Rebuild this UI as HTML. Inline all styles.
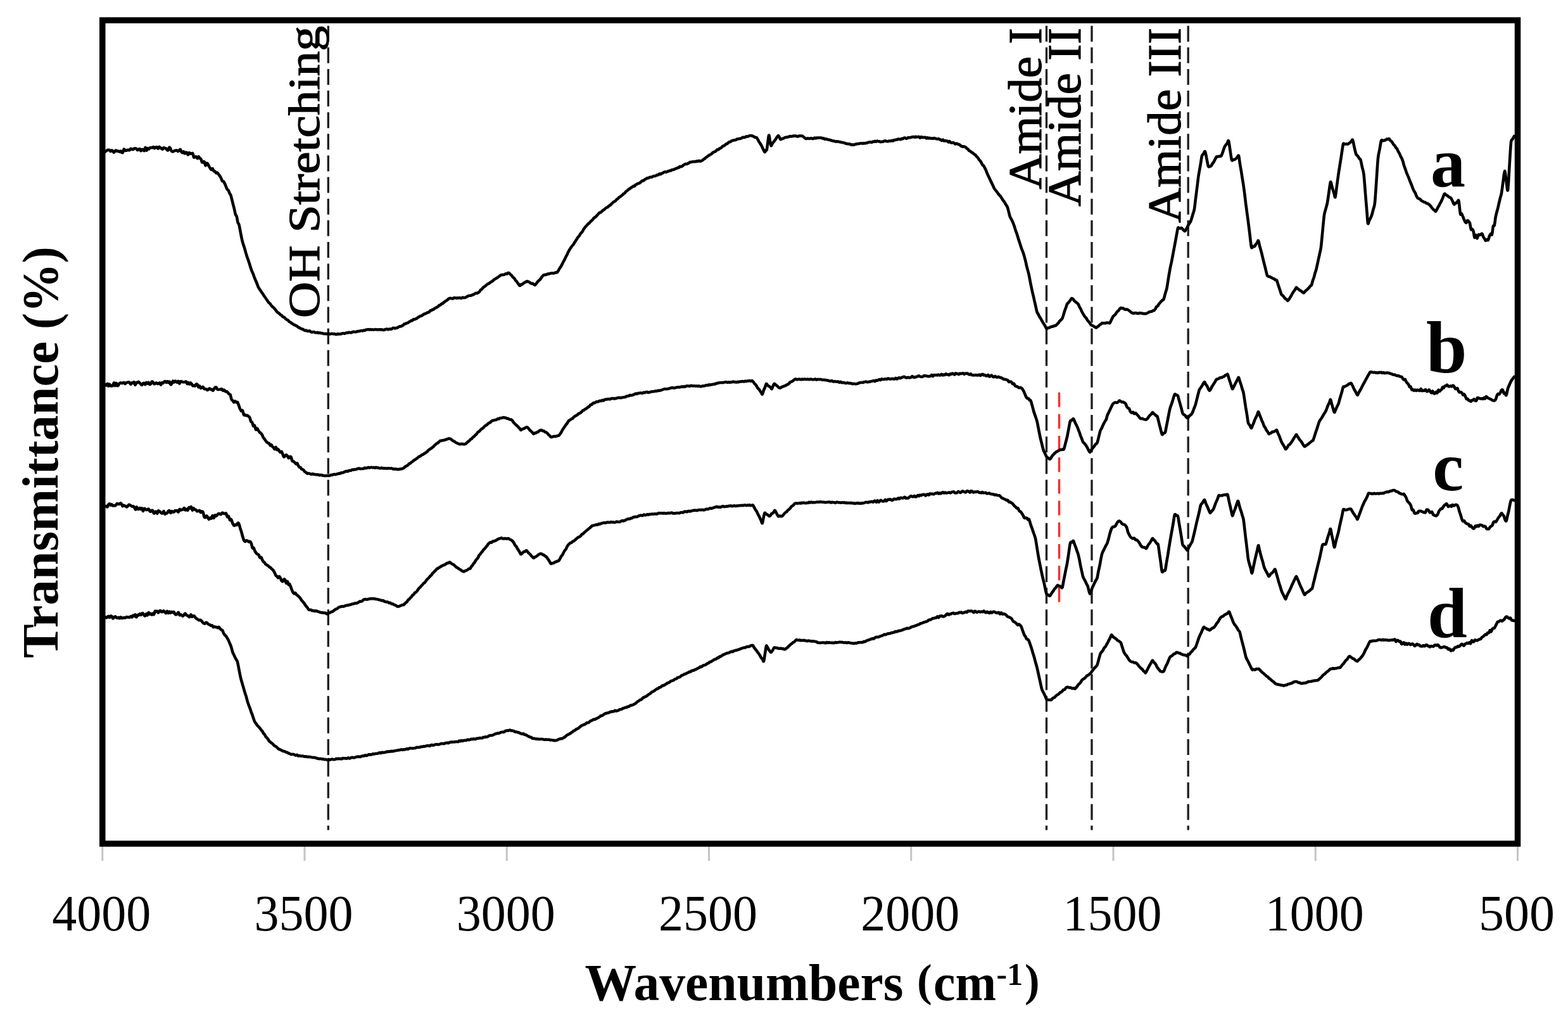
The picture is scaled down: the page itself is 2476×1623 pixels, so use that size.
<!DOCTYPE html>
<html><head><meta charset="utf-8"><title>FTIR spectra</title>
<style>html,body{margin:0;padding:0;background:#fff;}body{width:2476px;height:1623px;overflow:hidden;}svg{display:block;}text{font-family:"Liberation Serif",serif;fill:#000;}</style>
</head><body>
<svg width="2476" height="1623" viewBox="0 0 2476 1623">
<rect width="2476" height="1623" fill="#fff"/>
<g stroke="#c4c4c4" stroke-width="3"><line x1="161.75" y1="1336" x2="161.75" y2="1359"/><line x1="481.00" y1="1336" x2="481.00" y2="1359"/><line x1="800.25" y1="1336" x2="800.25" y2="1359"/><line x1="1119.50" y1="1336" x2="1119.50" y2="1359"/><line x1="1438.75" y1="1336" x2="1438.75" y2="1359"/><line x1="1758.00" y1="1336" x2="1758.00" y2="1359"/><line x1="2077.25" y1="1336" x2="2077.25" y2="1359"/><line x1="2396.50" y1="1336" x2="2396.50" y2="1359"/></g>
<g stroke="#222" stroke-width="3.4" stroke-dasharray="25 9.13" fill="none"><line x1="518.3" y1="40.7" x2="518.3" y2="1310.5"/><line x1="1652.5" y1="40.7" x2="1652.5" y2="1310.5"/><line x1="1724" y1="40.7" x2="1724" y2="1310.5"/><line x1="1876.2" y1="40.7" x2="1876.2" y2="1310.5"/></g>
<line x1="1672.5" y1="619.6" x2="1672.5" y2="952" stroke="#ff2a2a" stroke-width="3.4" stroke-dasharray="23 11.2"/>
<g fill="none" stroke="#000" stroke-width="4.60" stroke-linejoin="round" stroke-linecap="round"><path d="M166.0,239.5C166.3,239.3 167.2,238.7 167.7,238.3C168.3,237.9 168.9,237.3 169.5,237.0C170.0,236.8 170.6,236.9 171.2,236.8C171.8,236.8 172.3,236.5 172.9,236.8C173.5,237.2 174.1,238.8 174.6,238.9C175.2,239.0 175.8,237.4 176.4,237.4C176.9,237.3 177.5,237.9 178.1,238.5C178.7,239.0 179.2,240.7 179.8,240.7C180.4,240.7 181.0,239.0 181.5,238.4C182.1,237.9 182.7,237.4 183.3,237.4C183.8,237.5 184.4,238.6 185.0,238.8C185.6,238.9 186.2,238.3 186.8,238.4C187.4,238.5 188.0,239.5 188.6,239.6C189.2,239.6 189.8,238.3 190.4,238.5C191.0,238.7 191.5,240.3 192.1,240.7C192.7,241.0 193.3,241.5 193.9,240.6C194.5,239.8 195.1,236.1 195.7,235.6C196.3,235.0 196.9,236.9 197.5,237.3C198.1,237.7 198.7,237.8 199.3,237.8C199.9,237.7 200.5,236.9 201.1,236.8C201.7,236.6 202.3,236.9 202.9,236.9C203.5,237.0 204.0,237.4 204.6,237.0C205.2,236.7 205.8,235.0 206.4,234.8C207.0,234.6 207.6,235.4 208.2,235.6C208.8,235.8 209.4,236.2 210.0,236.0C210.6,235.8 211.2,234.9 211.8,234.6C212.4,234.3 213.0,234.2 213.6,234.3C214.2,234.3 214.8,234.3 215.4,234.8C216.0,235.2 216.5,236.8 217.1,237.0C217.7,237.2 218.3,236.3 218.9,236.0C219.5,235.6 220.1,234.7 220.7,235.0C221.3,235.4 221.9,238.0 222.5,238.2C223.1,238.3 223.7,236.4 224.3,236.0C224.9,235.7 225.5,235.9 226.1,236.2C226.7,236.5 227.3,238.5 227.9,237.9C228.5,237.3 229.0,232.9 229.6,232.8C230.2,232.8 230.8,237.4 231.4,237.6C232.0,237.8 232.6,234.4 233.2,234.0C233.8,233.7 234.4,235.6 235.0,235.5C235.6,235.4 236.2,233.8 236.8,233.4C237.4,232.9 238.0,233.1 238.6,233.0C239.2,233.0 239.8,233.4 240.5,233.2C241.1,233.0 241.7,231.8 242.3,232.0C242.9,232.2 243.5,234.2 244.1,234.3C244.7,234.3 245.3,232.9 245.9,232.6C246.5,232.2 247.1,231.9 247.7,232.2C248.3,232.5 248.9,234.7 249.5,234.6C250.2,234.5 250.8,231.9 251.4,231.8C252.0,231.6 252.6,233.4 253.2,233.8C253.8,234.1 254.4,233.7 255.0,234.0C255.6,234.3 256.2,235.7 256.7,235.6C257.3,235.5 257.9,233.5 258.5,233.2C259.0,232.9 259.6,233.7 260.2,233.9C260.8,234.1 261.3,233.8 261.9,234.2C262.5,234.6 263.1,235.9 263.7,236.4C264.2,236.9 264.8,237.8 265.4,237.3C266.0,236.7 266.5,233.5 267.1,232.9C267.7,232.3 268.3,232.9 268.8,233.7C269.4,234.6 270.0,237.0 270.6,238.0C271.2,238.9 271.7,239.2 272.3,239.4C272.9,239.6 273.5,239.2 274.0,238.9C274.6,238.7 275.2,238.3 275.8,238.0C276.3,237.8 276.9,237.6 277.5,237.5C278.1,237.4 278.7,237.1 279.2,237.4C279.8,237.6 280.4,238.9 281.0,239.0C281.6,239.0 282.2,238.2 282.8,237.7C283.3,237.2 283.9,235.7 284.5,235.9C285.1,236.2 285.7,238.3 286.2,239.2C286.8,240.1 287.4,241.3 288.0,241.3C288.6,241.3 289.2,239.1 289.8,239.3C290.3,239.4 290.9,242.1 291.5,242.3C292.1,242.5 292.7,240.8 293.2,240.6C293.8,240.4 294.4,240.4 295.0,241.0C295.6,241.6 296.2,244.4 296.9,244.4C297.5,244.4 298.1,241.4 298.8,241.0C299.4,240.7 300.0,242.3 300.6,242.5C301.2,242.8 301.9,242.4 302.5,242.4C303.1,242.4 303.8,241.4 304.4,242.4C305.0,243.4 305.6,247.7 306.2,248.5C306.9,249.3 307.5,247.5 308.1,247.4C308.8,247.2 309.4,247.0 310.0,247.5C310.6,248.0 311.2,250.2 311.8,250.2C312.4,250.2 313.0,247.4 313.6,247.3C314.2,247.3 314.8,249.3 315.5,249.9C316.1,250.5 316.7,250.0 317.3,251.0C317.9,252.1 318.5,255.4 319.1,256.2C319.7,256.9 320.3,255.7 320.9,255.6C321.5,255.4 322.1,254.5 322.7,255.5C323.3,256.5 323.9,261.0 324.5,261.4C325.2,261.7 325.8,258.0 326.4,257.6C327.0,257.2 327.6,258.1 328.2,258.9C328.8,259.7 329.4,261.4 330.0,262.5C330.6,263.6 331.2,264.7 331.9,265.6C332.5,266.5 333.1,267.9 333.8,268.0C334.4,268.1 335.0,265.8 335.6,266.1C336.2,266.5 336.9,269.4 337.5,270.1C338.1,270.9 338.8,269.9 339.4,270.5C340.0,271.0 340.6,272.9 341.2,273.2C341.9,273.6 342.5,272.3 343.1,272.5C343.8,272.8 344.4,274.1 345.0,275.0C345.6,275.9 346.3,276.8 347.0,277.8C347.7,278.8 348.3,279.6 349.0,281.0C349.7,282.3 350.3,285.0 351.0,285.9C351.7,286.8 352.3,285.8 353.0,286.5C353.7,287.2 354.4,288.7 355.0,290.0C355.6,291.3 356.2,293.0 356.9,294.5C357.5,296.0 358.1,298.0 358.8,299.0C359.4,299.9 360.0,299.4 360.6,300.4C361.2,301.4 361.9,303.7 362.5,305.0C363.1,306.3 363.8,306.6 364.4,308.3C365.0,310.0 365.6,312.8 366.2,315.2C366.9,317.7 367.5,320.4 368.1,322.9C368.8,325.3 369.4,327.4 370.0,330.0C370.6,332.6 371.2,336.6 371.9,338.6C372.5,340.6 373.1,339.8 373.8,341.9C374.4,344.1 375.0,349.3 375.6,351.4C376.2,353.6 376.8,352.2 377.5,355.0C378.2,357.8 379.2,363.8 380.0,368.0C380.8,372.1 381.8,376.9 382.5,380.0C383.2,383.1 383.8,384.5 384.4,386.5C385.0,388.5 385.6,389.9 386.2,392.0C386.9,394.1 387.5,396.8 388.1,398.9C388.8,401.1 389.4,403.1 390.0,405.0C390.6,406.9 391.2,408.4 391.9,410.3C392.5,412.1 393.1,414.1 393.8,416.0C394.4,418.0 395.0,420.1 395.6,422.0C396.2,423.9 396.9,425.8 397.5,427.5C398.1,429.2 398.8,430.3 399.5,431.9C400.2,433.6 400.8,435.7 401.5,437.5C402.2,439.2 402.8,440.8 403.5,442.4C404.2,444.0 404.8,445.3 405.5,447.0C406.2,448.7 406.9,451.0 407.5,452.5C408.1,454.0 408.8,454.8 409.4,455.7C410.0,456.7 410.6,457.4 411.2,458.4C411.9,459.3 412.5,460.5 413.1,461.4C413.8,462.3 414.4,462.9 415.0,463.9C415.6,464.8 416.2,466.1 416.9,467.1C417.5,468.0 418.1,468.7 418.8,469.6C419.4,470.4 420.0,471.4 420.6,472.3C421.2,473.2 421.9,474.1 422.5,475.0C423.1,475.9 423.8,477.0 424.4,477.7C425.0,478.4 425.6,478.4 426.2,479.2C426.9,479.9 427.5,481.2 428.1,482.0C428.8,482.8 429.4,483.5 430.0,484.1C430.6,484.7 431.2,485.0 431.9,485.6C432.5,486.2 433.1,487.0 433.8,487.7C434.4,488.4 435.0,489.0 435.6,489.8C436.2,490.6 436.9,491.8 437.5,492.5C438.1,493.2 438.7,493.3 439.2,493.7C439.8,494.1 440.4,494.4 441.0,495.0C441.5,495.5 442.1,496.4 442.7,496.9C443.3,497.3 443.8,497.2 444.4,497.7C445.0,498.1 445.6,499.2 446.2,499.7C446.7,500.2 447.3,500.3 447.9,500.6C448.5,500.9 449.0,501.0 449.6,501.5C450.2,502.0 450.8,503.1 451.3,503.6C451.9,504.2 452.5,504.4 453.1,504.7C453.7,505.1 454.2,505.1 454.8,505.6C455.4,506.1 456.0,507.2 456.5,507.7C457.1,508.2 457.7,508.1 458.3,508.5C458.8,508.8 459.4,509.6 460.0,510.0C460.6,510.4 461.2,510.7 461.8,511.1C462.4,511.5 463.0,512.0 463.6,512.4C464.2,512.7 464.8,512.8 465.5,513.1C466.1,513.4 466.7,513.6 467.3,514.0C467.9,514.3 468.5,514.5 469.1,514.9C469.7,515.4 470.3,516.1 470.9,516.5C471.5,516.9 472.1,517.1 472.7,517.4C473.3,517.7 473.9,518.2 474.5,518.5C475.2,518.8 475.8,519.0 476.4,519.3C477.0,519.5 477.6,519.6 478.2,519.9C478.8,520.2 479.4,520.7 480.0,521.0C480.6,521.3 481.2,521.9 481.8,522.0C482.3,522.1 482.9,521.5 483.5,521.6C484.1,521.8 484.7,522.4 485.2,522.6C485.8,522.8 486.4,522.8 487.0,522.7C487.6,522.7 488.2,522.3 488.8,522.4C489.3,522.6 489.9,523.3 490.5,523.6C491.1,523.9 491.7,524.3 492.2,524.4C492.8,524.5 493.4,524.3 494.0,524.3C494.6,524.2 495.2,523.9 495.8,524.0C496.3,524.1 496.9,524.8 497.5,525.0C498.1,525.2 498.7,525.4 499.3,525.3C499.9,525.3 500.5,524.8 501.1,524.8C501.7,524.9 502.3,525.5 503.0,525.6C503.6,525.7 504.2,525.3 504.8,525.4C505.4,525.4 506.0,525.9 506.6,526.0C507.2,526.1 507.8,525.9 508.4,526.0C509.0,526.1 509.6,526.4 510.2,526.6C510.8,526.7 511.4,527.0 512.0,527.0C512.7,527.1 513.3,526.9 513.9,526.9C514.5,526.9 515.1,527.1 515.7,527.1C516.3,527.1 516.9,527.1 517.5,527.0C518.1,526.9 518.7,526.7 519.2,526.7C519.8,526.8 520.4,527.5 521.0,527.5C521.6,527.5 522.2,527.0 522.8,526.9C523.3,526.8 523.9,526.6 524.5,526.7C525.1,526.7 525.7,527.2 526.2,527.3C526.8,527.3 527.4,527.0 528.0,527.1C528.6,527.2 529.2,527.6 529.8,527.8C530.3,527.9 530.9,527.9 531.5,527.8C532.1,527.7 532.7,527.2 533.2,527.1C533.8,527.1 534.4,527.5 535.0,527.5C535.6,527.5 536.2,527.4 536.8,527.3C537.4,527.3 538.0,527.4 538.6,527.3C539.2,527.1 539.8,526.6 540.4,526.4C541.0,526.2 541.5,526.2 542.1,526.2C542.7,526.2 543.3,526.7 543.9,526.6C544.5,526.6 545.1,526.1 545.7,525.9C546.3,525.7 546.9,525.2 547.5,525.2C548.1,525.1 548.7,525.7 549.3,525.6C549.9,525.5 550.5,524.8 551.1,524.7C551.7,524.7 552.3,525.0 552.9,525.1C553.5,525.1 554.0,525.3 554.6,525.1C555.2,525.0 555.8,524.5 556.4,524.3C557.0,524.0 557.6,523.9 558.2,523.8C558.8,523.8 559.4,524.0 560.0,524.0C560.6,524.0 561.2,524.1 561.8,524.0C562.4,523.9 563.0,523.7 563.6,523.5C564.2,523.4 564.8,523.1 565.4,523.0C566.0,522.9 566.5,523.1 567.1,523.0C567.7,522.9 568.3,522.6 568.9,522.4C569.5,522.2 570.1,522.0 570.7,522.0C571.3,522.0 571.9,522.5 572.5,522.4C573.1,522.4 573.7,521.6 574.3,521.5C574.9,521.4 575.5,521.8 576.1,521.7C576.7,521.5 577.3,520.8 577.9,520.6C578.5,520.3 579.0,520.5 579.6,520.4C580.2,520.3 580.8,520.1 581.4,520.1C582.0,520.1 582.6,520.4 583.2,520.4C583.8,520.4 584.4,520.0 585.0,520.0C585.6,520.0 586.2,520.4 586.7,520.5C587.3,520.5 587.9,520.3 588.5,520.3C589.0,520.3 589.6,520.5 590.2,520.5C590.8,520.5 591.3,520.3 591.9,520.3C592.5,520.2 593.1,520.0 593.7,520.1C594.2,520.1 594.8,520.4 595.4,520.5C596.0,520.6 596.5,520.5 597.1,520.5C597.7,520.4 598.3,520.3 598.8,520.3C599.4,520.3 600.0,520.4 600.6,520.4C601.2,520.4 601.7,520.3 602.3,520.3C602.9,520.4 603.5,520.6 604.0,520.7C604.6,520.8 605.2,521.0 605.8,520.9C606.3,520.9 606.9,520.7 607.5,520.5C608.1,520.3 608.7,519.8 609.3,519.7C609.9,519.5 610.5,519.5 611.1,519.6C611.7,519.7 612.3,520.2 613.0,520.2C613.6,520.1 614.2,519.6 614.8,519.5C615.4,519.5 616.0,519.6 616.6,519.6C617.2,519.6 617.8,519.7 618.4,519.4C619.0,519.1 619.6,518.3 620.2,518.0C620.8,517.8 621.4,517.7 622.0,517.8C622.7,517.8 623.3,518.4 623.9,518.4C624.5,518.4 625.1,517.9 625.7,517.7C626.3,517.6 626.9,517.7 627.5,517.5C628.1,517.3 628.7,516.7 629.3,516.4C629.9,516.0 630.5,515.6 631.1,515.4C631.7,515.2 632.3,515.5 633.0,515.3C633.6,515.2 634.2,514.7 634.8,514.4C635.4,514.1 636.0,514.0 636.6,513.5C637.2,513.0 637.8,511.9 638.4,511.5C639.0,511.2 639.6,511.4 640.2,511.2C640.8,510.9 641.4,510.4 642.0,510.2C642.7,509.9 643.3,510.1 643.9,509.8C644.5,509.5 645.1,508.6 645.7,508.3C646.3,507.9 646.9,507.9 647.5,507.5C648.1,507.1 648.7,506.3 649.3,506.1C649.9,505.9 650.5,506.4 651.1,506.1C651.7,505.8 652.3,504.6 652.9,504.2C653.5,503.9 654.0,504.3 654.6,504.2C655.2,504.0 655.8,503.7 656.4,503.5C657.0,503.2 657.6,503.1 658.2,502.7C658.8,502.3 659.4,501.5 660.0,501.1C660.6,500.7 661.2,500.5 661.8,500.1C662.4,499.8 663.0,499.3 663.6,499.1C664.2,498.8 664.8,499.0 665.4,498.8C666.0,498.5 666.5,498.0 667.1,497.6C667.7,497.2 668.3,496.7 668.9,496.3C669.5,496.0 670.1,495.7 670.7,495.5C671.3,495.3 671.9,495.3 672.5,495.0C673.1,494.7 673.7,494.1 674.2,493.8C674.8,493.5 675.4,493.5 676.0,493.3C676.6,493.1 677.2,492.9 677.8,492.5C678.3,492.0 678.9,490.8 679.5,490.4C680.1,490.0 680.7,490.3 681.2,490.0C681.8,489.8 682.4,489.1 683.0,488.8C683.6,488.5 684.2,488.7 684.8,488.3C685.3,488.0 685.9,487.1 686.5,486.8C687.1,486.4 687.7,486.4 688.2,486.1C688.8,485.8 689.4,485.4 690.0,485.0C690.6,484.6 691.2,484.4 691.8,483.9C692.4,483.4 693.0,482.4 693.6,482.0C694.2,481.6 694.8,482.0 695.5,481.6C696.1,481.2 696.7,480.0 697.3,479.6C697.9,479.2 698.5,479.6 699.1,479.2C699.7,478.8 700.3,477.8 700.9,477.3C701.5,476.8 702.1,476.4 702.7,476.0C703.3,475.6 703.9,475.1 704.5,474.8C705.2,474.4 705.8,474.1 706.4,473.7C707.0,473.2 707.6,472.4 708.2,472.0C708.8,471.5 709.4,471.2 710.0,471.0C710.6,470.8 711.2,470.9 711.7,470.9C712.3,471.0 712.9,471.2 713.5,471.3C714.0,471.3 714.6,471.6 715.2,471.4C715.8,471.2 716.3,470.3 716.9,470.1C717.5,469.9 718.1,470.1 718.7,470.2C719.2,470.3 719.8,470.7 720.4,470.7C721.0,470.8 721.5,470.4 722.1,470.3C722.7,470.3 723.3,470.6 723.8,470.5C724.4,470.4 725.0,469.9 725.6,470.0C726.2,470.0 726.7,470.7 727.3,470.8C727.9,470.8 728.5,470.7 729.0,470.5C729.6,470.3 730.2,469.7 730.8,469.6C731.3,469.5 731.9,469.9 732.5,470.0C733.1,470.1 733.7,470.1 734.2,469.9C734.8,469.8 735.4,469.6 736.0,469.3C736.5,469.0 737.1,468.4 737.7,468.1C738.3,467.7 738.8,467.4 739.4,467.2C740.0,466.9 740.6,466.7 741.2,466.7C741.7,466.6 742.3,466.9 742.9,466.8C743.5,466.7 744.0,466.3 744.6,466.1C745.2,465.9 745.8,465.7 746.3,465.5C746.9,465.3 747.5,465.2 748.1,464.9C748.7,464.6 749.2,464.0 749.8,463.7C750.4,463.3 751.0,462.9 751.5,462.7C752.1,462.6 752.7,463.1 753.3,463.0C753.8,462.8 754.4,462.4 755.0,462.0C755.6,461.6 756.3,461.3 757.0,460.6C757.7,459.9 758.3,458.4 759.0,457.7C759.7,457.1 760.3,457.2 761.0,456.5C761.7,455.9 762.3,454.5 763.0,453.8C763.7,453.2 764.4,452.9 765.0,452.5C765.6,452.1 766.2,451.8 766.8,451.3C767.4,450.8 768.0,450.1 768.6,449.6C769.2,449.1 769.8,448.6 770.4,448.3C771.0,448.0 771.5,448.0 772.1,447.6C772.7,447.3 773.3,446.6 773.9,446.2C774.5,445.7 775.1,445.3 775.7,444.9C776.3,444.6 776.9,444.5 777.5,444.0C778.1,443.5 778.7,442.7 779.3,442.2C779.9,441.7 780.5,441.2 781.1,440.9C781.7,440.5 782.3,440.3 782.9,439.9C783.5,439.6 784.0,439.2 784.6,438.8C785.2,438.5 785.8,438.1 786.4,437.7C787.0,437.2 787.6,436.8 788.2,436.3C788.8,435.9 789.4,435.4 790.0,435.0C790.6,434.6 791.1,434.2 791.7,434.1C792.3,433.9 792.9,433.9 793.4,433.9C794.0,433.8 794.6,433.9 795.2,433.8C795.7,433.7 796.3,433.6 796.9,433.3C797.4,433.1 798.0,432.3 798.6,432.1C799.2,432.0 799.7,432.7 800.3,432.5C800.9,432.3 801.5,431.3 802.0,431.0C802.6,430.8 803.2,430.7 803.8,431.0C804.3,431.3 804.9,432.3 805.5,432.8C806.1,433.3 806.7,433.6 807.2,434.2C807.8,434.8 808.4,435.8 809.0,436.4C809.6,437.1 810.2,437.7 810.8,438.3C811.3,438.9 811.9,439.3 812.5,440.0C813.1,440.7 813.6,442.0 814.2,442.8C814.8,443.5 815.3,443.9 815.9,444.6C816.5,445.3 817.0,446.2 817.6,447.0C818.2,447.7 818.7,448.6 819.3,449.3C819.9,449.9 820.4,451.0 821.0,451.0C821.6,451.0 822.3,449.6 822.9,449.2C823.6,448.9 824.2,449.3 824.8,448.9C825.5,448.6 826.1,447.4 826.8,446.9C827.4,446.5 828.0,446.3 828.7,446.0C829.3,445.7 829.9,445.2 830.6,444.9C831.2,444.5 831.9,444.0 832.5,444.0C833.1,444.0 833.7,444.6 834.3,444.8C834.9,445.0 835.5,445.1 836.1,445.5C836.7,445.8 837.3,446.6 837.9,447.0C838.5,447.4 839.0,447.5 839.6,447.7C840.2,447.8 840.8,447.5 841.4,447.7C842.0,448.0 842.6,448.6 843.2,449.0C843.8,449.4 844.4,450.2 845.0,450.0C845.6,449.8 846.2,448.7 846.8,447.9C847.4,447.1 848.0,446.0 848.6,445.3C849.2,444.5 849.8,444.1 850.4,443.5C851.0,443.0 851.5,442.6 852.1,441.9C852.7,441.3 853.3,440.6 853.9,439.8C854.5,439.0 855.1,437.9 855.7,437.1C856.3,436.3 856.9,435.5 857.5,435.0C858.1,434.5 858.8,434.2 859.4,434.0C860.0,433.8 860.6,434.0 861.2,433.9C861.9,433.8 862.5,433.5 863.1,433.3C863.8,433.1 864.4,432.7 865.0,432.5C865.6,432.3 866.2,432.5 866.9,432.4C867.5,432.2 868.1,432.0 868.8,431.8C869.4,431.6 870.0,431.3 870.6,431.2C871.2,431.2 871.9,431.2 872.5,431.2C873.1,431.3 873.8,431.5 874.4,431.4C875.0,431.4 875.6,430.9 876.2,430.7C876.9,430.4 877.5,430.1 878.1,430.0C878.8,429.9 879.4,430.5 880.0,430.0C880.6,429.5 881.2,428.1 881.9,427.0C882.5,426.0 883.1,424.5 883.8,423.5C884.4,422.5 885.0,422.0 885.6,421.0C886.2,420.0 886.9,418.8 887.5,417.5C888.1,416.2 888.8,414.8 889.5,413.5C890.2,412.2 890.8,411.1 891.5,409.8C892.2,408.5 892.8,407.0 893.5,405.7C894.2,404.4 894.8,403.2 895.5,401.9C896.2,400.5 896.8,398.8 897.5,397.5C898.2,396.2 898.8,395.1 899.5,394.0C900.2,392.9 900.8,391.9 901.5,390.9C902.2,389.9 902.8,389.0 903.5,388.1C904.2,387.3 904.8,386.8 905.5,385.9C906.2,384.9 906.9,383.5 907.5,382.5C908.1,381.5 908.7,380.8 909.2,379.9C909.8,379.1 910.4,378.2 911.0,377.3C911.6,376.4 912.2,375.2 912.8,374.4C913.3,373.7 913.9,373.7 914.5,372.8C915.1,372.0 915.7,370.5 916.2,369.6C916.8,368.7 917.4,368.1 918.0,367.4C918.6,366.7 919.2,366.4 919.8,365.5C920.3,364.6 920.9,363.0 921.5,362.1C922.1,361.2 922.7,360.6 923.2,359.8C923.8,359.1 924.4,358.2 925.0,357.5C925.6,356.8 926.2,356.5 926.8,355.8C927.4,355.1 928.0,354.1 928.6,353.6C929.2,353.0 929.8,352.9 930.5,352.4C931.1,351.8 931.7,350.7 932.3,350.1C932.9,349.4 933.5,349.1 934.1,348.5C934.7,348.0 935.3,347.5 935.9,346.8C936.5,346.1 937.1,345.0 937.7,344.3C938.3,343.7 938.9,343.6 939.5,343.1C940.2,342.7 940.8,342.3 941.4,341.7C942.0,341.1 942.6,340.3 943.2,339.6C943.8,338.9 944.4,338.1 945.0,337.5C945.6,336.9 946.2,336.1 946.8,335.8C947.4,335.4 948.0,335.7 948.6,335.4C949.2,335.0 949.8,334.1 950.5,333.6C951.1,333.0 951.7,332.5 952.3,332.0C952.9,331.6 953.5,331.3 954.1,330.8C954.7,330.3 955.3,329.7 955.9,329.1C956.5,328.6 957.1,328.0 957.7,327.7C958.3,327.3 958.9,327.5 959.5,327.1C960.2,326.6 960.8,325.5 961.4,325.1C962.0,324.6 962.6,324.8 963.2,324.3C963.8,323.9 964.4,323.1 965.0,322.5C965.6,321.9 966.2,321.4 966.8,320.8C967.4,320.3 967.9,319.6 968.5,319.1C969.1,318.7 969.7,318.6 970.3,318.2C970.9,317.9 971.5,317.4 972.1,316.9C972.6,316.4 973.2,315.6 973.8,315.1C974.4,314.5 975.0,314.2 975.6,313.6C976.2,313.1 976.8,312.2 977.4,311.7C977.9,311.3 978.5,311.1 979.1,310.7C979.7,310.3 980.3,309.8 980.9,309.4C981.5,309.0 982.1,308.7 982.6,308.1C983.2,307.6 983.8,306.5 984.4,306.0C985.0,305.5 985.6,305.8 986.2,305.3C986.8,304.8 987.4,303.5 987.9,302.9C988.5,302.3 989.1,302.0 989.7,301.5C990.3,301.0 990.9,300.5 991.5,300.0C992.1,299.6 992.6,299.2 993.2,298.8C993.8,298.4 994.4,297.9 995.0,297.5C995.6,297.1 996.2,296.5 996.8,296.1C997.4,295.7 998.0,295.5 998.6,295.1C999.2,294.7 999.8,294.0 1000.4,293.8C1001.0,293.6 1001.5,294.2 1002.1,293.8C1002.7,293.4 1003.3,292.1 1003.9,291.6C1004.5,291.1 1005.1,291.2 1005.7,290.8C1006.3,290.5 1006.9,289.9 1007.5,289.6C1008.1,289.4 1008.7,289.6 1009.3,289.4C1009.9,289.1 1010.5,288.5 1011.1,288.1C1011.7,287.6 1012.3,286.9 1012.9,286.4C1013.5,285.9 1014.0,285.4 1014.6,285.2C1015.2,285.0 1015.8,285.4 1016.4,285.1C1017.0,284.8 1017.6,283.7 1018.2,283.3C1018.8,282.8 1019.4,282.8 1020.0,282.5C1020.6,282.2 1021.2,281.6 1021.8,281.3C1022.4,281.1 1023.0,281.2 1023.6,281.0C1024.2,280.9 1024.8,280.5 1025.4,280.3C1026.0,280.0 1026.5,279.5 1027.1,279.5C1027.7,279.4 1028.3,279.9 1028.9,279.8C1029.5,279.7 1030.1,279.1 1030.7,278.8C1031.3,278.5 1031.9,278.1 1032.5,278.0C1033.1,277.9 1033.7,278.2 1034.3,278.0C1034.9,277.9 1035.5,277.6 1036.1,277.2C1036.7,276.9 1037.3,276.4 1037.9,276.2C1038.5,276.0 1039.0,276.5 1039.6,276.2C1040.2,275.9 1040.8,274.6 1041.4,274.4C1042.0,274.2 1042.6,275.1 1043.2,275.0C1043.8,274.8 1044.4,274.1 1045.0,273.8C1045.6,273.4 1046.2,273.3 1046.8,273.0C1047.4,272.7 1048.0,272.2 1048.6,271.9C1049.2,271.6 1049.8,271.3 1050.4,271.3C1051.0,271.3 1051.5,271.8 1052.1,271.7C1052.7,271.6 1053.3,271.1 1053.9,270.8C1054.5,270.6 1055.1,270.4 1055.7,270.2C1056.3,269.9 1056.9,269.5 1057.5,269.4C1058.1,269.2 1058.7,269.5 1059.3,269.3C1059.9,269.1 1060.5,268.4 1061.1,268.1C1061.7,267.9 1062.3,268.1 1062.9,268.0C1063.5,267.8 1064.0,267.7 1064.6,267.4C1065.2,267.2 1065.8,266.7 1066.4,266.4C1067.0,266.2 1067.6,266.2 1068.2,265.9C1068.8,265.7 1069.4,265.2 1070.0,265.0C1070.6,264.8 1071.2,264.9 1071.8,264.6C1072.4,264.2 1073.0,263.2 1073.6,262.9C1074.2,262.7 1074.8,263.2 1075.5,263.1C1076.1,263.0 1076.7,262.7 1077.3,262.3C1077.9,261.9 1078.5,261.3 1079.1,260.8C1079.7,260.4 1080.3,260.0 1080.9,259.7C1081.5,259.3 1082.1,258.9 1082.7,258.8C1083.3,258.6 1083.9,259.1 1084.5,259.0C1085.2,258.9 1085.8,258.4 1086.4,258.1C1087.0,257.8 1087.6,257.4 1088.2,257.0C1088.8,256.7 1089.4,256.2 1090.0,256.0C1090.6,255.8 1091.2,255.9 1091.8,255.8C1092.3,255.7 1092.9,255.5 1093.5,255.4C1094.1,255.3 1094.7,255.3 1095.2,255.2C1095.8,255.1 1096.4,255.1 1097.0,255.1C1097.6,255.1 1098.2,255.2 1098.8,255.1C1099.3,255.0 1099.9,254.4 1100.5,254.3C1101.1,254.2 1101.7,254.7 1102.2,254.7C1102.8,254.6 1103.4,253.9 1104.0,253.9C1104.6,253.9 1105.2,254.6 1105.8,254.6C1106.3,254.6 1106.9,254.3 1107.5,254.0C1108.1,253.7 1108.7,253.5 1109.3,253.1C1109.9,252.6 1110.5,251.8 1111.1,251.4C1111.7,251.0 1112.3,251.0 1113.0,250.5C1113.6,250.0 1114.2,249.1 1114.8,248.6C1115.4,248.1 1116.0,247.9 1116.6,247.5C1117.2,247.1 1117.8,246.5 1118.4,246.1C1119.0,245.6 1119.6,245.3 1120.2,244.9C1120.8,244.6 1121.4,244.3 1122.0,243.9C1122.7,243.6 1123.3,243.3 1123.9,242.8C1124.5,242.3 1125.1,241.2 1125.7,240.7C1126.3,240.3 1126.9,240.2 1127.5,240.0C1128.1,239.8 1128.6,239.8 1129.2,239.4C1129.8,239.1 1130.4,238.4 1130.9,237.9C1131.5,237.4 1132.1,236.5 1132.7,236.3C1133.2,236.0 1133.8,236.5 1134.4,236.2C1134.9,235.9 1135.5,234.8 1136.1,234.5C1136.7,234.1 1137.2,234.2 1137.8,233.9C1138.4,233.6 1139.0,233.1 1139.5,232.6C1140.1,232.1 1140.7,231.3 1141.2,230.9C1141.8,230.5 1142.4,230.6 1143.0,230.3C1143.5,230.0 1144.1,229.5 1144.7,229.1C1145.3,228.6 1145.8,228.0 1146.4,227.6C1147.0,227.3 1147.6,227.4 1148.1,227.0C1148.7,226.7 1149.3,225.9 1149.8,225.4C1150.4,225.0 1151.0,224.3 1151.6,224.1C1152.1,223.9 1152.7,224.3 1153.3,224.0C1153.9,223.7 1154.4,222.8 1155.0,222.5C1155.6,222.2 1156.2,222.1 1156.8,221.9C1157.4,221.8 1157.9,221.6 1158.5,221.4C1159.1,221.3 1159.7,221.3 1160.3,221.2C1160.9,221.0 1161.5,221.0 1162.1,220.8C1162.6,220.5 1163.2,219.8 1163.8,219.5C1164.4,219.3 1165.0,219.6 1165.6,219.5C1166.2,219.4 1166.8,219.0 1167.4,218.9C1167.9,218.7 1168.5,218.9 1169.1,218.8C1169.7,218.7 1170.3,218.6 1170.9,218.2C1171.5,217.9 1172.1,217.1 1172.6,216.9C1173.2,216.7 1173.8,216.9 1174.4,216.9C1175.0,216.9 1175.6,217.0 1176.2,216.9C1176.8,216.7 1177.4,215.9 1177.9,215.7C1178.5,215.5 1179.1,215.4 1179.7,215.4C1180.3,215.4 1180.9,215.6 1181.5,215.4C1182.1,215.3 1182.6,214.7 1183.2,214.5C1183.8,214.2 1184.4,214.0 1185.0,214.0C1185.6,214.0 1186.3,214.2 1187.0,214.4C1187.7,214.5 1188.3,214.7 1189.0,215.0C1189.7,215.3 1190.3,215.8 1191.0,216.1C1191.7,216.4 1192.3,216.7 1193.0,216.9C1193.7,217.2 1194.4,216.9 1195.0,217.5C1195.6,218.1 1196.2,219.6 1196.9,220.7C1197.5,221.8 1198.1,223.2 1198.8,224.2C1199.4,225.3 1200.0,225.9 1200.6,226.9C1201.2,227.8 1201.8,228.6 1202.5,230.0C1203.2,231.4 1204.2,233.6 1205.0,235.2C1205.8,236.9 1206.8,239.6 1207.5,240.0C1208.2,240.4 1208.7,238.4 1209.2,237.6C1209.8,236.8 1210.2,238.9 1211.0,235.0C1211.8,231.1 1213.2,216.2 1214.0,214.0C1214.8,211.8 1215.2,219.3 1215.8,222.0C1216.3,224.6 1216.9,229.1 1217.5,230.0C1218.1,230.9 1218.8,228.1 1219.4,227.1C1220.1,226.2 1220.7,225.2 1221.3,224.4C1222.0,223.6 1222.6,223.1 1223.2,222.2C1223.9,221.4 1224.5,220.3 1225.2,219.2C1225.8,218.2 1226.4,217.0 1227.1,216.1C1227.7,215.2 1228.4,213.9 1229.0,214.0C1229.6,214.1 1230.2,215.9 1230.8,216.9C1231.3,217.9 1231.9,219.6 1232.5,220.0C1233.1,220.4 1233.8,219.4 1234.4,219.2C1235.0,219.0 1235.6,219.0 1236.2,218.8C1236.9,218.6 1237.5,218.2 1238.1,217.9C1238.8,217.6 1239.4,217.1 1240.0,216.9C1240.6,216.7 1241.2,216.8 1241.9,216.7C1242.5,216.6 1243.1,216.5 1243.8,216.4C1244.4,216.3 1245.0,216.3 1245.6,216.0C1246.2,215.8 1246.9,215.1 1247.5,215.0C1248.1,214.9 1248.7,215.5 1249.3,215.5C1249.9,215.5 1250.5,215.2 1251.1,215.1C1251.7,214.9 1252.3,214.7 1253.0,214.6C1253.6,214.6 1254.2,214.7 1254.8,214.7C1255.4,214.7 1256.0,214.4 1256.6,214.5C1257.2,214.6 1257.8,215.3 1258.4,215.4C1259.0,215.5 1259.6,215.5 1260.2,215.3C1260.8,215.2 1261.4,214.6 1262.0,214.5C1262.7,214.4 1263.3,214.5 1263.9,214.5C1264.5,214.5 1265.1,214.4 1265.7,214.5C1266.3,214.6 1266.8,214.5 1267.5,215.0C1268.2,215.5 1269.2,216.6 1270.0,217.2C1270.8,217.9 1271.8,218.8 1272.5,219.0C1273.2,219.2 1273.7,218.8 1274.2,218.7C1274.8,218.6 1275.4,218.2 1276.0,218.3C1276.5,218.3 1277.1,218.9 1277.7,218.9C1278.3,219.0 1278.8,218.5 1279.4,218.4C1280.0,218.3 1280.6,218.2 1281.2,218.3C1281.7,218.4 1282.3,218.8 1282.9,218.9C1283.5,218.9 1284.0,219.0 1284.6,218.8C1285.2,218.6 1285.8,217.6 1286.3,217.6C1286.9,217.5 1287.5,218.5 1288.1,218.5C1288.7,218.5 1289.2,217.6 1289.8,217.5C1290.4,217.3 1291.0,217.7 1291.5,217.7C1292.1,217.8 1292.7,217.5 1293.3,217.5C1293.8,217.5 1294.4,217.5 1295.0,217.5C1295.6,217.5 1296.2,217.4 1296.8,217.6C1297.4,217.7 1298.0,218.3 1298.6,218.4C1299.2,218.5 1299.8,218.1 1300.5,218.3C1301.1,218.6 1301.7,219.7 1302.3,219.8C1302.9,220.0 1303.5,219.2 1304.1,219.2C1304.7,219.2 1305.3,219.7 1305.9,219.9C1306.5,220.1 1307.1,220.3 1307.7,220.4C1308.3,220.6 1308.9,220.5 1309.5,220.7C1310.2,220.8 1310.8,221.0 1311.4,221.2C1312.0,221.4 1312.6,221.5 1313.2,221.7C1313.8,222.0 1314.4,222.4 1315.0,222.5C1315.6,222.6 1316.2,222.3 1316.9,222.5C1317.5,222.6 1318.1,223.3 1318.8,223.4C1319.4,223.6 1320.0,223.4 1320.6,223.4C1321.2,223.4 1321.9,223.3 1322.5,223.4C1323.1,223.4 1323.8,223.6 1324.4,223.7C1325.0,223.8 1325.6,224.0 1326.2,224.1C1326.9,224.2 1327.5,224.3 1328.1,224.4C1328.8,224.6 1329.4,224.9 1330.0,225.0C1330.6,225.1 1331.2,225.1 1331.9,225.3C1332.5,225.4 1333.1,225.5 1333.8,225.7C1334.4,226.0 1335.0,226.3 1335.6,226.5C1336.2,226.7 1336.9,226.8 1337.5,227.0C1338.1,227.1 1338.8,227.1 1339.4,227.2C1340.0,227.3 1340.6,227.3 1341.2,227.4C1341.9,227.5 1342.5,227.7 1343.1,228.0C1343.8,228.2 1344.4,228.7 1345.0,228.8C1345.6,228.8 1346.2,228.3 1346.8,228.3C1347.3,228.3 1347.9,228.9 1348.5,228.8C1349.1,228.8 1349.7,228.0 1350.2,227.8C1350.8,227.6 1351.4,227.6 1352.0,227.5C1352.6,227.4 1353.2,227.1 1353.8,227.0C1354.3,226.9 1354.9,227.1 1355.5,227.0C1356.1,227.0 1356.7,226.8 1357.2,226.7C1357.8,226.6 1358.4,226.2 1359.0,226.2C1359.6,226.1 1360.2,226.3 1360.8,226.4C1361.3,226.4 1361.9,226.6 1362.5,226.5C1363.1,226.4 1363.7,226.0 1364.2,226.0C1364.8,225.9 1365.4,226.4 1366.0,226.3C1366.6,226.3 1367.2,225.8 1367.8,225.7C1368.3,225.5 1368.9,225.8 1369.5,225.6C1370.1,225.4 1370.7,224.9 1371.2,224.7C1371.8,224.5 1372.4,224.6 1373.0,224.5C1373.6,224.4 1374.2,224.1 1374.8,224.2C1375.3,224.2 1375.9,224.9 1376.5,224.8C1377.1,224.7 1377.7,223.9 1378.2,223.7C1378.8,223.5 1379.4,223.9 1380.0,223.8C1380.6,223.6 1381.2,222.9 1381.8,222.9C1382.4,222.9 1383.0,223.7 1383.6,223.6C1384.2,223.6 1384.8,222.6 1385.4,222.6C1386.0,222.5 1386.5,223.1 1387.1,223.2C1387.7,223.3 1388.3,223.2 1388.9,223.3C1389.5,223.5 1390.1,224.1 1390.7,224.1C1391.3,224.2 1391.9,223.8 1392.5,223.7C1393.1,223.7 1393.7,223.8 1394.3,223.6C1394.9,223.5 1395.5,223.0 1396.1,222.8C1396.7,222.6 1397.3,222.3 1397.9,222.3C1398.5,222.4 1399.0,222.9 1399.6,223.1C1400.2,223.2 1400.8,223.3 1401.4,223.2C1402.0,223.1 1402.6,222.8 1403.2,222.7C1403.8,222.5 1404.4,222.5 1405.0,222.5C1405.6,222.5 1406.1,222.7 1406.7,222.6C1407.3,222.5 1407.8,221.7 1408.4,221.7C1409.0,221.7 1409.5,222.6 1410.1,222.5C1410.7,222.4 1411.2,221.4 1411.8,221.1C1412.4,220.9 1413.0,221.2 1413.5,221.1C1414.1,220.9 1414.7,220.5 1415.2,220.4C1415.8,220.3 1416.4,220.5 1416.9,220.4C1417.5,220.2 1418.1,219.7 1418.6,219.6C1419.2,219.5 1419.8,219.6 1420.3,219.7C1420.9,219.8 1421.5,220.4 1422.0,220.2C1422.6,220.0 1423.2,219.0 1423.8,218.8C1424.3,218.6 1424.9,219.4 1425.5,219.2C1426.0,219.1 1426.6,218.2 1427.2,217.9C1427.7,217.6 1428.3,217.3 1428.9,217.5C1429.4,217.6 1430.0,218.4 1430.6,218.6C1431.1,218.8 1431.7,218.8 1432.3,218.5C1432.8,218.3 1433.4,217.3 1434.0,217.1C1434.5,216.9 1435.1,217.3 1435.7,217.3C1436.2,217.3 1436.8,217.4 1437.4,217.2C1438.0,217.1 1438.5,216.8 1439.1,216.6C1439.7,216.5 1440.2,216.4 1440.8,216.3C1441.4,216.2 1441.9,215.9 1442.5,216.0C1443.1,216.1 1443.6,216.8 1444.2,216.8C1444.8,216.7 1445.3,215.9 1445.9,215.9C1446.5,215.8 1447.0,216.5 1447.6,216.5C1448.2,216.5 1448.8,216.0 1449.3,216.0C1449.9,215.9 1450.5,215.8 1451.0,216.1C1451.6,216.4 1452.2,217.8 1452.7,217.8C1453.3,217.8 1453.9,216.3 1454.4,216.2C1455.0,216.0 1455.6,216.9 1456.1,217.0C1456.7,217.1 1457.3,216.7 1457.8,216.7C1458.4,216.7 1459.0,216.9 1459.5,217.0C1460.1,217.0 1460.7,216.6 1461.2,216.8C1461.8,217.1 1462.4,218.4 1463.0,218.5C1463.5,218.6 1464.1,217.3 1464.7,217.3C1465.2,217.3 1465.8,218.3 1466.4,218.4C1466.9,218.5 1467.5,217.9 1468.1,217.9C1468.6,217.9 1469.2,218.5 1469.8,218.5C1470.3,218.6 1470.9,218.4 1471.5,218.4C1472.0,218.5 1472.6,218.8 1473.2,218.7C1473.8,218.7 1474.3,218.2 1474.9,218.1C1475.5,218.1 1476.0,218.3 1476.6,218.5C1477.2,218.6 1477.7,218.9 1478.3,219.1C1478.9,219.3 1479.4,219.5 1480.0,219.5C1480.6,219.5 1481.2,219.0 1481.8,219.0C1482.4,219.1 1483.0,219.7 1483.6,220.0C1484.2,220.2 1484.8,220.3 1485.4,220.6C1486.0,220.9 1486.5,222.0 1487.1,222.0C1487.7,222.0 1488.3,220.4 1488.9,220.5C1489.5,220.6 1490.1,222.2 1490.7,222.5C1491.3,222.8 1491.9,222.1 1492.5,222.1C1493.1,222.1 1493.7,222.4 1494.3,222.5C1494.9,222.6 1495.5,222.6 1496.1,222.9C1496.7,223.2 1497.3,224.3 1497.9,224.4C1498.5,224.4 1499.0,223.0 1499.6,223.1C1500.2,223.3 1500.8,224.8 1501.4,225.2C1502.0,225.6 1502.6,225.5 1503.2,225.5C1503.8,225.5 1504.4,224.9 1505.0,225.0C1505.6,225.1 1506.2,225.5 1506.8,225.9C1507.4,226.3 1508.0,227.3 1508.6,227.4C1509.2,227.5 1509.8,226.4 1510.5,226.5C1511.1,226.5 1511.7,227.3 1512.3,227.5C1512.9,227.7 1513.5,227.7 1514.1,227.9C1514.7,228.2 1515.3,228.7 1515.9,229.2C1516.5,229.6 1517.1,230.1 1517.7,230.5C1518.3,230.9 1518.9,231.2 1519.5,231.4C1520.2,231.5 1520.8,231.3 1521.4,231.3C1522.0,231.4 1522.6,231.4 1523.2,231.6C1523.8,231.8 1524.4,232.0 1525.0,232.5C1525.6,233.0 1526.2,234.0 1526.8,234.5C1527.3,235.0 1527.9,234.8 1528.5,235.4C1529.1,235.9 1529.7,237.4 1530.2,237.9C1530.8,238.4 1531.4,238.2 1532.0,238.6C1532.6,239.0 1533.2,239.7 1533.8,240.1C1534.3,240.5 1534.9,240.8 1535.5,241.2C1536.1,241.6 1536.7,241.9 1537.2,242.4C1537.8,242.9 1538.4,243.6 1539.0,244.1C1539.6,244.5 1540.2,244.5 1540.8,245.1C1541.3,245.7 1541.9,246.8 1542.5,247.5C1543.1,248.2 1543.7,248.3 1544.3,249.1C1544.9,249.9 1545.5,251.4 1546.1,252.2C1546.7,253.1 1547.3,253.3 1547.9,254.0C1548.5,254.8 1549.0,255.7 1549.6,256.8C1550.2,257.8 1550.8,259.5 1551.4,260.4C1552.0,261.2 1552.6,261.0 1553.2,261.8C1553.8,262.5 1554.4,263.8 1555.0,265.0C1555.6,266.2 1556.2,267.2 1556.9,268.7C1557.5,270.1 1558.1,272.3 1558.8,273.7C1559.4,275.2 1560.0,276.4 1560.6,277.6C1561.2,278.9 1561.9,280.1 1562.5,281.5C1563.1,282.8 1563.8,284.4 1564.4,285.7C1565.0,287.0 1565.6,288.2 1566.2,289.4C1566.9,290.7 1567.5,291.9 1568.1,293.3C1568.8,294.6 1569.4,296.4 1570.0,297.5C1570.6,298.6 1571.3,299.3 1572.0,300.1C1572.7,301.0 1573.3,301.8 1574.0,302.7C1574.7,303.6 1575.3,304.7 1576.0,305.5C1576.7,306.4 1577.3,307.1 1578.0,307.9C1578.7,308.6 1579.4,309.2 1580.0,310.0C1580.6,310.8 1581.2,311.9 1581.8,312.9C1582.4,313.9 1583.1,315.1 1583.7,316.0C1584.3,316.9 1584.9,317.3 1585.5,318.2C1586.1,319.0 1586.7,320.2 1587.3,321.2C1587.9,322.2 1588.6,323.2 1589.2,324.2C1589.8,325.3 1590.4,325.7 1591.0,327.5C1591.6,329.3 1592.3,332.5 1593.0,335.0C1593.7,337.5 1594.2,340.5 1595.0,342.5C1595.8,344.5 1596.7,345.3 1597.5,347.0C1598.3,348.6 1599.3,350.7 1600.0,352.5C1600.7,354.3 1601.2,355.8 1601.9,357.8C1602.5,359.7 1603.1,362.2 1603.8,364.0C1604.4,365.9 1605.0,367.0 1605.6,368.8C1606.2,370.7 1606.9,372.9 1607.5,375.0C1608.1,377.1 1608.8,379.2 1609.5,381.3C1610.2,383.4 1610.8,385.4 1611.5,387.5C1612.2,389.5 1612.8,391.7 1613.5,393.5C1614.2,395.4 1614.8,396.5 1615.5,398.4C1616.2,400.4 1616.9,402.7 1617.5,405.0C1618.1,407.3 1618.8,409.5 1619.4,412.1C1620.0,414.7 1620.6,417.8 1621.2,420.4C1621.9,422.9 1622.5,425.0 1623.1,427.4C1623.8,429.8 1624.3,431.6 1625.0,435.0C1625.7,438.4 1626.7,443.9 1627.5,448.1C1628.3,452.2 1629.3,456.7 1630.0,460.0C1630.7,463.3 1631.2,465.1 1631.9,467.8C1632.5,470.5 1633.1,473.7 1633.8,476.5C1634.4,479.2 1635.0,481.5 1635.6,484.2C1636.2,486.9 1636.9,490.6 1637.5,492.5C1638.1,494.4 1638.8,494.6 1639.4,495.8C1640.0,497.0 1640.6,498.5 1641.2,499.6C1641.9,500.7 1642.5,501.6 1643.1,502.6C1643.8,503.7 1644.4,504.8 1645.0,505.9C1645.6,507.0 1646.2,508.2 1646.9,509.2C1647.5,510.3 1648.1,511.2 1648.8,512.2C1649.4,513.2 1650.0,514.0 1650.6,515.1C1651.2,516.2 1651.9,518.3 1652.5,518.8C1653.1,519.2 1653.8,517.9 1654.4,517.7C1655.0,517.5 1655.6,517.7 1656.2,517.5C1656.9,517.4 1657.5,517.0 1658.1,516.7C1658.8,516.4 1659.4,515.8 1660.0,515.7C1660.6,515.5 1661.2,515.8 1661.9,515.7C1662.5,515.5 1663.1,514.9 1663.8,514.7C1664.4,514.5 1665.0,514.4 1665.6,514.2C1666.2,514.1 1666.9,514.2 1667.5,513.8C1668.1,513.3 1668.8,512.3 1669.5,511.6C1670.2,510.9 1670.8,510.5 1671.5,509.7C1672.2,508.9 1672.8,507.3 1673.5,506.6C1674.2,505.8 1674.8,505.7 1675.5,505.0C1676.2,504.4 1676.9,503.8 1677.5,502.5C1678.1,501.2 1678.8,498.9 1679.4,497.0C1680.0,495.0 1680.6,492.6 1681.2,490.8C1681.9,488.9 1682.5,487.6 1683.1,485.8C1683.8,484.0 1684.4,481.3 1685.0,480.0C1685.6,478.7 1686.2,478.7 1686.9,478.0C1687.5,477.3 1688.1,476.6 1688.8,475.8C1689.4,475.1 1690.0,474.2 1690.6,473.4C1691.2,472.6 1691.9,471.2 1692.5,471.0C1693.1,470.8 1693.8,471.5 1694.5,472.2C1695.2,472.9 1695.8,474.4 1696.5,475.1C1697.2,475.9 1697.8,476.1 1698.5,476.6C1699.2,477.1 1699.8,477.7 1700.5,478.3C1701.2,478.8 1701.9,479.0 1702.5,480.0C1703.1,481.0 1703.8,483.0 1704.4,484.2C1705.0,485.4 1705.6,486.0 1706.2,487.2C1706.9,488.4 1707.5,490.2 1708.1,491.5C1708.8,492.8 1709.4,493.9 1710.0,495.0C1710.6,496.1 1711.2,497.1 1711.8,498.0C1712.4,498.9 1713.0,499.8 1713.6,500.6C1714.2,501.3 1714.8,501.6 1715.4,502.5C1716.0,503.3 1716.5,504.7 1717.1,505.5C1717.7,506.4 1718.3,506.7 1718.9,507.4C1719.5,508.1 1720.1,508.8 1720.7,509.7C1721.3,510.5 1721.9,511.8 1722.5,512.5C1723.1,513.2 1723.6,513.4 1724.2,513.8C1724.8,514.1 1725.3,514.1 1725.9,514.4C1726.5,514.7 1727.0,515.1 1727.6,515.5C1728.2,515.8 1728.7,516.1 1729.3,516.5C1729.9,516.8 1730.4,517.6 1731.0,517.5C1731.6,517.4 1732.2,516.3 1732.8,515.8C1733.4,515.4 1734.0,515.5 1734.6,515.0C1735.2,514.4 1735.8,513.2 1736.4,512.8C1737.0,512.3 1737.6,512.5 1738.2,512.0C1738.8,511.6 1739.4,510.3 1740.0,510.0C1740.6,509.7 1741.2,510.3 1741.8,510.3C1742.4,510.3 1743.0,510.1 1743.6,510.1C1744.2,510.1 1744.8,510.4 1745.4,510.3C1746.0,510.2 1746.5,509.7 1747.1,509.6C1747.7,509.4 1748.3,509.5 1748.9,509.5C1749.5,509.6 1750.1,509.6 1750.7,509.7C1751.3,509.7 1751.8,510.8 1752.5,510.0C1753.2,509.2 1754.2,506.6 1755.0,505.0C1755.8,503.3 1756.8,501.2 1757.5,500.0C1758.2,498.8 1758.7,498.7 1759.3,498.1C1759.9,497.5 1760.5,497.1 1761.1,496.4C1761.7,495.7 1762.3,494.7 1762.9,493.9C1763.5,493.1 1764.0,492.2 1764.6,491.6C1765.2,491.0 1765.8,491.0 1766.4,490.3C1767.0,489.6 1767.6,488.1 1768.2,487.4C1768.8,486.7 1769.4,486.1 1770.0,486.0C1770.6,485.9 1771.2,486.7 1771.8,486.8C1772.4,486.9 1773.0,486.4 1773.6,486.6C1774.2,486.9 1774.8,487.9 1775.4,488.3C1776.0,488.6 1776.5,488.6 1777.1,488.7C1777.7,488.7 1778.3,488.4 1778.9,488.4C1779.5,488.4 1780.1,488.6 1780.7,488.9C1781.3,489.1 1781.8,489.5 1782.5,490.0C1783.2,490.5 1784.2,491.5 1785.0,492.2C1785.8,492.8 1786.8,493.6 1787.5,494.0C1788.2,494.4 1788.7,494.5 1789.2,494.6C1789.8,494.7 1790.4,494.5 1791.0,494.4C1791.5,494.3 1792.1,494.1 1792.7,494.1C1793.3,494.1 1793.8,494.2 1794.4,494.3C1795.0,494.4 1795.6,494.6 1796.2,494.7C1796.7,494.8 1797.3,495.0 1797.9,494.8C1798.5,494.7 1799.0,494.0 1799.6,494.0C1800.2,493.9 1800.8,494.4 1801.3,494.5C1801.9,494.6 1802.5,494.5 1803.1,494.6C1803.7,494.7 1804.2,495.0 1804.8,495.1C1805.4,495.2 1806.0,495.1 1806.5,495.2C1807.1,495.2 1807.7,495.3 1808.3,495.3C1808.8,495.2 1809.4,495.2 1810.0,495.0C1810.6,494.8 1811.2,494.5 1811.8,494.2C1812.4,493.9 1813.0,493.6 1813.6,493.3C1814.2,493.0 1814.8,492.5 1815.4,492.3C1816.0,492.1 1816.5,492.1 1817.1,492.0C1817.7,491.9 1818.3,491.9 1818.9,491.6C1819.5,491.3 1820.1,490.6 1820.7,490.4C1821.3,490.1 1821.9,490.4 1822.5,490.0C1823.1,489.6 1823.8,488.6 1824.4,487.7C1825.0,486.7 1825.6,485.2 1826.2,484.4C1826.9,483.7 1827.5,483.8 1828.1,483.1C1828.8,482.3 1829.4,480.9 1830.0,480.0C1830.6,479.1 1831.2,478.5 1831.9,477.8C1832.5,477.1 1833.1,476.4 1833.8,475.7C1834.4,475.1 1835.0,474.3 1835.6,473.8C1836.2,473.3 1836.8,474.2 1837.5,472.5C1838.2,470.8 1839.2,466.4 1840.0,463.5C1840.8,460.6 1841.7,459.0 1842.5,455.0C1843.3,451.0 1844.2,444.5 1845.0,439.5C1845.8,434.5 1846.7,429.4 1847.5,425.0C1848.3,420.6 1849.2,417.2 1850.0,413.1C1850.8,408.9 1851.8,403.9 1852.5,400.0C1853.2,396.1 1853.8,393.2 1854.4,389.9C1855.0,386.6 1855.6,383.7 1856.2,380.3C1856.9,376.9 1857.5,373.0 1858.1,369.7C1858.8,366.3 1859.4,361.6 1860.0,360.0C1860.6,358.4 1861.3,360.3 1862.0,360.4C1862.7,360.4 1863.3,360.4 1864.0,360.4C1864.7,360.3 1865.2,359.6 1866.0,360.0C1866.8,360.4 1867.7,362.0 1868.5,362.9C1869.3,363.7 1870.3,365.1 1871.0,365.0C1871.7,364.9 1872.2,363.4 1872.8,362.4C1873.4,361.4 1874.0,360.2 1874.6,359.1C1875.2,358.0 1875.8,356.7 1876.4,355.6C1877.0,354.5 1877.6,353.5 1878.2,352.5C1878.8,351.6 1879.4,351.5 1880.0,350.0C1880.6,348.5 1881.3,345.9 1882.0,343.7C1882.7,341.5 1883.3,339.3 1884.0,337.0C1884.7,334.7 1885.3,334.1 1886.0,330.0C1886.7,325.9 1887.4,317.8 1888.2,312.1C1888.9,306.3 1889.6,301.2 1890.3,295.6C1891.1,289.9 1891.8,282.6 1892.5,278.0C1893.2,273.4 1893.7,271.2 1894.3,267.7C1894.9,264.1 1895.6,260.3 1896.2,256.6C1896.8,253.0 1897.3,248.3 1898.0,246.0C1898.7,243.7 1899.7,243.7 1900.5,242.6C1901.3,241.5 1902.2,238.1 1903.0,239.5C1903.8,240.9 1904.7,246.9 1905.5,250.8C1906.3,254.6 1907.2,260.5 1908.0,262.5C1908.8,264.5 1909.5,262.7 1910.2,262.7C1911.0,262.6 1911.8,262.8 1912.5,262.0C1913.2,261.2 1914.0,259.3 1914.8,258.1C1915.5,257.0 1916.3,256.2 1917.0,255.0C1917.7,253.8 1918.3,252.3 1919.0,251.0C1919.7,249.8 1920.4,248.1 1921.0,247.5C1921.6,246.9 1922.2,247.6 1922.9,247.5C1923.5,247.4 1924.1,247.0 1924.8,246.8C1925.4,246.7 1926.0,246.8 1926.6,246.6C1927.2,246.5 1927.8,247.1 1928.5,246.0C1929.2,244.9 1930.2,242.1 1931.0,239.8C1931.8,237.6 1932.7,234.3 1933.5,232.5C1934.3,230.7 1934.9,229.9 1935.7,228.8C1936.4,227.8 1937.1,227.4 1937.8,226.3C1938.6,225.2 1939.2,220.7 1940.0,222.5C1940.8,224.3 1941.7,232.3 1942.5,237.3C1943.3,242.3 1944.2,250.0 1945.0,252.5C1945.8,255.0 1946.3,252.1 1947.0,252.1C1947.7,252.0 1948.3,252.2 1949.0,252.1C1949.7,251.9 1950.2,251.6 1951.0,251.0C1951.8,250.4 1952.7,249.5 1953.5,248.7C1954.3,247.8 1955.3,244.4 1956.0,246.0C1956.7,247.6 1957.2,254.2 1957.9,258.1C1958.5,261.9 1959.1,265.4 1959.8,269.1C1960.4,272.9 1961.0,276.8 1961.6,280.7C1962.2,284.6 1962.9,288.2 1963.5,292.5C1964.1,296.8 1964.8,301.6 1965.4,306.4C1966.0,311.3 1966.6,316.7 1967.2,321.6C1967.9,326.5 1968.5,331.3 1969.1,336.0C1969.8,340.7 1970.3,344.4 1971.0,350.0C1971.7,355.6 1972.7,363.0 1973.5,369.7C1974.3,376.3 1975.2,386.8 1976.0,390.0C1976.8,393.2 1977.7,389.1 1978.5,388.9C1979.3,388.8 1980.2,389.5 1981.0,389.0C1981.8,388.5 1982.3,386.7 1983.0,385.8C1983.7,384.9 1984.3,384.5 1985.0,383.6C1985.7,382.6 1986.3,379.2 1987.0,380.0C1987.7,380.8 1988.4,386.0 1989.2,388.7C1989.9,391.4 1990.6,393.5 1991.3,396.2C1992.1,398.9 1992.8,402.2 1993.5,405.0C1994.2,407.8 1994.8,410.4 1995.4,412.9C1996.0,415.4 1996.6,417.4 1997.2,419.9C1997.9,422.3 1998.5,425.1 1999.1,427.6C1999.8,430.1 2000.4,433.5 2001.0,435.0C2001.6,436.5 2002.2,436.2 2002.9,436.5C2003.5,436.8 2004.1,436.5 2004.8,436.7C2005.4,436.9 2006.0,437.3 2006.6,437.7C2007.2,438.0 2007.9,438.4 2008.5,438.8C2009.1,439.1 2009.8,439.5 2010.4,439.8C2011.0,440.0 2011.6,439.9 2012.2,440.3C2012.9,440.7 2013.5,441.8 2014.1,442.1C2014.8,442.5 2015.4,441.5 2016.0,442.5C2016.6,443.5 2017.2,446.2 2017.9,448.1C2018.5,450.0 2019.1,452.0 2019.8,453.9C2020.4,455.8 2021.0,457.5 2021.6,459.3C2022.2,461.2 2022.9,463.8 2023.5,465.0C2024.1,466.2 2024.8,465.8 2025.5,466.5C2026.2,467.1 2026.8,467.9 2027.5,468.8C2028.2,469.7 2028.8,470.9 2029.5,471.6C2030.2,472.2 2030.8,472.1 2031.5,472.7C2032.2,473.3 2032.8,475.0 2033.5,475.0C2034.2,475.0 2034.8,473.5 2035.4,472.5C2036.1,471.6 2036.7,470.3 2037.4,469.3C2038.0,468.3 2038.6,467.4 2039.3,466.3C2039.9,465.2 2040.6,463.8 2041.2,462.7C2041.9,461.6 2042.5,460.7 2043.1,459.8C2043.8,458.9 2044.4,458.1 2045.1,457.1C2045.7,456.1 2046.4,454.0 2047.0,453.8C2047.6,453.5 2048.3,455.1 2048.9,455.6C2049.6,456.2 2050.2,456.3 2050.8,456.8C2051.5,457.3 2052.1,458.2 2052.8,458.6C2053.4,459.1 2054.0,458.9 2054.7,459.4C2055.3,459.8 2055.9,460.7 2056.6,461.2C2057.2,461.8 2057.9,462.6 2058.5,462.5C2059.1,462.4 2059.7,461.4 2060.3,460.7C2060.9,460.1 2061.5,459.2 2062.1,458.7C2062.7,458.1 2063.3,457.9 2063.9,457.4C2064.5,456.9 2065.0,456.1 2065.6,455.5C2066.2,454.9 2066.8,454.6 2067.4,453.9C2068.0,453.2 2068.6,451.9 2069.2,451.3C2069.8,450.6 2070.4,451.3 2071.0,450.0C2071.6,448.7 2072.2,445.2 2072.9,443.2C2073.5,441.2 2074.1,439.9 2074.8,437.9C2075.4,435.9 2076.0,433.4 2076.6,431.2C2077.2,429.1 2077.9,427.4 2078.5,425.0C2079.1,422.6 2079.8,419.4 2080.4,416.6C2081.0,413.8 2081.6,410.9 2082.2,408.0C2082.9,405.1 2083.5,402.2 2084.1,399.2C2084.8,396.2 2085.3,395.8 2086.0,390.0C2086.7,384.2 2087.7,373.0 2088.5,364.6C2089.3,356.3 2090.2,345.8 2091.0,340.0C2091.8,334.2 2092.7,333.0 2093.5,329.7C2094.3,326.3 2095.2,324.4 2096.0,320.0C2096.8,315.6 2097.7,308.7 2098.5,303.3C2099.3,297.8 2100.3,289.2 2101.0,287.5C2101.7,285.8 2102.2,290.9 2102.9,292.9C2103.5,294.9 2104.1,297.5 2104.8,299.6C2105.4,301.6 2106.0,303.4 2106.6,305.3C2107.2,307.2 2107.8,313.0 2108.5,311.0C2109.2,309.0 2110.2,299.3 2111.0,293.3C2111.8,287.3 2112.8,280.0 2113.5,275.0C2114.2,270.0 2114.8,266.9 2115.4,263.0C2116.0,259.1 2116.6,255.6 2117.2,251.6C2117.9,247.6 2118.5,243.1 2119.1,239.1C2119.8,235.1 2120.4,229.5 2121.0,227.5C2121.6,225.5 2122.2,227.4 2122.9,227.4C2123.5,227.4 2124.1,227.5 2124.8,227.5C2125.4,227.5 2126.0,227.2 2126.6,227.2C2127.2,227.2 2127.9,227.7 2128.5,227.5C2129.1,227.3 2129.8,226.5 2130.4,226.1C2131.0,225.6 2131.6,225.3 2132.2,224.8C2132.9,224.3 2133.5,223.5 2134.1,222.9C2134.8,222.2 2135.3,219.5 2136.0,221.0C2136.7,222.5 2137.7,228.5 2138.5,232.1C2139.3,235.7 2140.3,240.3 2141.0,242.5C2141.7,244.7 2142.2,244.4 2142.9,245.2C2143.5,246.0 2144.1,246.6 2144.8,247.4C2145.4,248.3 2146.0,249.6 2146.6,250.5C2147.2,251.3 2147.8,250.2 2148.5,252.5C2149.2,254.8 2150.2,260.2 2151.0,264.0C2151.8,267.7 2152.7,268.2 2153.5,275.0C2154.3,281.8 2155.2,294.7 2156.0,304.7C2156.8,314.7 2157.8,327.0 2158.5,335.0C2159.2,343.0 2159.4,350.2 2160.0,352.5C2160.6,354.8 2161.3,350.0 2162.0,348.7C2162.7,347.4 2163.3,346.1 2164.0,344.6C2164.7,343.2 2165.2,342.3 2166.0,340.0C2166.8,337.7 2167.7,333.9 2168.5,330.6C2169.3,327.3 2170.2,327.5 2171.0,320.0C2171.8,312.5 2172.7,297.2 2173.5,285.5C2174.3,273.8 2175.2,258.2 2176.0,250.0C2176.8,241.8 2177.7,240.7 2178.5,236.1C2179.3,231.6 2180.3,224.9 2181.0,222.5C2181.7,220.1 2182.2,221.7 2182.8,221.6C2183.4,221.5 2184.0,222.1 2184.6,222.1C2185.2,222.1 2185.8,221.6 2186.4,221.4C2187.0,221.3 2187.5,221.4 2188.1,221.0C2188.7,220.7 2189.3,219.7 2189.9,219.5C2190.5,219.3 2191.1,219.8 2191.7,219.7C2192.3,219.6 2192.9,218.7 2193.5,219.0C2194.1,219.3 2194.7,221.0 2195.3,221.7C2195.9,222.4 2196.5,222.4 2197.1,223.1C2197.7,223.7 2198.3,224.6 2198.9,225.4C2199.5,226.3 2200.0,227.5 2200.6,228.3C2201.2,229.0 2201.8,229.2 2202.4,230.0C2203.0,230.8 2203.6,232.2 2204.2,233.1C2204.8,233.9 2205.4,234.0 2206.0,235.0C2206.6,236.0 2207.2,237.8 2207.9,239.0C2208.5,240.2 2209.1,240.9 2209.8,242.2C2210.4,243.4 2211.0,245.2 2211.6,246.5C2212.2,247.9 2212.9,248.6 2213.5,250.0C2214.1,251.4 2214.8,253.2 2215.4,255.2C2216.0,257.1 2216.6,259.8 2217.2,261.7C2217.9,263.7 2218.5,265.1 2219.1,266.9C2219.8,268.7 2220.4,270.8 2221.0,272.5C2221.6,274.2 2222.3,275.5 2223.0,277.1C2223.7,278.6 2224.3,280.2 2225.0,282.0C2225.7,283.7 2226.3,285.7 2227.0,287.4C2227.7,289.0 2228.3,290.3 2229.0,292.0C2229.7,293.7 2230.4,295.9 2231.0,297.5C2231.6,299.1 2232.2,300.5 2232.9,301.6C2233.5,302.8 2234.1,303.2 2234.8,304.5C2235.4,305.8 2236.0,307.9 2236.6,309.3C2237.2,310.6 2237.9,311.8 2238.5,312.5C2239.1,313.2 2239.8,313.2 2240.5,313.5C2241.2,313.9 2241.8,314.1 2242.5,314.6C2243.2,315.2 2243.8,316.2 2244.5,316.8C2245.2,317.3 2245.8,317.5 2246.5,317.9C2247.2,318.2 2247.9,318.7 2248.5,319.0C2249.1,319.3 2249.8,319.1 2250.4,319.4C2251.0,319.7 2251.6,320.5 2252.2,320.8C2252.9,321.2 2253.5,321.0 2254.1,321.2C2254.8,321.5 2255.4,322.1 2256.0,322.5C2256.6,322.9 2257.2,323.3 2257.8,323.9C2258.4,324.5 2259.1,325.4 2259.7,326.2C2260.3,327.0 2260.9,328.0 2261.5,328.7C2262.1,329.5 2262.7,330.1 2263.3,330.7C2263.9,331.2 2264.6,331.4 2265.2,331.9C2265.8,332.5 2266.4,334.1 2267.0,334.0C2267.6,333.9 2268.2,332.3 2268.8,331.2C2269.4,330.1 2270.0,328.4 2270.6,327.3C2271.2,326.2 2271.8,325.5 2272.4,324.4C2273.0,323.3 2273.6,322.0 2274.2,320.8C2274.8,319.7 2275.3,319.0 2276.0,317.5C2276.7,316.0 2277.7,313.7 2278.5,311.8C2279.3,309.9 2280.2,306.7 2281.0,306.0C2281.8,305.3 2282.3,307.1 2283.0,307.6C2283.7,308.0 2284.3,308.1 2285.0,308.6C2285.7,309.0 2286.3,309.8 2287.0,310.3C2287.7,310.8 2288.3,311.1 2289.0,311.5C2289.7,311.9 2290.2,311.6 2291.0,312.5C2291.8,313.4 2292.7,315.5 2293.5,317.2C2294.3,318.8 2295.3,321.9 2296.0,322.5C2296.7,323.1 2297.2,321.1 2297.9,320.8C2298.5,320.4 2299.1,321.0 2299.8,320.6C2300.4,320.1 2301.0,318.6 2301.6,318.1C2302.2,317.6 2302.8,314.3 2303.5,317.5C2304.2,320.7 2305.3,334.2 2306.0,337.5C2306.7,340.8 2307.2,336.7 2307.9,337.3C2308.5,338.0 2309.1,339.9 2309.8,341.4C2310.4,342.8 2311.0,344.6 2311.6,346.0C2312.2,347.5 2312.9,349.1 2313.5,350.0C2314.1,350.9 2314.8,352.0 2315.4,351.7C2316.0,351.4 2316.6,348.6 2317.2,348.2C2317.9,347.9 2318.5,348.8 2319.1,349.5C2319.8,350.2 2320.4,350.4 2321.0,352.5C2321.6,354.6 2322.2,360.5 2322.9,362.1C2323.5,363.6 2324.1,361.3 2324.8,361.8C2325.4,362.3 2326.0,362.9 2326.6,365.1C2327.2,367.4 2327.9,374.0 2328.5,375.0C2329.1,376.0 2329.8,370.8 2330.5,371.1C2331.2,371.3 2331.8,376.6 2332.5,376.5C2333.2,376.5 2333.8,371.6 2334.5,370.7C2335.2,369.8 2335.8,371.1 2336.5,371.0C2337.2,370.9 2337.9,370.3 2338.5,370.0C2339.1,369.7 2339.8,368.5 2340.4,369.1C2341.0,369.7 2341.6,372.5 2342.2,373.8C2342.9,375.0 2343.5,375.7 2344.1,376.7C2344.8,377.7 2345.4,379.8 2346.0,380.0C2346.6,380.2 2347.3,378.3 2348.0,378.2C2348.7,378.0 2349.3,379.9 2350.0,378.9C2350.7,378.0 2351.3,374.1 2352.0,372.5C2352.7,370.9 2353.3,369.6 2354.0,369.2C2354.7,368.8 2355.4,372.0 2356.0,370.0C2356.6,368.0 2357.2,359.6 2357.9,357.2C2358.5,354.8 2359.1,357.9 2359.8,355.5C2360.4,353.2 2361.0,346.6 2361.6,343.2C2362.2,339.8 2362.9,337.5 2363.5,335.0C2364.1,332.5 2364.8,330.5 2365.4,328.0C2366.0,325.5 2366.6,322.8 2367.2,320.1C2367.9,317.4 2368.5,314.5 2369.1,312.0C2369.8,309.4 2370.3,309.2 2371.0,305.0C2371.7,300.8 2372.7,292.8 2373.5,286.9C2374.3,281.1 2375.2,270.3 2376.0,270.0C2376.8,269.7 2377.7,280.3 2378.5,285.3C2379.3,290.3 2380.2,303.8 2381.0,300.0C2381.8,296.2 2382.7,274.9 2383.5,262.4C2384.3,249.9 2385.2,232.1 2386.0,225.0C2386.8,217.9 2387.7,221.3 2388.5,219.7C2389.3,218.0 2390.6,215.8 2391.0,215.0"/><path d="M166.0,607.5C166.3,607.7 167.2,608.8 167.8,608.5C168.3,608.2 168.9,605.6 169.5,605.8C170.1,606.0 170.7,609.5 171.2,609.6C171.8,609.7 172.4,606.7 173.0,606.6C173.6,606.6 174.2,608.9 174.8,609.3C175.3,609.7 175.9,609.2 176.5,609.1C177.1,609.0 177.7,609.6 178.2,608.8C178.8,608.0 179.4,604.3 180.0,604.3C180.6,604.4 181.2,609.1 181.8,609.1C182.3,609.2 182.9,604.7 183.5,604.7C184.1,604.6 184.7,608.2 185.2,608.8C185.8,609.4 186.4,608.9 187.0,608.2C187.6,607.6 188.2,605.8 188.8,605.1C189.3,604.5 189.9,604.3 190.5,604.3C191.1,604.2 191.7,604.8 192.2,604.9C192.8,604.9 193.4,604.7 194.0,604.5C194.6,604.4 195.2,603.7 195.8,603.9C196.3,604.2 196.9,605.9 197.5,606.0C198.1,606.1 198.7,604.8 199.3,604.4C199.9,604.1 200.4,604.1 201.0,603.9C201.6,603.7 202.2,603.3 202.8,603.3C203.4,603.3 204.0,603.3 204.6,603.9C205.1,604.4 205.7,606.6 206.3,606.7C206.9,606.8 207.5,604.8 208.1,604.5C208.7,604.1 209.3,604.8 209.9,604.6C210.4,604.4 211.0,602.8 211.6,603.3C212.2,603.9 212.8,607.7 213.4,607.8C214.0,607.9 214.6,604.7 215.1,604.1C215.7,603.5 216.3,604.5 216.9,604.3C217.5,604.1 218.1,602.7 218.7,602.7C219.3,602.7 219.9,603.8 220.4,604.4C221.0,604.9 221.6,605.5 222.2,606.1C222.8,606.7 223.4,607.9 224.0,607.8C224.6,607.7 225.1,606.0 225.7,605.5C226.3,605.0 226.9,604.7 227.5,605.0C228.1,605.3 228.7,607.4 229.3,607.2C229.9,607.0 230.4,604.2 231.0,603.9C231.6,603.7 232.2,605.6 232.8,605.6C233.4,605.6 234.0,603.6 234.6,603.8C235.1,604.0 235.7,606.4 236.3,606.8C236.9,607.2 237.5,606.7 238.1,606.0C238.7,605.3 239.3,602.9 239.9,602.5C240.4,602.1 241.0,602.8 241.6,603.4C242.2,604.0 242.8,605.6 243.4,606.0C244.0,606.4 244.6,606.0 245.1,605.7C245.7,605.4 246.3,604.2 246.9,604.2C247.5,604.2 248.1,605.4 248.7,605.7C249.3,605.9 249.9,605.9 250.4,605.6C251.0,605.4 251.6,604.0 252.2,604.3C252.8,604.6 253.4,607.6 254.0,607.6C254.6,607.6 255.1,604.7 255.7,604.3C256.3,603.8 256.9,605.3 257.5,605.0C258.1,604.7 258.7,603.2 259.2,602.8C259.8,602.3 260.4,602.0 261.0,602.2C261.5,602.4 262.1,604.0 262.7,604.0C263.3,604.0 263.8,602.0 264.4,602.1C265.0,602.1 265.6,604.2 266.2,604.3C266.7,604.4 267.3,602.2 267.9,602.7C268.5,603.1 269.0,606.5 269.6,607.0C270.2,607.4 270.8,606.3 271.3,605.4C271.9,604.5 272.5,601.8 273.1,601.5C273.7,601.3 274.2,603.6 274.8,603.6C275.4,603.6 276.0,601.8 276.5,601.6C277.1,601.4 277.7,602.1 278.3,602.5C278.8,602.9 279.4,604.1 280.0,604.0C280.6,603.9 281.2,601.5 281.7,601.8C282.3,602.1 282.9,605.6 283.5,605.7C284.0,605.8 284.6,602.8 285.2,602.3C285.8,601.7 286.3,602.3 286.9,602.4C287.5,602.6 288.1,603.1 288.7,603.2C289.2,603.4 289.8,603.3 290.4,603.3C291.0,603.2 291.5,603.1 292.1,603.0C292.7,602.9 293.3,602.1 293.8,602.6C294.4,603.1 295.0,605.9 295.6,606.1C296.2,606.3 296.7,603.8 297.3,603.9C297.9,604.1 298.5,606.8 299.0,606.8C299.6,606.9 300.2,604.3 300.8,604.2C301.3,604.1 301.9,605.2 302.5,606.0C303.1,606.8 303.7,608.6 304.3,609.0C304.9,609.4 305.5,608.6 306.1,608.6C306.7,608.7 307.3,609.8 308.0,609.4C308.6,609.1 309.2,607.0 309.8,606.6C310.4,606.2 311.0,606.1 311.6,606.9C312.2,607.6 312.8,610.8 313.4,611.2C314.0,611.6 314.6,609.1 315.2,609.4C315.8,609.6 316.4,612.4 317.0,612.8C317.7,613.1 318.3,612.0 318.9,611.7C319.5,611.4 320.1,610.6 320.7,611.0C321.3,611.4 321.9,613.5 322.5,614.0C323.1,614.5 323.6,613.8 324.2,613.9C324.8,614.0 325.4,614.1 325.9,614.5C326.5,614.8 327.1,616.1 327.7,616.0C328.2,616.0 328.8,614.8 329.4,614.3C329.9,613.8 330.5,613.2 331.1,613.3C331.7,613.3 332.2,614.6 332.8,614.8C333.4,615.1 334.0,614.5 334.5,614.8C335.1,615.1 335.7,616.9 336.2,616.8C336.8,616.7 337.4,615.0 338.0,614.1C338.5,613.3 339.1,612.1 339.7,611.7C340.3,611.3 340.8,611.0 341.4,611.5C342.0,611.9 342.6,613.8 343.1,614.4C343.7,614.9 344.3,614.9 344.8,615.0C345.4,615.0 346.0,614.8 346.6,614.8C347.1,614.7 347.7,614.8 348.3,614.7C348.9,614.5 349.4,613.7 350.0,614.0C350.6,614.3 351.3,616.4 352.0,616.7C352.7,616.9 353.3,615.3 354.0,615.6C354.7,615.8 355.3,617.7 356.0,618.1C356.7,618.6 357.3,617.8 358.0,618.1C358.7,618.5 359.4,619.3 360.0,620.0C360.6,620.7 361.2,621.6 361.9,622.2C362.5,622.8 363.1,622.2 363.8,623.6C364.4,625.0 365.0,629.1 365.6,630.6C366.2,632.1 366.9,631.7 367.5,632.5C368.1,633.3 368.8,635.2 369.4,635.3C370.0,635.4 370.6,633.2 371.2,633.2C371.9,633.1 372.5,634.8 373.1,635.1C373.8,635.4 374.4,634.2 375.0,635.0C375.6,635.8 376.3,638.2 377.0,639.9C377.7,641.6 378.3,643.9 379.0,645.4C379.7,646.9 380.3,648.3 381.0,648.8C381.7,649.3 382.3,647.2 383.0,648.2C383.7,649.2 384.4,653.9 385.0,655.0C385.6,656.1 386.2,654.8 386.9,655.0C387.5,655.2 388.1,656.1 388.8,656.2C389.4,656.3 390.0,655.6 390.6,655.8C391.2,656.0 391.9,656.9 392.5,657.5C393.1,658.1 393.8,658.2 394.4,659.5C395.0,660.8 395.6,664.0 396.2,665.3C396.9,666.5 397.5,665.7 398.1,666.9C398.8,668.1 399.4,671.7 400.0,672.5C400.6,673.3 401.3,671.0 402.0,671.9C402.7,672.9 403.3,677.6 404.0,678.3C404.7,679.1 405.3,676.2 406.0,676.4C406.7,676.7 407.3,678.8 408.0,679.8C408.7,680.8 409.4,681.8 410.0,682.5C410.6,683.2 411.2,683.3 411.9,683.9C412.5,684.5 413.1,685.2 413.8,686.2C414.4,687.3 415.0,689.4 415.6,690.5C416.2,691.6 416.9,692.0 417.5,692.9C418.1,693.8 418.8,694.9 419.4,695.7C420.0,696.6 420.6,697.4 421.2,697.9C421.9,698.5 422.5,698.9 423.1,699.3C423.8,699.6 424.4,699.3 425.0,700.0C425.6,700.7 426.2,703.0 426.8,703.4C427.4,703.8 428.0,701.9 428.6,702.2C429.2,702.5 429.8,704.6 430.4,705.3C431.0,706.1 431.5,706.1 432.1,706.8C432.7,707.4 433.3,709.5 433.9,709.3C434.5,709.2 435.1,705.8 435.7,705.9C436.3,706.0 436.9,709.4 437.5,710.0C438.1,710.6 438.7,709.0 439.3,709.3C439.9,709.7 440.5,711.4 441.1,712.2C441.7,713.1 442.3,714.1 442.9,714.2C443.5,714.3 444.0,712.5 444.6,712.9C445.2,713.4 445.8,715.5 446.4,716.9C447.0,718.2 447.6,720.6 448.2,721.1C448.8,721.7 449.4,720.5 450.0,720.0C450.6,719.5 451.2,718.0 451.9,718.0C452.5,717.9 453.1,718.9 453.8,719.7C454.4,720.6 455.0,723.0 455.6,723.2C456.2,723.4 456.9,721.3 457.5,721.0C458.1,720.7 458.8,720.4 459.5,721.5C460.2,722.6 460.8,726.4 461.5,727.6C462.2,728.8 462.8,728.1 463.5,728.6C464.2,729.0 464.8,729.7 465.5,730.4C466.2,731.0 466.9,732.3 467.5,732.5C468.1,732.7 468.7,731.0 469.2,731.4C469.8,731.8 470.4,734.1 471.0,735.1C471.6,736.1 472.2,737.1 472.8,737.6C473.3,738.1 473.9,737.6 474.5,738.1C475.1,738.6 475.7,740.0 476.2,740.5C476.8,741.0 477.4,740.9 478.0,741.3C478.6,741.6 479.2,742.0 479.8,742.7C480.3,743.3 480.9,744.6 481.5,745.1C482.1,745.6 482.7,745.3 483.2,745.7C483.8,746.1 484.4,747.2 485.0,747.5C485.6,747.8 486.2,747.5 486.8,747.5C487.4,747.5 488.0,747.5 488.6,747.6C489.2,747.8 489.8,748.2 490.4,748.4C491.0,748.5 491.5,748.7 492.1,748.7C492.7,748.6 493.3,748.0 493.9,748.1C494.5,748.1 495.1,748.7 495.7,748.9C496.3,749.0 496.9,748.9 497.5,749.0C498.1,749.1 498.7,749.2 499.3,749.3C499.9,749.4 500.5,749.3 501.1,749.4C501.7,749.4 502.3,749.4 503.0,749.5C503.6,749.7 504.2,750.2 504.8,750.3C505.4,750.3 506.0,749.9 506.6,749.9C507.2,749.9 507.8,750.1 508.4,750.3C509.0,750.5 509.6,750.7 510.2,750.8C510.8,750.9 511.4,751.0 512.0,751.0C512.7,751.1 513.3,751.1 513.9,751.1C514.5,751.1 515.1,750.9 515.7,750.9C516.3,750.9 516.9,751.0 517.5,751.0C518.1,751.0 518.7,751.0 519.2,750.9C519.8,750.8 520.4,750.9 521.0,750.7C521.6,750.5 522.2,749.8 522.8,749.7C523.3,749.6 523.9,750.1 524.5,750.0C525.1,749.9 525.7,749.3 526.2,749.1C526.8,748.9 527.4,748.8 528.0,748.8C528.6,748.8 529.2,749.1 529.8,749.1C530.3,749.0 530.9,748.8 531.5,748.6C532.1,748.5 532.7,748.4 533.2,748.2C533.8,748.0 534.4,747.6 535.0,747.5C535.6,747.4 536.2,747.8 536.8,747.6C537.4,747.4 538.0,746.5 538.6,746.4C539.2,746.2 539.8,746.6 540.4,746.5C541.0,746.5 541.5,746.2 542.1,746.0C542.7,745.7 543.3,745.4 543.9,745.1C544.5,744.8 545.1,744.5 545.7,744.3C546.3,744.1 546.9,743.9 547.5,743.9C548.1,743.9 548.7,744.4 549.3,744.2C549.9,744.0 550.5,743.1 551.1,742.9C551.7,742.7 552.3,743.0 552.9,742.9C553.5,742.9 554.0,742.9 554.6,742.6C555.2,742.4 555.8,741.6 556.4,741.5C557.0,741.3 557.6,741.8 558.2,741.7C558.8,741.6 559.4,741.1 560.0,741.0C560.6,740.9 561.2,741.4 561.8,741.3C562.4,741.2 563.0,740.7 563.6,740.4C564.2,740.2 564.8,739.9 565.4,739.8C566.0,739.6 566.5,739.5 567.1,739.5C567.7,739.6 568.3,740.1 568.9,740.2C569.5,740.2 570.1,740.0 570.7,740.0C571.3,740.0 571.9,740.1 572.5,740.0C573.1,740.0 573.7,740.0 574.3,739.8C574.9,739.5 575.5,738.6 576.1,738.5C576.7,738.4 577.3,739.2 577.9,739.2C578.5,739.3 579.0,739.0 579.6,738.8C580.2,738.6 580.8,738.0 581.4,737.9C582.0,737.9 582.6,738.5 583.2,738.5C583.8,738.5 584.4,738.1 585.0,738.0C585.6,737.9 586.2,737.7 586.8,737.7C587.4,737.8 587.9,738.3 588.5,738.3C589.1,738.4 589.7,737.8 590.3,737.9C590.9,738.0 591.5,738.7 592.1,738.7C592.6,738.6 593.2,737.9 593.8,737.9C594.4,737.8 595.0,738.4 595.6,738.5C596.2,738.6 596.8,738.4 597.4,738.5C597.9,738.6 598.5,739.0 599.1,739.1C599.7,739.3 600.3,739.3 600.9,739.3C601.5,739.2 602.1,738.6 602.6,738.6C603.2,738.7 603.8,739.2 604.4,739.3C605.0,739.4 605.6,739.4 606.2,739.4C606.8,739.4 607.4,739.3 607.9,739.3C608.5,739.3 609.1,739.4 609.7,739.5C610.3,739.5 610.9,739.7 611.5,739.7C612.1,739.7 612.6,739.2 613.2,739.2C613.8,739.2 614.4,739.4 615.0,739.5C615.6,739.6 616.2,739.5 616.8,739.5C617.4,739.5 618.0,739.2 618.6,739.4C619.2,739.5 619.8,740.2 620.4,740.4C621.0,740.5 621.5,740.3 622.1,740.3C622.7,740.4 623.3,740.6 623.9,740.7C624.5,740.7 625.1,740.4 625.7,740.5C626.3,740.6 626.9,740.9 627.5,741.0C628.1,741.1 628.8,741.1 629.5,741.0C630.2,740.9 630.8,740.7 631.5,740.6C632.2,740.5 632.8,740.4 633.5,740.2C634.2,740.1 634.8,740.1 635.5,739.9C636.2,739.7 636.9,739.5 637.5,739.0C638.1,738.5 638.7,737.7 639.2,737.2C639.8,736.7 640.4,736.4 641.0,736.1C641.6,735.7 642.2,735.6 642.8,735.3C643.3,734.9 643.9,734.6 644.5,734.1C645.1,733.5 645.7,732.5 646.2,732.0C646.8,731.6 647.4,731.8 648.0,731.4C648.6,731.0 649.2,730.1 649.8,729.7C650.3,729.2 650.9,729.0 651.5,728.6C652.1,728.1 652.7,727.4 653.2,727.0C653.8,726.5 654.4,726.4 655.0,726.0C655.6,725.6 656.2,725.1 656.8,724.7C657.4,724.3 658.0,724.1 658.6,723.6C659.2,723.2 659.8,722.3 660.5,721.8C661.1,721.3 661.7,721.1 662.3,720.7C662.9,720.4 663.5,720.3 664.1,719.9C664.7,719.5 665.3,718.6 665.9,718.2C666.5,717.8 667.1,718.1 667.7,717.8C668.3,717.5 668.9,716.7 669.5,716.3C670.2,715.9 670.8,715.7 671.4,715.4C672.0,715.0 672.6,714.6 673.2,714.1C673.8,713.6 674.4,713.1 675.0,712.5C675.6,711.9 676.2,711.1 676.8,710.6C677.4,710.1 678.0,709.8 678.6,709.4C679.2,709.0 679.8,708.6 680.5,708.1C681.1,707.7 681.7,707.2 682.3,706.7C682.9,706.3 683.5,706.1 684.1,705.6C684.7,705.0 685.3,704.0 685.9,703.4C686.5,702.8 687.1,702.5 687.7,701.9C688.3,701.4 688.9,700.7 689.5,700.2C690.2,699.8 690.8,699.7 691.4,699.3C692.0,698.9 692.6,698.3 693.2,697.7C693.8,697.2 694.4,696.3 695.0,696.0C695.6,695.7 696.2,696.0 696.9,695.9C697.5,695.7 698.1,695.4 698.8,695.3C699.4,695.2 700.0,695.2 700.6,695.0C701.2,694.9 701.9,694.8 702.5,694.6C703.1,694.3 703.8,693.9 704.4,693.7C705.0,693.5 705.6,693.6 706.2,693.4C706.9,693.2 707.5,692.5 708.1,692.4C708.8,692.2 709.4,692.4 710.0,692.5C710.6,692.6 711.2,692.9 711.9,693.2C712.5,693.6 713.1,694.3 713.8,694.8C714.4,695.3 715.0,695.8 715.6,696.2C716.2,696.6 716.9,696.7 717.5,697.0C718.1,697.4 718.8,698.0 719.4,698.3C720.0,698.7 720.6,699.0 721.2,699.3C721.9,699.6 722.5,699.9 723.1,700.2C723.8,700.5 724.4,700.8 725.0,701.0C725.6,701.2 726.3,701.1 727.0,701.1C727.7,701.1 728.3,700.9 729.0,700.9C729.7,700.9 730.3,701.0 731.0,701.1C731.7,701.2 732.3,701.3 733.0,701.3C733.7,701.2 734.3,701.3 735.0,701.0C735.7,700.7 736.3,699.8 737.0,699.2C737.7,698.6 738.3,697.8 739.0,697.3C739.7,696.7 740.3,696.6 741.0,696.0C741.7,695.5 742.3,694.3 743.0,693.7C743.7,693.1 744.4,693.1 745.0,692.5C745.6,691.9 746.2,690.9 746.9,690.3C747.5,689.7 748.1,689.6 748.8,689.0C749.4,688.4 750.0,687.4 750.6,686.8C751.2,686.2 751.9,686.1 752.5,685.3C753.1,684.6 753.8,683.2 754.4,682.5C755.0,681.9 755.6,682.0 756.2,681.5C756.9,681.0 757.5,680.2 758.1,679.6C758.8,678.9 759.4,678.0 760.0,677.5C760.6,677.0 761.2,676.9 761.8,676.5C762.3,676.1 762.9,675.6 763.5,675.0C764.1,674.4 764.7,673.5 765.2,673.0C765.8,672.5 766.4,672.1 767.0,671.8C767.6,671.4 768.2,671.2 768.8,670.8C769.3,670.3 769.9,669.5 770.5,669.0C771.1,668.5 771.7,668.1 772.2,667.7C772.8,667.4 773.4,667.4 774.0,667.0C774.6,666.5 775.2,665.7 775.8,665.2C776.3,664.7 776.9,664.2 777.5,664.0C778.1,663.8 778.7,664.0 779.2,663.9C779.8,663.7 780.4,663.3 781.0,663.1C781.6,662.9 782.2,663.0 782.8,662.9C783.3,662.8 783.9,662.7 784.5,662.3C785.1,662.0 785.7,661.1 786.2,661.0C786.8,660.8 787.4,661.5 788.0,661.3C788.6,661.1 789.2,660.2 789.8,660.0C790.3,659.8 790.9,660.1 791.5,660.0C792.1,660.0 792.7,659.8 793.2,659.6C793.8,659.4 794.4,659.0 795.0,659.0C795.6,659.0 796.2,659.3 796.8,659.4C797.4,659.5 798.0,659.4 798.6,659.6C799.2,659.8 799.8,660.5 800.4,660.7C801.0,660.9 801.5,660.6 802.1,660.8C802.7,661.0 803.3,661.4 803.9,661.7C804.5,662.0 805.1,662.4 805.7,662.5C806.3,662.6 806.9,662.2 807.5,662.5C808.1,662.8 808.8,663.7 809.4,664.5C810.0,665.3 810.6,666.4 811.2,667.2C811.9,668.0 812.5,668.5 813.1,669.2C813.8,669.8 814.4,670.5 815.0,671.0C815.6,671.5 816.2,671.9 816.9,672.5C817.5,673.0 818.1,673.9 818.8,674.5C819.4,675.2 820.0,675.7 820.6,676.5C821.2,677.2 821.9,678.8 822.5,679.0C823.1,679.2 823.8,677.9 824.5,677.6C825.2,677.2 825.8,677.2 826.5,676.9C827.2,676.7 827.8,676.4 828.5,676.0C829.2,675.7 829.8,675.1 830.5,674.8C831.2,674.6 831.8,674.3 832.5,674.5C833.2,674.7 833.8,675.5 834.5,676.2C835.2,677.0 835.8,678.3 836.5,679.0C837.2,679.7 837.8,680.1 838.5,680.7C839.2,681.3 839.8,681.9 840.5,682.7C841.2,683.4 841.9,684.8 842.5,685.0C843.1,685.2 843.7,683.9 844.3,683.7C844.9,683.5 845.5,683.8 846.1,683.6C846.7,683.4 847.3,682.7 847.9,682.5C848.5,682.2 849.0,682.3 849.6,682.0C850.2,681.6 850.8,680.8 851.4,680.4C852.0,680.0 852.6,679.7 853.2,679.4C853.8,679.2 854.4,678.8 855.0,679.0C855.6,679.2 856.2,680.1 856.9,680.3C857.5,680.6 858.1,680.2 858.8,680.5C859.4,680.7 860.0,681.7 860.6,682.0C861.2,682.4 861.9,682.2 862.5,682.5C863.1,682.8 863.8,683.5 864.4,684.1C865.0,684.8 865.6,685.7 866.2,686.3C866.9,687.0 867.5,687.3 868.1,688.0C868.8,688.6 869.4,689.7 870.0,690.0C870.6,690.3 871.2,689.9 871.8,689.7C872.4,689.6 873.0,689.4 873.6,689.2C874.2,689.1 874.8,688.9 875.4,688.9C876.0,688.9 876.5,689.1 877.1,689.1C877.7,689.0 878.3,688.7 878.9,688.5C879.5,688.3 880.1,688.0 880.7,687.9C881.3,687.7 881.9,687.9 882.5,687.5C883.1,687.1 883.8,686.0 884.4,685.2C885.0,684.4 885.6,683.5 886.2,682.5C886.9,681.4 887.5,680.0 888.1,678.9C888.8,677.8 889.4,676.9 890.0,676.0C890.6,675.1 891.2,674.3 891.9,673.4C892.5,672.5 893.1,671.3 893.8,670.4C894.4,669.6 895.0,669.3 895.6,668.4C896.2,667.5 896.9,665.8 897.5,665.0C898.1,664.2 898.7,663.9 899.2,663.5C899.8,663.1 900.4,662.9 901.0,662.5C901.6,662.1 902.2,661.6 902.8,661.3C903.3,660.9 903.9,660.9 904.5,660.4C905.1,659.9 905.7,658.8 906.2,658.3C906.8,657.7 907.4,657.5 908.0,657.1C908.6,656.8 909.2,656.4 909.8,656.1C910.3,655.8 910.9,655.5 911.5,655.1C912.1,654.7 912.7,654.0 913.2,653.5C913.8,653.1 914.4,652.8 915.0,652.5C915.6,652.2 916.2,652.2 916.7,651.8C917.3,651.4 917.9,650.8 918.5,650.2C919.0,649.6 919.6,648.6 920.2,648.2C920.8,647.8 921.3,648.0 921.9,647.7C922.5,647.3 923.1,646.4 923.7,646.1C924.2,645.7 924.8,645.8 925.4,645.4C926.0,645.1 926.5,644.5 927.1,644.0C927.7,643.5 928.3,643.0 928.8,642.6C929.4,642.2 930.0,642.2 930.6,641.6C931.2,641.1 931.7,639.7 932.3,639.2C932.9,638.8 933.5,639.4 934.0,639.1C934.6,638.7 935.2,637.7 935.8,637.2C936.3,636.7 936.9,636.2 937.5,636.0C938.1,635.8 938.7,636.3 939.2,636.1C939.8,635.9 940.4,635.0 941.0,634.7C941.5,634.4 942.1,634.4 942.7,634.3C943.3,634.3 943.8,634.4 944.4,634.2C945.0,634.0 945.6,633.5 946.2,633.3C946.7,633.0 947.3,632.8 947.9,632.7C948.5,632.6 949.0,633.1 949.6,632.9C950.2,632.8 950.8,631.8 951.3,631.8C951.9,631.7 952.5,632.5 953.1,632.4C953.7,632.3 954.2,631.3 954.8,631.0C955.4,630.7 956.0,630.6 956.5,630.5C957.1,630.4 957.7,630.5 958.3,630.4C958.8,630.4 959.4,630.1 960.0,630.0C960.6,629.9 961.2,630.1 961.7,630.1C962.3,630.1 962.9,630.3 963.5,630.1C964.0,630.0 964.6,629.4 965.2,629.3C965.8,629.1 966.3,629.2 966.9,629.1C967.5,629.1 968.1,629.0 968.7,629.1C969.2,629.1 969.8,629.4 970.4,629.4C971.0,629.4 971.5,629.2 972.1,629.1C972.7,629.0 973.3,628.9 973.8,628.7C974.4,628.5 975.0,628.2 975.6,628.1C976.2,628.0 976.7,628.0 977.3,627.9C977.9,627.9 978.5,627.9 979.0,627.9C979.6,628.0 980.2,628.2 980.8,628.1C981.3,628.0 981.9,627.6 982.5,627.5C983.1,627.4 983.7,627.3 984.3,627.3C984.9,627.2 985.5,627.2 986.1,627.1C986.7,627.0 987.3,626.8 987.9,626.6C988.5,626.3 989.0,625.7 989.6,625.5C990.2,625.2 990.8,625.4 991.4,625.3C992.0,625.2 992.6,625.2 993.2,624.9C993.8,624.7 994.4,623.9 995.0,623.8C995.6,623.7 996.2,624.3 996.8,624.3C997.4,624.3 998.0,623.8 998.6,623.7C999.2,623.5 999.8,623.6 1000.4,623.4C1001.0,623.1 1001.5,622.5 1002.1,622.2C1002.7,621.9 1003.3,621.5 1003.9,621.4C1004.5,621.4 1005.1,622.1 1005.7,622.0C1006.3,621.9 1006.9,621.2 1007.5,621.0C1008.1,620.8 1008.7,620.9 1009.3,620.8C1009.9,620.7 1010.4,620.4 1011.0,620.4C1011.6,620.4 1012.2,620.5 1012.8,620.6C1013.4,620.6 1014.0,620.9 1014.6,620.7C1015.1,620.6 1015.7,619.6 1016.3,619.5C1016.9,619.3 1017.5,620.1 1018.1,620.0C1018.7,620.0 1019.3,619.4 1019.9,619.2C1020.4,619.0 1021.0,618.7 1021.6,618.8C1022.2,618.9 1022.8,619.6 1023.4,619.7C1024.0,619.8 1024.6,619.4 1025.1,619.3C1025.7,619.2 1026.3,619.2 1026.9,619.1C1027.5,618.9 1028.1,618.4 1028.7,618.3C1029.3,618.2 1029.9,618.3 1030.4,618.3C1031.0,618.3 1031.6,618.2 1032.2,618.1C1032.8,618.0 1033.4,617.8 1034.0,617.7C1034.6,617.5 1035.1,617.2 1035.7,617.2C1036.3,617.2 1036.9,617.6 1037.5,617.5C1038.1,617.4 1038.7,616.6 1039.3,616.5C1039.9,616.4 1040.5,616.8 1041.1,616.8C1041.7,616.7 1042.3,616.4 1042.9,616.3C1043.5,616.2 1044.0,616.1 1044.6,615.9C1045.2,615.8 1045.8,615.4 1046.4,615.1C1047.0,614.9 1047.6,614.6 1048.2,614.4C1048.8,614.2 1049.4,614.0 1050.0,614.0C1050.6,614.0 1051.1,614.3 1051.7,614.3C1052.3,614.3 1052.8,614.1 1053.4,614.0C1054.0,613.9 1054.5,614.0 1055.1,613.9C1055.7,613.7 1056.2,613.3 1056.8,613.2C1057.4,613.0 1057.9,613.1 1058.5,612.9C1059.1,612.8 1059.6,612.4 1060.2,612.2C1060.8,612.1 1061.3,612.0 1061.9,612.1C1062.5,612.1 1063.0,612.4 1063.6,612.5C1064.2,612.6 1064.7,612.5 1065.3,612.4C1065.9,612.4 1066.4,612.3 1067.0,612.1C1067.6,612.0 1068.1,611.7 1068.7,611.5C1069.3,611.3 1069.8,611.2 1070.4,611.2C1071.0,611.2 1071.5,611.4 1072.1,611.4C1072.7,611.4 1073.2,611.3 1073.8,611.2C1074.4,611.1 1074.9,611.0 1075.5,610.9C1076.1,610.7 1076.6,610.3 1077.2,610.3C1077.8,610.3 1078.3,610.8 1078.9,610.8C1079.5,610.8 1080.0,610.2 1080.6,610.1C1081.2,610.1 1081.7,610.5 1082.3,610.4C1082.9,610.3 1083.4,609.7 1084.0,609.5C1084.6,609.3 1085.1,609.2 1085.7,609.2C1086.3,609.2 1086.8,609.4 1087.4,609.5C1088.0,609.6 1088.5,609.8 1089.1,609.7C1089.7,609.6 1090.2,609.0 1090.8,608.9C1091.4,608.8 1091.9,608.9 1092.5,609.0C1093.1,609.1 1093.8,609.2 1094.4,609.3C1095.0,609.3 1095.6,609.2 1096.2,609.2C1096.9,609.3 1097.5,609.5 1098.1,609.5C1098.8,609.5 1099.4,609.2 1100.0,609.3C1100.6,609.3 1101.2,609.7 1101.9,609.7C1102.5,609.7 1103.1,609.3 1103.8,609.4C1104.4,609.5 1105.0,610.0 1105.6,610.1C1106.2,610.2 1106.9,610.1 1107.5,610.0C1108.1,609.9 1108.6,609.7 1109.2,609.6C1109.8,609.5 1110.4,609.4 1110.9,609.3C1111.5,609.2 1112.1,609.4 1112.6,609.2C1113.2,609.1 1113.8,608.6 1114.3,608.4C1114.9,608.2 1115.5,608.0 1116.1,608.0C1116.6,608.0 1117.2,608.5 1117.8,608.4C1118.3,608.3 1118.9,607.6 1119.5,607.4C1120.0,607.3 1120.6,607.7 1121.2,607.6C1121.8,607.6 1122.3,607.4 1122.9,607.3C1123.5,607.2 1124.0,607.4 1124.6,607.2C1125.2,607.1 1125.7,606.7 1126.3,606.6C1126.9,606.4 1127.5,606.6 1128.0,606.5C1128.6,606.4 1129.2,606.2 1129.7,606.0C1130.3,605.8 1130.9,605.3 1131.4,605.1C1132.0,604.9 1132.6,605.2 1133.2,605.1C1133.7,604.9 1134.3,604.5 1134.9,604.4C1135.4,604.2 1136.0,604.3 1136.6,604.2C1137.1,604.1 1137.7,604.0 1138.3,604.0C1138.9,603.9 1139.4,604.0 1140.0,604.0C1140.6,604.0 1141.2,604.2 1141.8,604.1C1142.4,604.0 1142.9,603.7 1143.5,603.6C1144.1,603.4 1144.7,603.2 1145.3,603.2C1145.9,603.1 1146.5,603.1 1147.1,603.2C1147.6,603.3 1148.2,603.8 1148.8,603.8C1149.4,603.8 1150.0,603.3 1150.6,603.3C1151.2,603.2 1151.8,603.7 1152.4,603.7C1152.9,603.7 1153.5,603.3 1154.1,603.3C1154.7,603.2 1155.3,603.5 1155.9,603.3C1156.5,603.2 1157.1,602.6 1157.6,602.5C1158.2,602.5 1158.8,603.0 1159.4,603.1C1160.0,603.2 1160.6,603.1 1161.2,603.1C1161.8,603.2 1162.4,603.5 1162.9,603.4C1163.5,603.4 1164.1,602.9 1164.7,602.8C1165.3,602.8 1165.9,603.2 1166.5,603.1C1167.1,603.1 1167.6,602.6 1168.2,602.5C1168.8,602.4 1169.4,602.6 1170.0,602.5C1170.6,602.4 1171.2,602.0 1171.8,602.0C1172.3,602.0 1172.9,602.3 1173.5,602.3C1174.1,602.4 1174.7,602.4 1175.2,602.3C1175.8,602.2 1176.4,601.7 1177.0,601.6C1177.6,601.6 1178.2,602.1 1178.8,602.1C1179.3,602.0 1179.9,601.5 1180.5,601.4C1181.1,601.3 1181.7,601.4 1182.2,601.4C1182.8,601.3 1183.4,601.1 1184.0,601.1C1184.6,601.2 1185.2,601.7 1185.8,601.7C1186.3,601.7 1186.9,600.8 1187.5,601.0C1188.1,601.2 1188.8,602.0 1189.4,602.8C1190.0,603.5 1190.6,604.7 1191.2,605.4C1191.9,606.2 1192.5,606.6 1193.1,607.3C1193.8,608.1 1194.4,609.0 1195.0,610.0C1195.6,611.0 1196.2,612.3 1196.8,613.0C1197.3,613.8 1197.9,613.9 1198.5,614.6C1199.1,615.3 1199.7,616.5 1200.2,617.3C1200.8,618.2 1201.4,618.8 1202.0,619.7C1202.6,620.5 1203.1,623.0 1203.8,622.5C1204.4,622.0 1205.1,618.3 1205.8,616.5C1206.5,614.7 1207.2,613.4 1207.9,611.7C1208.6,609.9 1209.4,606.6 1210.0,606.0C1210.6,605.4 1211.2,607.4 1211.8,607.9C1212.3,608.5 1212.9,609.0 1213.5,609.4C1214.1,609.7 1214.7,609.8 1215.2,610.3C1215.8,610.7 1216.4,611.2 1217.0,611.9C1217.6,612.5 1218.1,614.4 1218.8,614.0C1219.4,613.6 1220.0,610.9 1220.6,609.5C1221.2,608.2 1221.9,606.4 1222.5,606.0C1223.1,605.6 1223.6,606.7 1224.2,607.1C1224.8,607.5 1225.3,607.9 1225.9,608.3C1226.5,608.7 1227.0,609.1 1227.6,609.6C1228.2,610.1 1228.7,610.9 1229.3,611.4C1229.9,611.8 1230.4,612.4 1231.0,612.5C1231.6,612.6 1232.2,612.3 1232.8,612.1C1233.4,611.8 1234.0,611.2 1234.6,610.9C1235.2,610.6 1235.8,610.5 1236.4,610.3C1237.0,610.1 1237.6,609.8 1238.2,609.6C1238.8,609.3 1239.4,609.3 1240.0,609.0C1240.6,608.7 1241.2,608.2 1241.9,607.8C1242.5,607.5 1243.1,607.3 1243.8,607.0C1244.4,606.6 1245.0,606.2 1245.6,605.7C1246.2,605.1 1246.9,604.2 1247.5,603.7C1248.1,603.2 1248.8,603.0 1249.4,602.7C1250.0,602.4 1250.6,602.3 1251.2,601.9C1251.9,601.5 1252.5,600.8 1253.1,600.3C1253.8,599.9 1254.4,599.3 1255.0,599.0C1255.6,598.7 1256.1,598.4 1256.7,598.4C1257.3,598.5 1257.8,599.2 1258.4,599.3C1259.0,599.3 1259.5,599.0 1260.1,598.9C1260.7,598.8 1261.2,598.6 1261.8,598.6C1262.4,598.6 1263.0,598.8 1263.5,598.9C1264.1,599.0 1264.7,599.3 1265.2,599.2C1265.8,599.2 1266.4,598.7 1266.9,598.6C1267.5,598.6 1268.1,599.1 1268.6,599.0C1269.2,599.0 1269.8,598.5 1270.3,598.4C1270.9,598.4 1271.5,598.7 1272.0,598.8C1272.6,598.9 1273.2,599.0 1273.8,599.0C1274.3,598.9 1274.9,598.5 1275.5,598.5C1276.0,598.6 1276.6,599.1 1277.2,599.1C1277.7,599.2 1278.3,598.8 1278.9,598.7C1279.4,598.6 1280.0,598.6 1280.6,598.6C1281.1,598.7 1281.7,599.0 1282.3,599.1C1282.8,599.2 1283.4,599.3 1284.0,599.3C1284.5,599.3 1285.1,599.2 1285.7,599.0C1286.2,598.9 1286.8,598.4 1287.4,598.4C1288.0,598.5 1288.5,599.4 1289.1,599.5C1289.7,599.6 1290.2,599.0 1290.8,598.9C1291.4,598.8 1291.9,599.0 1292.5,599.0C1293.1,599.0 1293.6,599.1 1294.2,599.1C1294.8,599.0 1295.4,598.9 1295.9,598.9C1296.5,599.0 1297.1,599.4 1297.7,599.5C1298.2,599.7 1298.8,599.7 1299.4,599.7C1299.9,599.8 1300.5,599.7 1301.1,599.8C1301.7,599.8 1302.2,599.9 1302.8,599.9C1303.4,600.0 1304.0,599.9 1304.5,600.0C1305.1,600.1 1305.7,600.4 1306.2,600.6C1306.8,600.7 1307.4,600.6 1308.0,600.8C1308.5,601.0 1309.1,601.5 1309.7,601.6C1310.3,601.7 1310.8,601.7 1311.4,601.6C1312.0,601.5 1312.6,601.1 1313.1,601.1C1313.7,601.2 1314.3,601.7 1314.8,601.9C1315.4,602.2 1316.0,602.5 1316.6,602.5C1317.1,602.5 1317.7,602.1 1318.3,602.1C1318.9,602.1 1319.4,602.4 1320.0,602.5C1320.6,602.6 1321.2,602.7 1321.8,602.7C1322.4,602.7 1323.0,602.2 1323.6,602.4C1324.2,602.5 1324.8,603.6 1325.5,603.7C1326.1,603.7 1326.7,602.8 1327.3,602.8C1327.9,602.9 1328.5,603.8 1329.1,604.0C1329.7,604.3 1330.3,604.1 1330.9,604.1C1331.5,604.1 1332.1,603.9 1332.7,604.0C1333.3,604.1 1333.9,604.8 1334.5,604.9C1335.2,605.0 1335.8,604.9 1336.4,604.8C1337.0,604.7 1337.6,604.4 1338.2,604.4C1338.8,604.4 1339.4,604.9 1340.0,605.0C1340.6,605.1 1341.3,605.1 1342.0,605.1C1342.7,605.2 1343.3,605.0 1344.0,605.2C1344.7,605.4 1345.3,606.0 1346.0,606.1C1346.7,606.2 1347.3,605.7 1348.0,605.7C1348.7,605.7 1349.4,605.9 1350.0,606.0C1350.6,606.1 1351.2,606.2 1351.8,606.2C1352.4,606.2 1352.9,606.0 1353.5,605.8C1354.1,605.7 1354.7,605.3 1355.3,605.1C1355.9,604.8 1356.5,604.6 1357.1,604.5C1357.6,604.3 1358.2,604.1 1358.8,604.0C1359.4,603.9 1360.0,603.7 1360.6,603.7C1361.2,603.7 1361.8,604.1 1362.4,604.1C1362.9,604.0 1363.5,603.4 1364.1,603.2C1364.7,603.0 1365.3,603.0 1365.9,602.9C1366.5,602.8 1367.1,602.4 1367.6,602.5C1368.2,602.5 1368.8,603.2 1369.4,603.3C1370.0,603.4 1370.6,603.1 1371.2,603.0C1371.8,602.9 1372.4,602.9 1372.9,602.8C1373.5,602.6 1374.1,602.4 1374.7,602.3C1375.3,602.2 1375.9,602.1 1376.5,602.0C1377.1,601.9 1377.6,601.6 1378.2,601.4C1378.8,601.3 1379.4,600.9 1380.0,601.0C1380.6,601.1 1381.1,602.2 1381.7,602.1C1382.3,602.0 1382.9,600.7 1383.4,600.4C1384.0,600.2 1384.6,600.8 1385.2,600.7C1385.7,600.6 1386.3,600.2 1386.9,599.9C1387.5,599.6 1388.0,599.0 1388.6,599.1C1389.2,599.1 1389.8,600.2 1390.3,600.1C1390.9,600.0 1391.5,598.6 1392.1,598.4C1392.6,598.2 1393.2,598.7 1393.8,598.8C1394.4,598.9 1394.9,599.0 1395.5,598.9C1396.1,598.8 1396.7,598.6 1397.2,598.4C1397.8,598.3 1398.4,598.2 1399.0,598.2C1399.5,598.2 1400.1,598.7 1400.7,598.6C1401.3,598.5 1401.8,597.6 1402.4,597.5C1403.0,597.4 1403.6,597.8 1404.1,598.0C1404.7,598.1 1405.3,598.3 1405.9,598.4C1406.4,598.4 1407.0,598.3 1407.6,598.2C1408.2,598.1 1408.7,597.7 1409.3,597.7C1409.9,597.8 1410.5,598.4 1411.0,598.4C1411.6,598.5 1412.2,598.4 1412.8,598.2C1413.3,597.9 1413.9,596.9 1414.5,596.9C1415.1,597.0 1415.6,598.5 1416.2,598.5C1416.8,598.6 1417.4,597.6 1417.9,597.2C1418.5,596.9 1419.1,596.4 1419.7,596.4C1420.2,596.4 1420.8,597.3 1421.4,597.2C1422.0,597.2 1422.5,596.6 1423.1,596.3C1423.7,596.1 1424.3,595.9 1424.8,595.7C1425.4,595.5 1426.0,595.2 1426.6,595.0C1427.1,594.9 1427.7,594.7 1428.3,594.9C1428.9,595.0 1429.4,595.7 1430.0,596.0C1430.6,596.3 1431.1,596.4 1431.7,596.4C1432.3,596.4 1432.9,595.9 1433.4,595.9C1434.0,595.8 1434.6,596.1 1435.2,596.1C1435.7,596.2 1436.3,596.3 1436.9,596.2C1437.5,596.2 1438.0,596.2 1438.6,595.8C1439.2,595.5 1439.8,594.1 1440.3,594.1C1440.9,594.0 1441.5,595.0 1442.1,595.3C1442.6,595.6 1443.2,595.9 1443.8,595.9C1444.4,595.9 1444.9,595.3 1445.5,595.1C1446.1,595.0 1446.7,595.2 1447.2,595.0C1447.8,594.9 1448.4,594.6 1449.0,594.3C1449.5,594.0 1450.1,593.2 1450.7,593.2C1451.3,593.2 1451.8,593.9 1452.4,594.2C1453.0,594.5 1453.6,594.7 1454.1,594.8C1454.7,594.9 1455.3,595.0 1455.9,594.9C1456.4,594.9 1457.0,594.7 1457.6,594.3C1458.2,594.0 1458.7,593.2 1459.3,593.0C1459.9,592.8 1460.5,593.1 1461.0,593.2C1461.6,593.3 1462.2,593.5 1462.8,593.6C1463.3,593.7 1463.9,593.8 1464.5,593.9C1465.1,594.0 1465.6,594.2 1466.2,594.2C1466.8,594.2 1467.4,594.1 1467.9,594.0C1468.5,593.9 1469.1,593.9 1469.7,593.5C1470.2,593.2 1470.8,591.8 1471.4,591.9C1472.0,592.0 1472.5,594.2 1473.1,594.2C1473.7,594.3 1474.3,592.3 1474.8,592.0C1475.4,591.7 1476.0,592.3 1476.6,592.3C1477.1,592.3 1477.7,592.0 1478.3,592.0C1478.9,592.1 1479.4,592.6 1480.0,592.5C1480.6,592.4 1481.1,591.6 1481.7,591.5C1482.3,591.5 1482.8,592.3 1483.4,592.4C1484.0,592.5 1484.5,592.4 1485.1,592.1C1485.7,591.8 1486.2,590.7 1486.8,590.8C1487.4,590.8 1488.0,592.2 1488.5,592.4C1489.1,592.5 1489.7,591.7 1490.2,591.6C1490.8,591.6 1491.4,592.3 1491.9,592.0C1492.5,591.8 1493.1,590.4 1493.6,590.3C1494.2,590.1 1494.8,591.1 1495.3,591.3C1495.9,591.5 1496.5,591.1 1497.0,591.3C1497.6,591.4 1498.2,592.3 1498.8,592.2C1499.3,592.0 1499.9,590.6 1500.5,590.4C1501.0,590.2 1501.6,590.9 1502.2,590.7C1502.7,590.6 1503.3,589.7 1503.9,589.6C1504.4,589.5 1505.0,589.9 1505.6,590.2C1506.1,590.5 1506.7,591.6 1507.3,591.5C1507.8,591.3 1508.4,589.6 1509.0,589.3C1509.5,589.1 1510.1,589.9 1510.7,590.0C1511.2,590.1 1511.8,589.8 1512.4,590.0C1513.0,590.2 1513.5,591.1 1514.1,591.1C1514.7,591.0 1515.2,589.8 1515.8,589.6C1516.4,589.5 1516.9,590.0 1517.5,590.0C1518.1,590.0 1518.6,589.5 1519.2,589.4C1519.8,589.3 1520.3,589.1 1520.9,589.4C1521.5,589.7 1522.0,590.8 1522.6,590.9C1523.2,590.9 1523.8,589.9 1524.3,589.7C1524.9,589.5 1525.5,589.6 1526.0,589.6C1526.6,589.5 1527.2,589.3 1527.7,589.5C1528.3,589.7 1528.9,590.4 1529.4,590.7C1530.0,591.0 1530.6,591.5 1531.1,591.4C1531.7,591.3 1532.3,590.1 1532.8,590.2C1533.4,590.3 1534.0,591.6 1534.5,592.0C1535.1,592.3 1535.7,592.3 1536.2,592.3C1536.8,592.4 1537.4,592.4 1538.0,592.3C1538.5,592.3 1539.1,592.3 1539.7,592.2C1540.2,592.2 1540.8,592.1 1541.4,592.1C1541.9,592.1 1542.5,592.5 1543.1,592.5C1543.6,592.5 1544.2,592.4 1544.8,592.3C1545.3,592.1 1545.9,591.5 1546.5,591.6C1547.0,591.7 1547.6,593.0 1548.2,593.0C1548.8,592.9 1549.3,591.7 1549.9,591.3C1550.5,591.0 1551.0,590.6 1551.6,590.7C1552.2,590.9 1552.7,592.1 1553.3,592.3C1553.9,592.6 1554.4,591.8 1555.0,592.0C1555.6,592.2 1556.2,593.2 1556.8,593.4C1557.4,593.6 1558.0,593.5 1558.6,593.2C1559.2,592.9 1559.8,591.5 1560.4,591.7C1561.0,591.9 1561.5,594.2 1562.1,594.5C1562.7,594.8 1563.3,594.0 1563.9,593.7C1564.5,593.4 1565.1,592.5 1565.7,592.6C1566.3,592.7 1566.9,594.1 1567.5,594.5C1568.1,594.9 1568.7,595.3 1569.3,595.2C1569.9,595.1 1570.5,594.0 1571.1,593.9C1571.7,593.9 1572.3,594.6 1572.9,594.9C1573.5,595.2 1574.0,595.7 1574.6,595.7C1575.2,595.7 1575.8,595.0 1576.4,594.9C1577.0,594.9 1577.6,595.5 1578.2,595.7C1578.8,595.8 1579.4,595.8 1580.0,596.0C1580.6,596.2 1581.2,596.5 1581.9,596.9C1582.5,597.2 1583.1,597.8 1583.8,598.1C1584.4,598.4 1585.0,598.6 1585.6,598.7C1586.2,598.9 1586.9,598.8 1587.5,599.0C1588.1,599.1 1588.8,599.4 1589.4,599.6C1590.0,599.8 1590.6,599.7 1591.2,600.3C1591.9,600.9 1592.5,602.6 1593.1,603.0C1593.8,603.3 1594.4,602.5 1595.0,602.5C1595.6,602.5 1596.3,602.3 1597.0,602.9C1597.7,603.5 1598.3,605.6 1599.0,606.1C1599.7,606.5 1600.3,605.1 1601.0,605.6C1601.7,606.1 1602.3,608.5 1603.0,609.2C1603.7,610.0 1604.3,609.7 1605.0,610.0C1605.7,610.3 1606.3,610.4 1607.0,610.8C1607.7,611.1 1608.3,612.0 1609.0,612.2C1609.7,612.4 1610.3,611.8 1611.0,611.9C1611.7,612.0 1612.3,612.2 1613.0,612.7C1613.7,613.2 1614.2,613.8 1615.0,615.0C1615.8,616.2 1616.7,617.9 1617.5,619.7C1618.3,621.5 1619.3,624.5 1620.0,626.0C1620.7,627.5 1621.2,628.3 1621.9,628.8C1622.5,629.3 1623.1,628.5 1623.8,629.0C1624.4,629.4 1625.0,631.0 1625.6,631.5C1626.2,632.1 1626.8,631.0 1627.5,632.5C1628.2,634.0 1629.2,637.8 1630.0,640.7C1630.8,643.6 1631.7,647.2 1632.5,650.0C1633.3,652.8 1634.2,654.8 1635.0,657.3C1635.8,659.8 1636.7,661.7 1637.5,665.0C1638.3,668.3 1639.2,673.2 1640.0,677.4C1640.8,681.5 1641.7,686.2 1642.5,690.0C1643.3,693.8 1644.2,696.8 1645.0,700.1C1645.8,703.5 1646.7,707.4 1647.5,710.0C1648.3,712.6 1649.2,713.7 1650.0,715.6C1650.8,717.4 1651.7,719.8 1652.5,721.0C1653.3,722.2 1654.2,722.1 1655.0,722.8C1655.8,723.4 1656.8,724.9 1657.5,725.0C1658.2,725.1 1658.8,724.1 1659.4,723.3C1660.0,722.5 1660.6,721.1 1661.2,720.2C1661.9,719.4 1662.5,718.8 1663.1,718.1C1663.8,717.4 1664.4,716.6 1665.0,716.0C1665.6,715.4 1666.2,714.8 1666.9,714.3C1667.5,713.8 1668.1,713.4 1668.8,713.0C1669.4,712.7 1670.0,712.4 1670.6,712.1C1671.2,711.7 1671.9,711.3 1672.5,711.0C1673.1,710.7 1673.8,710.2 1674.4,710.0C1675.0,709.8 1675.6,710.1 1676.2,710.0C1676.9,709.8 1677.5,709.4 1678.1,709.3C1678.8,709.1 1679.3,710.6 1680.0,709.0C1680.7,707.4 1681.7,703.0 1682.5,699.8C1683.3,696.6 1684.2,693.8 1685.0,690.0C1685.8,686.2 1686.7,681.4 1687.5,677.2C1688.3,673.1 1689.2,667.3 1690.0,665.0C1690.8,662.7 1691.7,664.1 1692.5,663.4C1693.3,662.7 1694.3,660.7 1695.0,661.0C1695.7,661.3 1696.2,663.8 1696.9,665.2C1697.5,666.6 1698.1,668.1 1698.8,669.4C1699.4,670.7 1700.0,671.5 1700.6,672.9C1701.2,674.2 1701.9,675.9 1702.5,677.5C1703.1,679.1 1703.8,680.6 1704.4,682.3C1705.0,684.0 1705.6,686.1 1706.2,687.8C1706.9,689.5 1707.5,690.9 1708.1,692.5C1708.8,694.1 1709.4,696.3 1710.0,697.5C1710.6,698.7 1711.3,698.9 1712.0,699.7C1712.7,700.4 1713.3,701.1 1714.0,702.0C1714.7,702.8 1715.2,703.7 1716.0,705.0C1716.8,706.3 1717.7,708.3 1718.5,709.8C1719.3,711.3 1720.2,713.8 1721.0,714.0C1721.8,714.2 1722.4,711.8 1723.2,710.7C1723.9,709.7 1724.6,708.6 1725.3,707.6C1726.1,706.6 1726.7,706.0 1727.5,705.0C1728.3,704.0 1729.2,702.4 1730.0,701.4C1730.8,700.4 1731.7,700.9 1732.5,699.0C1733.3,697.1 1734.2,693.0 1735.0,689.8C1735.8,686.7 1736.8,682.2 1737.5,680.0C1738.2,677.8 1738.8,677.8 1739.4,676.6C1740.0,675.3 1740.6,673.8 1741.2,672.4C1741.9,671.0 1742.5,669.6 1743.1,668.4C1743.8,667.2 1744.4,666.1 1745.0,665.0C1745.6,663.9 1746.2,663.6 1746.9,662.0C1747.5,660.3 1748.1,656.9 1748.8,655.1C1749.4,653.4 1750.0,652.7 1750.6,651.5C1751.2,650.2 1751.8,649.0 1752.5,647.5C1753.2,646.0 1754.2,643.9 1755.0,642.2C1755.8,640.5 1756.8,638.5 1757.5,637.5C1758.2,636.5 1758.8,636.3 1759.5,636.0C1760.2,635.6 1760.8,635.3 1761.5,635.3C1762.2,635.3 1762.8,635.8 1763.5,635.8C1764.2,635.7 1764.8,635.4 1765.5,634.9C1766.2,634.3 1766.8,632.7 1767.5,632.5C1768.2,632.3 1768.8,633.1 1769.5,633.5C1770.2,633.8 1770.8,634.5 1771.5,634.7C1772.2,635.0 1772.8,634.6 1773.5,634.7C1774.2,634.9 1774.8,635.3 1775.5,635.8C1776.2,636.3 1776.9,636.5 1777.5,637.5C1778.1,638.5 1778.8,641.0 1779.4,642.1C1780.0,643.2 1780.6,643.8 1781.2,644.3C1781.9,644.9 1782.5,644.3 1783.1,645.3C1783.8,646.2 1784.4,648.9 1785.0,650.0C1785.6,651.1 1786.3,651.6 1787.0,651.7C1787.7,651.8 1788.3,650.5 1789.0,650.7C1789.7,651.0 1790.3,653.0 1791.0,653.2C1791.7,653.5 1792.3,652.0 1793.0,652.1C1793.7,652.2 1794.2,653.2 1795.0,654.0C1795.8,654.8 1796.7,655.6 1797.5,656.6C1798.3,657.6 1799.2,659.3 1800.0,660.0C1800.8,660.7 1801.3,660.9 1802.0,661.0C1802.7,661.2 1803.3,660.8 1804.0,660.9C1804.7,661.1 1805.3,661.7 1806.0,661.9C1806.7,662.1 1807.3,662.2 1808.0,662.3C1808.7,662.4 1809.3,662.7 1810.0,662.5C1810.7,662.3 1811.3,661.6 1812.0,660.8C1812.7,660.0 1813.3,658.7 1814.0,657.8C1814.7,656.9 1815.3,656.1 1816.0,655.5C1816.7,654.8 1817.3,654.6 1818.0,653.8C1818.7,653.1 1819.4,651.1 1820.0,651.0C1820.6,650.9 1821.2,652.5 1821.9,653.0C1822.5,653.6 1823.1,653.9 1823.8,654.5C1824.4,655.0 1825.0,655.8 1825.6,656.3C1826.2,656.9 1826.9,656.1 1827.5,657.5C1828.1,658.9 1828.8,662.3 1829.4,664.7C1830.0,667.2 1830.6,669.5 1831.2,671.9C1831.9,674.4 1832.5,677.0 1833.1,679.3C1833.8,681.7 1834.3,685.2 1835.0,686.0C1835.7,686.8 1836.7,684.4 1837.5,683.9C1838.3,683.3 1839.3,684.3 1840.0,682.5C1840.7,680.7 1841.2,676.2 1841.9,673.0C1842.5,669.8 1843.1,666.6 1843.8,663.4C1844.4,660.3 1845.0,657.2 1845.6,654.1C1846.2,651.0 1846.9,647.4 1847.5,645.0C1848.1,642.6 1848.8,641.2 1849.4,639.4C1850.0,637.6 1850.6,636.1 1851.2,634.2C1851.9,632.2 1852.5,629.5 1853.1,627.6C1853.8,625.7 1854.3,623.1 1855.0,622.5C1855.7,621.9 1856.7,623.3 1857.5,623.7C1858.3,624.1 1859.3,623.6 1860.0,625.0C1860.7,626.4 1861.2,629.7 1861.9,632.0C1862.5,634.2 1863.1,636.4 1863.8,638.6C1864.4,640.8 1865.0,642.8 1865.6,645.2C1866.2,647.5 1866.9,650.9 1867.5,652.5C1868.1,654.1 1868.8,654.0 1869.4,654.5C1870.0,655.0 1870.6,655.1 1871.2,655.7C1871.9,656.3 1872.5,657.7 1873.1,658.4C1873.8,659.1 1874.4,660.0 1875.0,660.0C1875.6,660.0 1876.2,659.2 1876.9,658.6C1877.5,657.9 1878.1,656.6 1878.8,656.0C1879.4,655.3 1880.0,655.4 1880.6,654.8C1881.2,654.2 1881.9,653.7 1882.5,652.5C1883.1,651.3 1883.7,649.5 1884.3,647.9C1884.9,646.3 1885.6,644.8 1886.2,643.1C1886.8,641.5 1887.4,640.2 1888.0,638.0C1888.6,635.8 1889.3,632.7 1890.0,630.1C1890.7,627.4 1891.3,624.7 1892.0,622.1C1892.7,619.6 1893.3,616.6 1894.0,615.0C1894.7,613.4 1895.3,613.2 1896.0,612.3C1896.7,611.3 1897.3,610.3 1898.0,609.2C1898.7,608.2 1899.3,606.8 1900.0,605.8C1900.7,604.8 1901.3,602.8 1902.0,603.0C1902.7,603.2 1903.3,605.7 1904.0,606.8C1904.7,607.9 1905.3,608.3 1906.0,609.4C1906.7,610.6 1907.3,612.6 1908.0,613.9C1908.7,615.1 1909.3,617.0 1910.0,617.0C1910.7,617.0 1911.3,615.1 1912.0,613.9C1912.7,612.8 1913.3,611.2 1914.0,610.1C1914.7,608.9 1915.2,608.2 1916.0,607.0C1916.8,605.8 1917.7,604.3 1918.5,603.0C1919.3,601.6 1920.2,599.8 1921.0,599.0C1921.8,598.2 1922.3,598.7 1923.0,598.4C1923.7,598.2 1924.3,597.7 1925.0,597.3C1925.7,597.0 1926.3,596.5 1927.0,596.3C1927.7,596.0 1928.3,596.3 1929.0,596.1C1929.7,595.8 1930.4,595.3 1931.0,595.0C1931.6,594.7 1932.2,594.8 1932.9,594.4C1933.5,594.0 1934.1,593.0 1934.8,592.5C1935.4,592.1 1936.0,592.0 1936.6,591.8C1937.2,591.5 1937.9,590.1 1938.5,591.0C1939.1,591.9 1939.8,595.1 1940.4,597.0C1941.0,598.9 1941.6,600.6 1942.2,602.5C1942.9,604.3 1943.5,606.3 1944.1,608.2C1944.8,610.1 1945.4,613.5 1946.0,614.0C1946.6,614.5 1947.3,612.1 1948.0,610.9C1948.7,609.8 1949.3,608.2 1950.0,607.0C1950.7,605.7 1951.3,604.5 1952.0,603.2C1952.7,602.0 1953.3,600.6 1954.0,599.4C1954.7,598.2 1955.4,595.5 1956.0,596.0C1956.6,596.5 1957.2,600.2 1957.9,602.1C1958.5,604.0 1959.1,605.6 1959.8,607.6C1960.4,609.5 1961.0,611.9 1961.6,614.0C1962.2,616.0 1962.9,617.0 1963.5,620.0C1964.1,623.0 1964.8,627.9 1965.4,631.9C1966.0,635.8 1966.6,639.9 1967.2,643.8C1967.9,647.7 1968.5,651.2 1969.1,655.1C1969.8,659.1 1970.3,664.8 1971.0,667.5C1971.7,670.2 1972.7,669.9 1973.5,671.3C1974.3,672.7 1975.3,675.9 1976.0,676.0C1976.7,676.1 1977.2,673.2 1977.8,671.9C1978.4,670.5 1979.1,669.2 1979.7,667.7C1980.3,666.1 1980.9,664.0 1981.5,662.5C1982.1,661.0 1982.7,660.1 1983.3,658.9C1983.9,657.6 1984.6,656.4 1985.2,654.9C1985.8,653.4 1986.4,650.1 1987.0,650.0C1987.6,649.9 1988.2,652.8 1988.8,654.3C1989.4,655.8 1990.0,657.2 1990.6,658.8C1991.2,660.3 1991.8,662.2 1992.4,663.7C1993.0,665.1 1993.6,666.1 1994.2,667.5C1994.8,669.0 1995.4,671.2 1996.0,672.5C1996.6,673.8 1997.2,674.2 1997.9,675.2C1998.5,676.3 1999.1,678.0 1999.8,679.0C2000.4,680.0 2001.0,680.4 2001.6,681.4C2002.2,682.4 2002.9,684.5 2003.5,685.0C2004.1,685.5 2004.7,684.3 2005.3,684.1C2005.9,683.9 2006.5,684.1 2007.1,683.7C2007.7,683.3 2008.3,682.2 2008.9,681.9C2009.5,681.6 2010.0,682.0 2010.6,681.9C2011.2,681.7 2011.8,681.3 2012.4,681.0C2013.0,680.7 2013.6,680.4 2014.2,680.1C2014.8,679.7 2015.4,678.4 2016.0,679.0C2016.6,679.6 2017.2,682.3 2017.9,683.8C2018.5,685.2 2019.1,686.2 2019.8,687.7C2020.4,689.1 2021.0,690.8 2021.6,692.5C2022.2,694.1 2022.8,696.0 2023.5,697.5C2024.2,699.0 2024.9,700.2 2025.7,701.4C2026.4,702.6 2027.1,703.5 2027.8,704.7C2028.6,706.0 2029.4,708.5 2030.0,709.0C2030.6,709.5 2031.1,708.2 2031.7,707.6C2032.3,706.9 2032.8,705.9 2033.4,705.1C2034.0,704.2 2034.5,703.0 2035.1,702.4C2035.7,701.8 2036.2,702.0 2036.8,701.5C2037.4,700.9 2037.9,699.8 2038.5,699.0C2039.1,698.2 2039.6,697.7 2040.2,696.9C2040.8,696.0 2041.3,694.9 2041.9,694.0C2042.5,693.0 2043.0,692.0 2043.6,691.1C2044.2,690.3 2044.7,689.7 2045.3,688.8C2045.9,688.0 2046.4,685.9 2047.0,686.0C2047.6,686.1 2048.2,688.3 2048.9,689.2C2049.5,690.2 2050.1,690.8 2050.7,691.7C2051.3,692.7 2052.0,693.9 2052.6,694.7C2053.2,695.5 2053.8,695.8 2054.4,696.6C2055.0,697.4 2055.7,698.5 2056.3,699.5C2056.9,700.5 2057.5,701.6 2058.1,702.6C2058.8,703.5 2059.4,704.8 2060.0,705.0C2060.6,705.2 2061.3,704.2 2061.9,703.7C2062.6,703.3 2063.2,702.8 2063.9,702.4C2064.5,702.0 2065.1,701.7 2065.8,701.2C2066.4,700.7 2067.1,700.0 2067.7,699.4C2068.4,698.9 2069.0,698.5 2069.6,698.0C2070.3,697.5 2070.9,696.8 2071.6,696.3C2072.2,695.8 2072.8,696.2 2073.5,695.0C2074.2,693.8 2074.8,691.3 2075.5,689.3C2076.2,687.3 2076.8,684.9 2077.5,682.8C2078.2,680.8 2078.8,679.2 2079.5,677.2C2080.2,675.2 2080.8,672.8 2081.5,670.8C2082.2,668.7 2082.8,666.4 2083.5,665.0C2084.2,663.6 2084.8,663.2 2085.5,662.1C2086.2,661.1 2086.8,660.1 2087.5,659.0C2088.2,657.9 2088.8,656.7 2089.5,655.6C2090.2,654.5 2090.8,653.4 2091.5,652.3C2092.2,651.2 2092.9,650.3 2093.5,649.0C2094.1,647.7 2094.8,645.9 2095.4,644.3C2096.0,642.7 2096.6,640.9 2097.2,639.4C2097.9,638.0 2098.5,637.0 2099.1,635.6C2099.8,634.2 2100.4,630.6 2101.0,631.0C2101.6,631.4 2102.3,635.8 2103.0,638.1C2103.7,640.4 2104.3,642.6 2105.0,644.8C2105.7,646.9 2106.3,650.7 2107.0,651.0C2107.7,651.3 2108.4,648.3 2109.2,646.8C2109.9,645.2 2110.6,643.5 2111.3,641.9C2112.1,640.4 2112.8,639.4 2113.5,637.5C2114.2,635.6 2114.8,632.7 2115.4,630.6C2116.0,628.4 2116.6,626.6 2117.2,624.5C2117.9,622.5 2118.5,620.3 2119.1,618.0C2119.8,615.7 2120.4,612.2 2121.0,611.0C2121.6,609.8 2122.2,610.9 2122.8,610.6C2123.4,610.4 2124.0,609.8 2124.6,609.5C2125.2,609.2 2125.8,609.3 2126.4,609.0C2127.0,608.7 2127.5,608.1 2128.1,607.6C2128.7,607.2 2129.3,606.6 2129.9,606.2C2130.5,605.9 2131.1,605.9 2131.7,605.7C2132.3,605.4 2132.9,604.5 2133.5,605.0C2134.1,605.5 2134.8,607.2 2135.5,608.5C2136.2,609.8 2136.8,611.4 2137.5,612.8C2138.2,614.1 2138.8,615.4 2139.5,616.6C2140.2,617.9 2140.8,619.0 2141.5,620.3C2142.2,621.5 2142.9,624.0 2143.5,624.0C2144.1,624.0 2144.8,621.5 2145.4,620.3C2146.0,619.2 2146.6,618.2 2147.2,617.1C2147.9,616.0 2148.5,615.1 2149.1,613.9C2149.8,612.7 2150.4,611.2 2151.0,610.0C2151.6,608.8 2152.2,607.6 2152.8,606.5C2153.4,605.4 2154.0,604.6 2154.6,603.5C2155.2,602.4 2155.8,601.1 2156.4,600.0C2157.0,598.9 2157.5,598.1 2158.1,597.0C2158.7,596.0 2159.3,594.7 2159.9,593.6C2160.5,592.5 2161.1,591.6 2161.7,590.6C2162.3,589.6 2162.9,588.0 2163.5,587.5C2164.1,587.0 2164.7,587.4 2165.3,587.4C2165.9,587.4 2166.4,587.6 2167.0,587.7C2167.6,587.8 2168.2,588.1 2168.8,588.1C2169.4,588.2 2170.0,587.7 2170.6,587.7C2171.1,587.8 2171.7,588.3 2172.3,588.4C2172.9,588.5 2173.5,588.3 2174.1,588.4C2174.7,588.4 2175.3,588.8 2175.9,588.7C2176.4,588.6 2177.0,588.0 2177.6,587.9C2178.2,587.8 2178.8,588.3 2179.4,588.2C2180.0,588.2 2180.6,587.7 2181.1,587.8C2181.7,588.0 2182.3,589.0 2182.9,589.0C2183.5,589.0 2184.1,588.0 2184.7,588.0C2185.3,588.0 2185.9,589.0 2186.4,589.1C2187.0,589.2 2187.6,588.8 2188.2,588.7C2188.8,588.6 2189.4,588.6 2190.0,588.6C2190.6,588.6 2191.1,588.6 2191.7,588.7C2192.3,588.8 2192.9,588.8 2193.5,589.0C2194.1,589.2 2194.7,589.6 2195.3,589.8C2195.9,590.0 2196.5,589.9 2197.1,590.1C2197.7,590.4 2198.3,590.9 2199.0,591.1C2199.6,591.4 2200.2,591.5 2200.8,591.6C2201.4,591.7 2202.0,591.5 2202.6,591.7C2203.2,591.9 2203.8,592.5 2204.4,592.7C2205.0,593.0 2205.6,593.3 2206.2,593.3C2206.8,593.4 2207.4,592.8 2208.0,593.0C2208.7,593.1 2209.3,594.0 2209.9,594.3C2210.5,594.6 2211.1,594.6 2211.7,594.7C2212.3,594.9 2212.9,594.5 2213.5,595.0C2214.1,595.5 2214.7,597.1 2215.2,597.8C2215.8,598.6 2216.4,599.3 2217.0,599.5C2217.6,599.6 2218.2,598.3 2218.8,598.9C2219.3,599.4 2219.9,601.7 2220.5,602.7C2221.1,603.7 2221.7,604.1 2222.2,604.8C2222.8,605.4 2223.4,605.6 2224.0,606.6C2224.6,607.6 2225.2,610.1 2225.8,610.8C2226.3,611.4 2226.9,609.7 2227.5,610.4C2228.1,611.1 2228.7,614.2 2229.2,615.0C2229.8,615.8 2230.4,614.7 2231.0,615.0C2231.6,615.3 2232.2,616.6 2232.8,616.7C2233.4,616.8 2234.0,615.5 2234.6,615.6C2235.2,615.6 2235.8,616.9 2236.5,616.9C2237.1,616.9 2237.7,615.6 2238.3,615.5C2238.9,615.5 2239.5,616.1 2240.1,616.3C2240.7,616.5 2241.3,617.3 2241.9,616.9C2242.5,616.5 2243.1,613.9 2243.7,613.9C2244.3,613.9 2244.9,616.5 2245.5,617.0C2246.2,617.4 2246.8,616.5 2247.4,616.5C2248.0,616.5 2248.6,617.0 2249.2,616.8C2249.8,616.5 2250.4,614.8 2251.0,615.0C2251.6,615.2 2252.2,617.3 2252.9,617.7C2253.5,618.2 2254.1,618.0 2254.8,617.6C2255.4,617.2 2256.0,615.3 2256.6,615.4C2257.2,615.4 2257.9,617.2 2258.5,618.0C2259.1,618.8 2259.8,620.5 2260.4,620.4C2261.0,620.3 2261.6,617.3 2262.2,617.4C2262.9,617.5 2263.5,620.5 2264.1,621.1C2264.8,621.7 2265.4,621.4 2266.0,621.0C2266.6,620.6 2267.2,618.9 2267.7,618.8C2268.3,618.7 2268.9,620.9 2269.5,620.4C2270.0,619.9 2270.6,616.3 2271.2,615.8C2271.8,615.4 2272.3,617.9 2272.9,617.9C2273.5,618.0 2274.1,616.7 2274.6,616.2C2275.2,615.7 2275.8,615.7 2276.4,614.8C2276.9,614.0 2277.5,611.5 2278.1,611.1C2278.7,610.7 2279.2,612.7 2279.8,612.4C2280.4,612.1 2281.0,610.0 2281.5,609.4C2282.1,608.9 2282.7,609.5 2283.3,609.2C2283.8,608.9 2284.4,607.4 2285.0,607.5C2285.6,607.6 2286.2,609.3 2286.8,609.7C2287.4,610.2 2288.1,610.3 2288.7,610.2C2289.3,610.2 2289.9,609.4 2290.5,609.4C2291.1,609.4 2291.7,610.5 2292.3,610.3C2292.9,610.1 2293.6,608.5 2294.2,608.5C2294.8,608.4 2295.4,609.2 2296.0,610.0C2296.6,610.8 2297.2,612.8 2297.8,613.5C2298.4,614.1 2299.0,614.1 2299.6,614.0C2300.2,614.0 2300.8,612.5 2301.4,613.1C2302.0,613.8 2302.5,616.7 2303.1,617.7C2303.7,618.8 2304.3,619.3 2304.9,619.5C2305.5,619.7 2306.1,618.7 2306.7,618.9C2307.3,619.0 2307.9,619.6 2308.5,620.4C2309.1,621.1 2309.7,623.2 2310.3,623.5C2310.9,623.8 2311.5,621.9 2312.1,622.3C2312.7,622.7 2313.3,624.6 2313.9,625.8C2314.5,627.0 2315.0,629.1 2315.6,629.8C2316.2,630.4 2316.8,629.2 2317.4,629.6C2318.0,630.0 2318.6,631.7 2319.2,632.2C2319.8,632.7 2320.4,632.2 2321.0,632.5C2321.6,632.8 2322.1,633.9 2322.7,633.8C2323.3,633.7 2323.9,632.3 2324.4,631.9C2325.0,631.5 2325.6,631.9 2326.2,631.6C2326.7,631.3 2327.3,629.9 2327.9,630.1C2328.4,630.3 2329.0,632.3 2329.6,632.7C2330.2,633.1 2330.7,633.2 2331.3,632.4C2331.9,631.6 2332.5,628.8 2333.0,628.1C2333.6,627.5 2334.2,628.3 2334.8,628.5C2335.3,628.6 2335.9,628.8 2336.5,629.0C2337.0,629.1 2337.6,629.3 2338.2,629.4C2338.8,629.4 2339.3,629.1 2339.9,629.2C2340.5,629.3 2341.1,630.1 2341.6,629.9C2342.2,629.7 2342.8,628.0 2343.3,627.9C2343.9,627.9 2344.5,629.8 2345.1,629.5C2345.6,629.2 2346.2,626.4 2346.8,626.0C2347.4,625.7 2347.9,627.1 2348.5,627.5C2349.1,627.9 2349.8,628.3 2350.5,628.7C2351.2,629.1 2351.8,629.4 2352.5,629.7C2353.2,629.9 2353.8,630.1 2354.5,630.5C2355.2,630.8 2355.8,631.6 2356.5,632.0C2357.2,632.3 2357.9,632.5 2358.5,632.5C2359.1,632.5 2359.7,632.7 2360.3,632.2C2360.9,631.8 2361.5,631.2 2362.1,629.8C2362.7,628.5 2363.3,625.5 2363.9,624.2C2364.5,622.9 2365.0,622.1 2365.6,621.8C2366.2,621.5 2366.8,622.7 2367.4,622.4C2368.0,622.1 2368.6,621.1 2369.2,620.0C2369.8,619.0 2370.4,616.7 2371.0,616.0C2371.6,615.3 2372.2,615.0 2372.9,615.8C2373.5,616.7 2374.1,620.2 2374.8,621.0C2375.4,621.7 2376.0,619.8 2376.6,620.3C2377.2,620.8 2377.8,625.1 2378.5,624.0C2379.2,622.9 2380.2,616.4 2381.0,613.7C2381.8,610.9 2382.8,609.2 2383.5,607.5C2384.2,605.8 2384.8,604.6 2385.4,603.3C2386.0,602.0 2386.6,600.8 2387.2,599.8C2387.9,598.9 2388.5,598.3 2389.1,597.5C2389.8,596.7 2390.7,595.4 2391.0,595.0"/><path d="M166.0,799.0C166.3,799.0 167.2,798.8 167.7,799.1C168.3,799.3 168.9,800.8 169.5,800.4C170.0,800.0 170.6,797.7 171.2,796.8C171.8,796.0 172.3,795.1 172.9,795.2C173.5,795.3 174.1,797.4 174.6,797.6C175.2,797.8 175.8,796.1 176.4,796.2C176.9,796.3 177.5,798.1 178.1,798.4C178.7,798.7 179.2,798.0 179.8,798.0C180.4,798.0 181.0,798.6 181.5,798.4C182.1,798.2 182.7,797.5 183.3,797.0C183.8,796.4 184.4,795.2 185.0,795.0C185.6,794.8 186.1,795.7 186.7,795.8C187.3,796.0 187.8,796.2 188.4,796.0C189.0,795.8 189.5,794.5 190.1,794.4C190.7,794.3 191.2,794.7 191.8,795.5C192.4,796.2 193.0,798.6 193.5,799.0C194.1,799.4 194.7,797.8 195.2,797.8C195.8,797.7 196.4,798.3 196.9,798.6C197.5,798.9 198.1,799.1 198.6,799.4C199.2,799.7 199.8,800.5 200.3,800.3C200.9,800.2 201.5,799.0 202.0,798.5C202.6,797.9 203.2,797.0 203.8,796.8C204.3,796.7 204.9,797.3 205.5,797.6C206.0,797.8 206.6,798.2 207.2,798.6C207.7,798.9 208.3,799.6 208.9,799.7C209.4,799.8 210.0,799.0 210.6,799.3C211.1,799.6 211.7,800.5 212.3,801.4C212.8,802.2 213.4,804.6 214.0,804.5C214.5,804.3 215.1,800.6 215.7,800.4C216.2,800.3 216.8,803.0 217.4,803.5C218.0,804.1 218.5,803.9 219.1,803.7C219.7,803.4 220.2,801.9 220.8,802.0C221.4,802.0 221.9,803.9 222.5,804.0C223.1,804.1 223.6,802.1 224.2,802.5C224.8,803.0 225.4,806.7 225.9,806.9C226.5,807.0 227.1,803.7 227.6,803.1C228.2,802.6 228.8,803.2 229.3,803.5C229.9,803.9 230.5,804.8 231.1,805.0C231.6,805.2 232.2,804.9 232.8,804.6C233.3,804.4 233.9,803.2 234.5,803.5C235.0,803.8 235.6,805.6 236.2,806.3C236.8,807.0 237.3,807.8 237.9,807.7C238.5,807.7 239.0,806.1 239.6,805.8C240.2,805.6 240.7,805.6 241.3,806.3C241.9,807.1 242.5,810.0 243.0,810.4C243.6,810.8 244.2,809.3 244.7,808.8C245.3,808.4 245.9,807.4 246.4,807.7C247.0,808.1 247.6,811.1 248.2,810.9C248.7,810.7 249.3,807.2 249.9,806.6C250.4,805.9 251.0,806.8 251.6,807.1C252.1,807.4 252.7,808.0 253.3,808.4C253.9,808.9 254.4,809.7 255.0,810.0C255.6,810.3 256.2,810.7 256.8,810.2C257.4,809.7 258.0,806.8 258.6,807.0C259.2,807.2 259.8,810.9 260.4,811.5C261.0,812.1 261.5,810.8 262.1,810.5C262.7,810.3 263.3,810.7 263.9,810.1C264.5,809.5 265.1,807.7 265.7,807.1C266.3,806.4 266.9,805.9 267.5,806.3C268.1,806.8 268.7,809.7 269.3,809.9C269.9,810.0 270.5,807.4 271.1,807.1C271.7,806.9 272.3,808.0 272.9,808.2C273.5,808.4 274.0,808.7 274.6,808.4C275.2,808.0 275.8,806.4 276.4,806.1C277.0,805.8 277.6,806.6 278.2,806.6C278.8,806.6 279.4,805.7 280.0,806.0C280.6,806.3 281.2,808.7 281.8,808.4C282.4,808.1 283.0,804.5 283.6,804.0C284.2,803.5 284.8,805.3 285.5,805.4C286.1,805.5 286.7,804.8 287.3,804.6C287.9,804.4 288.5,804.7 289.1,804.3C289.7,803.8 290.3,801.8 290.9,802.0C291.5,802.2 292.1,805.1 292.7,805.4C293.3,805.6 293.9,803.6 294.5,803.7C295.2,803.8 295.8,806.1 296.4,805.7C297.0,805.3 297.6,801.9 298.2,801.3C298.8,800.8 299.4,802.7 300.0,802.5C300.6,802.3 301.2,799.7 301.9,800.2C302.5,800.6 303.1,805.1 303.8,805.5C304.4,805.9 305.0,802.5 305.6,802.3C306.2,802.2 306.9,804.0 307.5,804.4C308.1,804.9 308.8,804.4 309.4,804.9C310.0,805.3 310.6,806.8 311.2,807.2C311.9,807.5 312.5,807.0 313.1,806.8C313.8,806.6 314.4,805.6 315.0,806.0C315.6,806.4 316.2,808.8 316.9,809.0C317.5,809.2 318.1,807.3 318.8,807.2C319.4,807.2 320.0,807.2 320.6,808.6C321.2,810.0 321.9,814.4 322.5,815.8C323.1,817.2 323.8,817.3 324.4,817.0C325.0,816.8 325.6,814.2 326.2,814.2C326.9,814.2 327.5,816.1 328.1,817.1C328.8,818.1 329.4,819.9 330.0,820.0C330.6,820.1 331.2,817.7 331.9,817.5C332.5,817.2 333.1,819.0 333.8,818.4C334.4,817.8 335.0,814.1 335.6,814.0C336.2,813.9 336.9,818.0 337.5,817.9C338.1,817.9 338.8,814.1 339.4,813.6C340.0,813.0 340.6,814.7 341.2,814.6C341.9,814.5 342.5,813.5 343.1,813.0C343.8,812.4 344.4,811.3 345.0,811.0C345.6,810.7 346.3,811.0 347.0,811.2C347.7,811.4 348.3,812.4 349.0,812.1C349.7,811.8 350.3,809.9 351.0,809.7C351.7,809.4 352.3,810.3 353.0,810.6C353.7,810.8 354.3,811.0 355.0,811.0C355.7,811.0 356.3,809.6 357.0,810.5C357.7,811.3 358.3,815.3 359.0,816.1C359.7,816.8 360.3,814.2 361.0,815.0C361.7,815.8 362.3,820.1 363.0,821.0C363.7,821.8 364.2,819.1 365.0,820.0C365.8,820.9 366.7,824.9 367.5,826.5C368.3,828.2 369.3,829.7 370.0,830.0C370.7,830.3 371.2,828.4 371.9,828.2C372.5,828.0 373.1,829.3 373.8,828.8C374.4,828.4 375.0,825.8 375.6,825.6C376.2,825.4 376.9,826.0 377.5,827.5C378.1,829.0 378.8,832.2 379.4,834.3C380.0,836.3 380.6,837.7 381.2,839.8C381.9,841.9 382.5,844.7 383.1,846.8C383.8,848.9 384.4,851.1 385.0,852.5C385.6,853.9 386.3,854.8 387.0,854.9C387.7,855.1 388.3,853.5 389.0,853.4C389.7,853.2 390.3,853.6 391.0,853.9C391.7,854.3 392.3,855.3 393.0,855.5C393.7,855.6 394.4,854.5 395.0,855.0C395.6,855.5 396.2,856.5 396.9,858.2C397.5,859.9 398.1,864.0 398.8,865.2C399.4,866.4 400.0,864.3 400.6,865.1C401.2,865.9 401.9,868.7 402.5,870.0C403.1,871.3 403.8,872.1 404.5,872.9C405.2,873.7 405.8,874.5 406.5,875.0C407.2,875.5 407.8,875.1 408.5,876.0C409.2,876.9 409.8,879.7 410.5,880.4C411.2,881.0 411.9,879.4 412.5,880.0C413.1,880.6 413.7,883.0 414.3,884.1C414.9,885.3 415.5,886.3 416.1,887.0C416.7,887.7 417.3,887.6 417.9,888.3C418.5,888.9 419.0,890.2 419.6,890.9C420.2,891.5 420.8,891.8 421.4,892.1C422.0,892.5 422.6,892.4 423.2,892.9C423.8,893.3 424.4,894.5 425.0,895.0C425.6,895.5 426.2,895.4 426.8,895.8C427.4,896.3 428.0,897.2 428.6,897.8C429.2,898.4 429.8,898.8 430.4,899.4C431.0,900.0 431.5,900.4 432.1,901.3C432.7,902.2 433.3,903.5 433.9,904.7C434.5,905.9 435.1,907.7 435.7,908.6C436.3,909.4 436.9,909.4 437.5,910.0C438.1,910.6 438.7,912.4 439.3,912.4C439.9,912.4 440.5,909.9 441.1,910.0C441.7,910.1 442.3,911.9 443.0,913.1C443.6,914.2 444.2,916.3 444.8,917.1C445.4,917.9 446.0,918.3 446.6,917.9C447.2,917.5 447.8,915.0 448.4,914.6C449.0,914.2 449.6,914.5 450.2,915.5C450.8,916.5 451.4,920.4 452.0,920.8C452.7,921.2 453.3,917.4 453.9,917.8C454.5,918.2 455.1,922.5 455.7,923.2C456.3,924.0 456.8,921.5 457.5,922.5C458.2,923.5 459.2,926.9 460.0,929.0C460.8,931.1 461.8,933.6 462.5,935.0C463.2,936.4 463.8,937.1 464.5,937.3C465.2,937.5 465.8,935.9 466.5,936.2C467.2,936.6 467.8,938.5 468.5,939.2C469.2,939.9 469.8,939.9 470.5,940.4C471.2,941.0 471.9,941.8 472.5,942.5C473.1,943.2 473.8,943.9 474.4,944.8C475.0,945.7 475.6,946.8 476.2,947.7C476.9,948.5 477.5,949.0 478.1,949.8C478.8,950.5 479.4,951.2 480.0,952.0C480.6,952.9 481.2,954.0 481.9,954.9C482.5,955.8 483.1,956.7 483.8,957.5C484.4,958.3 485.0,958.9 485.6,959.7C486.2,960.6 486.9,962.0 487.5,962.5C488.1,963.0 488.8,962.8 489.4,962.9C490.0,962.9 490.6,962.6 491.2,962.9C491.9,963.1 492.5,964.0 493.1,964.2C493.8,964.4 494.4,963.9 495.0,964.0C495.6,964.1 496.2,964.8 496.7,964.9C497.3,965.0 497.9,964.4 498.5,964.4C499.0,964.4 499.6,964.5 500.2,964.7C500.8,964.9 501.3,965.2 501.9,965.4C502.5,965.6 503.1,965.7 503.7,965.9C504.2,966.1 504.8,966.5 505.4,966.7C506.0,966.9 506.5,967.0 507.1,967.1C507.7,967.2 508.3,967.0 508.8,967.1C509.4,967.2 510.0,967.5 510.6,967.6C511.2,967.6 511.7,967.5 512.3,967.5C512.9,967.6 513.5,967.6 514.0,967.8C514.6,968.1 515.2,968.8 515.8,969.0C516.3,969.2 516.9,969.2 517.5,969.0C518.1,968.8 518.7,968.0 519.3,967.7C519.9,967.4 520.5,967.7 521.1,967.4C521.7,967.1 522.3,966.4 523.0,966.1C523.6,965.8 524.2,965.8 524.8,965.6C525.4,965.3 526.0,964.9 526.6,964.4C527.2,964.0 527.8,963.4 528.4,963.0C529.0,962.5 529.6,962.0 530.2,961.7C530.8,961.4 531.4,961.6 532.0,961.2C532.7,960.9 533.3,960.1 533.9,959.6C534.5,959.2 535.1,958.8 535.7,958.5C536.3,958.2 536.9,958.2 537.5,958.0C538.1,957.8 538.7,957.6 539.3,957.5C539.9,957.4 540.5,957.4 541.1,957.4C541.7,957.4 542.3,957.5 542.9,957.4C543.5,957.2 544.0,956.8 544.6,956.6C545.2,956.3 545.8,956.0 546.4,955.9C547.0,955.8 547.6,955.8 548.2,955.7C548.8,955.6 549.4,955.6 550.0,955.4C550.6,955.3 551.2,955.0 551.8,954.8C552.4,954.7 553.0,954.8 553.6,954.6C554.2,954.5 554.8,954.0 555.4,953.8C556.0,953.6 556.5,953.5 557.1,953.4C557.7,953.3 558.3,953.3 558.9,953.1C559.5,952.9 560.1,952.4 560.7,952.3C561.3,952.2 561.9,952.6 562.5,952.5C563.1,952.4 563.8,952.2 564.4,951.9C565.0,951.6 565.6,951.2 566.2,950.8C566.9,950.4 567.5,949.7 568.1,949.5C568.8,949.3 569.4,949.7 570.0,949.6C570.6,949.5 571.2,949.4 571.9,949.0C572.5,948.6 573.1,947.6 573.8,947.1C574.4,946.7 575.0,946.5 575.6,946.3C576.2,946.2 576.9,946.0 577.5,946.0C578.1,946.0 578.8,946.4 579.4,946.4C580.0,946.4 580.6,946.1 581.2,946.0C581.9,945.9 582.5,945.7 583.1,945.6C583.8,945.5 584.4,945.3 585.0,945.2C585.6,945.1 586.2,945.2 586.9,945.2C587.5,945.1 588.1,945.1 588.8,945.2C589.4,945.2 590.0,945.3 590.6,945.3C591.2,945.4 591.9,945.4 592.5,945.5C593.1,945.6 593.7,945.8 594.3,945.9C594.9,946.0 595.5,945.9 596.1,946.1C596.7,946.3 597.3,946.6 598.0,946.8C598.6,947.0 599.2,946.9 599.8,947.1C600.4,947.2 601.0,947.6 601.6,947.8C602.2,948.0 602.8,948.2 603.4,948.3C604.0,948.3 604.6,947.9 605.2,948.1C605.8,948.3 606.4,949.3 607.0,949.6C607.7,950.0 608.3,950.0 608.9,950.1C609.5,950.2 610.1,950.3 610.7,950.4C611.3,950.4 611.9,950.2 612.5,950.5C613.1,950.8 613.8,951.8 614.4,952.0C615.0,952.2 615.6,951.5 616.2,951.7C616.9,951.9 617.5,953.0 618.1,953.2C618.8,953.5 619.4,953.2 620.0,953.4C620.6,953.6 621.2,954.3 621.9,954.6C622.5,954.9 623.1,954.9 623.8,955.2C624.4,955.5 625.0,955.8 625.6,956.2C626.2,956.6 626.9,957.3 627.5,957.5C628.1,957.7 628.8,957.5 629.5,957.4C630.2,957.3 630.8,956.9 631.5,956.7C632.2,956.4 632.8,956.1 633.5,955.8C634.2,955.5 634.8,955.1 635.5,955.0C636.2,954.9 636.9,955.3 637.5,955.0C638.1,954.7 638.7,953.6 639.2,953.0C639.8,952.3 640.4,951.9 641.0,951.3C641.5,950.8 642.1,950.6 642.7,949.9C643.3,949.2 643.8,947.9 644.4,947.3C645.0,946.6 645.6,946.6 646.2,946.1C646.7,945.5 647.3,944.6 647.9,943.9C648.5,943.3 649.0,943.1 649.6,942.4C650.2,941.7 650.8,940.4 651.3,939.8C651.9,939.2 652.5,939.4 653.1,938.8C653.7,938.2 654.2,936.7 654.8,936.1C655.4,935.5 656.0,935.6 656.5,935.2C657.1,934.7 657.7,934.1 658.3,933.4C658.8,932.7 659.4,931.8 660.0,931.0C660.6,930.2 661.2,929.2 661.8,928.5C662.4,927.9 662.9,927.8 663.5,927.2C664.1,926.6 664.7,925.6 665.3,924.9C665.9,924.3 666.5,924.0 667.1,923.3C667.6,922.7 668.2,921.4 668.8,920.9C669.4,920.3 670.0,920.4 670.6,919.9C671.2,919.3 671.8,918.4 672.4,917.6C672.9,916.7 673.5,915.6 674.1,914.9C674.7,914.2 675.3,913.9 675.9,913.4C676.5,912.8 677.1,912.2 677.6,911.6C678.2,910.9 678.8,910.1 679.4,909.5C680.0,908.9 680.6,908.6 681.2,907.9C681.8,907.2 682.4,906.0 682.9,905.3C683.5,904.6 684.1,904.3 684.7,903.7C685.3,903.1 685.9,902.3 686.5,901.7C687.1,901.1 687.6,900.8 688.2,900.2C688.8,899.6 689.4,898.5 690.0,898.0C690.6,897.5 691.2,897.7 691.8,897.4C692.4,897.0 693.0,896.3 693.6,895.9C694.2,895.5 694.8,895.4 695.5,895.0C696.1,894.6 696.7,894.0 697.3,893.6C697.9,893.3 698.5,893.2 699.1,892.9C699.7,892.7 700.3,892.3 700.9,892.0C701.5,891.8 702.1,891.9 702.7,891.5C703.3,891.2 703.9,890.4 704.5,890.0C705.2,889.6 705.8,889.2 706.4,889.0C707.0,888.8 707.6,889.0 708.2,888.8C708.8,888.5 709.4,887.5 710.0,887.5C710.6,887.5 711.3,888.6 712.0,889.0C712.7,889.5 713.3,890.1 714.0,890.4C714.7,890.8 715.3,891.0 716.0,891.4C716.7,891.9 717.3,892.5 718.0,893.1C718.7,893.7 719.4,894.5 720.0,895.0C720.6,895.5 721.2,895.8 721.8,896.2C722.4,896.6 723.0,896.8 723.6,897.2C724.2,897.6 724.8,898.3 725.4,898.7C726.0,899.1 726.5,899.2 727.1,899.5C727.7,899.9 728.3,900.4 728.9,900.8C729.5,901.2 730.1,901.6 730.7,901.9C731.3,902.2 731.9,902.6 732.5,902.5C733.1,902.4 733.8,901.5 734.5,901.2C735.2,900.9 735.8,901.0 736.5,900.7C737.2,900.4 737.8,900.0 738.5,899.5C739.2,899.0 739.8,898.2 740.5,897.9C741.2,897.6 741.9,898.1 742.5,897.5C743.1,896.9 743.7,895.4 744.2,894.6C744.8,893.7 745.4,893.4 746.0,892.6C746.6,891.8 747.2,890.6 747.8,889.8C748.3,889.0 748.9,888.8 749.5,887.9C750.1,887.0 750.7,885.5 751.2,884.6C751.8,883.7 752.4,883.3 753.0,882.7C753.6,882.0 754.2,881.5 754.8,880.5C755.3,879.6 755.9,877.8 756.5,876.9C757.1,876.0 757.7,875.8 758.2,875.0C758.8,874.3 759.4,873.3 760.0,872.5C760.6,871.7 761.2,871.2 761.8,870.5C762.4,869.7 763.0,868.5 763.6,867.8C764.2,867.1 764.8,866.8 765.4,866.2C766.0,865.6 766.5,864.9 767.1,864.1C767.7,863.4 768.3,862.7 768.9,861.9C769.5,861.1 770.1,859.9 770.7,859.2C771.3,858.4 771.9,858.0 772.5,857.5C773.1,857.0 773.7,856.4 774.2,856.2C774.8,856.0 775.4,856.8 776.0,856.6C776.6,856.3 777.2,855.1 777.8,854.8C778.3,854.4 778.9,854.7 779.5,854.6C780.1,854.5 780.7,854.1 781.2,853.9C781.8,853.7 782.4,853.7 783.0,853.4C783.6,853.1 784.2,852.5 784.8,852.1C785.3,851.7 785.9,851.5 786.5,851.2C787.1,850.9 787.7,850.6 788.2,850.4C788.8,850.2 789.4,850.2 790.0,850.0C790.6,849.8 791.2,849.4 791.8,849.4C792.4,849.4 793.0,850.0 793.6,850.2C794.2,850.4 794.8,850.5 795.4,850.5C796.0,850.5 796.5,850.2 797.1,850.1C797.7,850.1 798.3,850.2 798.9,850.3C799.5,850.4 800.1,850.6 800.7,850.6C801.3,850.5 801.9,849.9 802.5,850.0C803.1,850.1 803.8,850.7 804.4,851.1C805.0,851.5 805.6,851.8 806.2,852.2C806.9,852.5 807.5,852.7 808.1,853.2C808.8,853.7 809.4,854.2 810.0,855.0C810.6,855.8 811.2,856.7 811.8,857.8C812.4,858.8 813.0,860.4 813.6,861.3C814.2,862.2 814.8,862.2 815.4,863.0C816.0,863.8 816.5,865.3 817.1,866.3C817.7,867.3 818.3,868.0 818.9,868.9C819.5,869.8 820.1,871.0 820.7,872.0C821.3,873.0 821.9,874.7 822.5,875.0C823.1,875.3 823.6,874.3 824.2,873.8C824.8,873.4 825.3,872.8 825.9,872.3C826.5,871.8 827.0,871.1 827.6,870.8C828.2,870.5 828.7,871.0 829.3,870.7C829.9,870.4 830.4,869.0 831.0,869.0C831.6,869.0 832.3,870.1 832.9,870.8C833.6,871.5 834.2,872.5 834.8,873.2C835.5,873.8 836.1,874.2 836.8,874.9C837.4,875.5 838.0,876.5 838.7,877.2C839.3,877.9 839.9,878.3 840.6,878.9C841.2,879.6 841.9,880.9 842.5,881.0C843.1,881.1 843.8,879.8 844.4,879.5C845.0,879.1 845.6,879.2 846.2,878.9C846.9,878.6 847.5,878.1 848.1,877.6C848.8,877.2 849.4,876.4 850.0,875.9C850.6,875.5 851.2,875.2 851.9,874.9C852.5,874.6 853.1,874.0 853.8,874.0C854.4,874.0 854.9,874.4 855.5,874.7C856.1,874.9 856.7,875.3 857.2,875.6C857.8,875.9 858.4,876.1 859.0,876.5C859.6,876.9 860.2,877.4 860.8,877.9C861.3,878.3 861.9,878.4 862.5,879.0C863.1,879.6 863.8,880.6 864.4,881.4C865.0,882.3 865.6,883.0 866.2,884.0C866.9,884.9 867.5,886.1 868.1,887.1C868.8,888.1 869.4,889.7 870.0,890.0C870.6,890.3 871.2,889.3 871.8,889.2C872.4,889.0 873.0,889.3 873.6,889.1C874.2,888.9 874.8,888.4 875.4,888.0C876.0,887.7 876.5,887.3 877.1,887.0C877.7,886.8 878.3,886.9 878.9,886.7C879.5,886.4 880.1,885.9 880.7,885.7C881.3,885.4 881.9,885.6 882.5,885.0C883.1,884.4 883.8,883.1 884.4,882.0C885.0,880.9 885.6,879.3 886.2,878.3C886.9,877.4 887.5,877.2 888.1,876.2C888.8,875.2 889.4,873.5 890.0,872.3C890.6,871.2 891.2,870.0 891.9,869.1C892.5,868.2 893.1,867.8 893.8,866.7C894.4,865.7 895.0,863.9 895.6,862.8C896.2,861.7 896.9,860.7 897.5,860.0C898.1,859.3 898.7,858.9 899.2,858.4C899.8,857.9 900.4,857.4 901.0,857.1C901.6,856.7 902.2,856.8 902.8,856.4C903.3,856.0 903.9,855.0 904.5,854.6C905.1,854.2 905.7,854.6 906.2,854.2C906.8,853.9 907.4,853.2 908.0,852.6C908.6,852.1 909.2,851.4 909.8,850.9C910.3,850.4 910.9,850.0 911.5,849.5C912.1,849.1 912.7,848.6 913.2,848.3C913.8,847.9 914.4,847.8 915.0,847.5C915.6,847.2 916.2,846.9 916.8,846.2C917.4,845.6 918.0,844.4 918.6,843.8C919.2,843.2 919.8,843.4 920.5,842.9C921.1,842.4 921.7,841.6 922.3,841.0C922.9,840.4 923.5,839.9 924.1,839.4C924.7,838.9 925.3,838.5 925.9,838.0C926.5,837.5 927.1,837.0 927.7,836.4C928.3,835.9 928.9,835.4 929.5,834.9C930.2,834.4 930.8,833.9 931.4,833.4C932.0,832.9 932.6,832.5 933.2,831.9C933.8,831.4 934.4,830.3 935.0,830.0C935.6,829.7 936.2,830.0 936.7,829.8C937.3,829.7 937.9,829.3 938.5,829.2C939.0,829.0 939.6,829.0 940.2,828.9C940.8,828.7 941.3,828.4 941.9,828.3C942.5,828.2 943.1,828.7 943.7,828.5C944.2,828.3 944.8,827.3 945.4,827.1C946.0,827.0 946.5,827.5 947.1,827.5C947.7,827.4 948.3,826.8 948.8,826.6C949.4,826.4 950.0,826.2 950.6,826.0C951.2,825.9 951.7,825.8 952.3,825.7C952.9,825.6 953.5,825.3 954.0,825.2C954.6,825.2 955.2,825.6 955.8,825.6C956.3,825.5 956.9,825.2 957.5,825.0C958.1,824.8 958.7,824.6 959.3,824.6C959.9,824.5 960.5,824.6 961.1,824.7C961.7,824.7 962.3,824.9 963.0,824.8C963.6,824.7 964.2,824.1 964.8,824.0C965.4,824.0 966.0,824.5 966.6,824.5C967.2,824.6 967.8,824.2 968.4,824.3C969.0,824.3 969.6,824.8 970.2,824.8C970.8,824.8 971.4,824.6 972.0,824.4C972.7,824.2 973.3,823.7 973.9,823.6C974.5,823.5 975.1,823.9 975.7,824.0C976.3,824.1 976.9,824.0 977.5,824.0C978.1,824.0 978.6,824.0 979.2,823.8C979.8,823.6 980.4,823.2 980.9,822.8C981.5,822.5 982.1,822.0 982.6,821.9C983.2,821.9 983.8,822.5 984.3,822.5C984.9,822.4 985.5,822.0 986.1,821.8C986.6,821.6 987.2,821.3 987.8,821.1C988.3,820.8 988.9,820.6 989.5,820.3C990.0,820.0 990.6,819.6 991.2,819.4C991.8,819.2 992.3,819.1 992.9,819.1C993.5,819.1 994.0,819.4 994.6,819.3C995.2,819.1 995.7,818.4 996.3,818.2C996.9,818.0 997.5,818.4 998.0,818.1C998.6,817.9 999.2,816.9 999.7,816.6C1000.3,816.3 1000.9,816.6 1001.4,816.4C1002.0,816.2 1002.6,815.8 1003.2,815.7C1003.7,815.6 1004.3,816.0 1004.9,816.0C1005.4,816.0 1006.0,815.8 1006.6,815.6C1007.1,815.4 1007.7,815.0 1008.3,814.8C1008.9,814.5 1009.4,814.2 1010.0,814.0C1010.6,813.8 1011.2,813.5 1011.8,813.5C1012.3,813.5 1012.9,813.9 1013.5,814.0C1014.1,814.0 1014.7,814.0 1015.2,813.7C1015.8,813.5 1016.4,812.7 1017.0,812.6C1017.6,812.5 1018.2,813.2 1018.8,813.3C1019.3,813.3 1019.9,813.1 1020.5,812.9C1021.1,812.7 1021.7,812.1 1022.2,812.1C1022.8,812.0 1023.4,812.7 1024.0,812.6C1024.6,812.6 1025.2,811.8 1025.8,811.7C1026.3,811.6 1026.9,812.0 1027.5,812.0C1028.1,812.0 1028.7,811.6 1029.2,811.5C1029.8,811.5 1030.4,811.7 1031.0,811.7C1031.6,811.7 1032.2,811.5 1032.8,811.5C1033.3,811.4 1033.9,811.3 1034.5,811.3C1035.1,811.3 1035.7,811.5 1036.2,811.4C1036.8,811.4 1037.4,811.4 1038.0,811.2C1038.6,811.0 1039.2,810.3 1039.8,810.2C1040.3,810.0 1040.9,810.2 1041.5,810.2C1042.1,810.2 1042.7,810.3 1043.2,810.3C1043.8,810.3 1044.4,810.0 1045.0,810.0C1045.6,810.0 1046.2,810.4 1046.8,810.4C1047.4,810.4 1048.0,810.0 1048.6,810.0C1049.2,810.0 1049.8,810.4 1050.4,810.5C1051.0,810.6 1051.5,810.5 1052.1,810.5C1052.7,810.5 1053.3,810.5 1053.9,810.4C1054.5,810.2 1055.1,809.7 1055.7,809.7C1056.3,809.7 1056.9,810.3 1057.5,810.3C1058.1,810.3 1058.7,809.9 1059.3,809.7C1059.9,809.6 1060.5,809.5 1061.1,809.6C1061.7,809.8 1062.3,810.4 1062.9,810.5C1063.5,810.6 1064.0,810.4 1064.6,810.4C1065.2,810.4 1065.8,810.5 1066.4,810.5C1067.0,810.4 1067.6,810.0 1068.2,809.9C1068.8,809.8 1069.4,810.0 1070.0,810.0C1070.6,810.0 1071.2,810.2 1071.8,810.2C1072.4,810.1 1073.0,810.0 1073.6,809.8C1074.2,809.6 1074.8,809.1 1075.4,809.0C1076.0,808.9 1076.5,809.1 1077.1,809.1C1077.7,809.1 1078.3,809.2 1078.9,809.0C1079.5,808.8 1080.1,808.1 1080.7,807.8C1081.3,807.6 1081.9,807.5 1082.5,807.5C1083.1,807.6 1083.7,808.3 1084.3,808.3C1084.9,808.2 1085.5,807.5 1086.1,807.3C1086.7,807.1 1087.3,806.9 1087.9,806.9C1088.5,806.9 1089.0,807.4 1089.6,807.4C1090.2,807.3 1090.8,806.9 1091.4,806.7C1092.0,806.5 1092.6,806.3 1093.2,806.2C1093.8,806.0 1094.4,806.1 1095.0,806.0C1095.6,805.9 1096.2,805.6 1096.8,805.5C1097.3,805.5 1097.9,805.6 1098.5,805.7C1099.1,805.8 1099.7,806.0 1100.2,806.0C1100.8,805.9 1101.4,805.7 1102.0,805.5C1102.6,805.4 1103.2,805.0 1103.8,805.0C1104.3,804.9 1104.9,805.0 1105.5,805.0C1106.1,805.1 1106.7,805.1 1107.2,805.1C1107.8,805.0 1108.4,804.8 1109.0,804.9C1109.6,804.9 1110.2,805.2 1110.8,805.2C1111.3,805.2 1111.9,805.2 1112.5,805.0C1113.1,804.8 1113.7,804.5 1114.2,804.2C1114.8,804.0 1115.4,803.7 1116.0,803.6C1116.6,803.6 1117.2,804.1 1117.8,804.0C1118.3,804.0 1118.9,803.6 1119.5,803.3C1120.1,803.0 1120.7,802.2 1121.2,802.2C1121.8,802.1 1122.4,802.9 1123.0,802.9C1123.6,802.9 1124.2,802.3 1124.8,802.1C1125.3,801.9 1125.9,802.0 1126.5,801.8C1127.1,801.6 1127.7,801.1 1128.2,800.9C1128.8,800.7 1129.4,800.7 1130.0,800.5C1130.6,800.3 1131.2,799.8 1131.7,799.8C1132.3,799.8 1132.9,800.4 1133.5,800.5C1134.1,800.7 1134.6,800.6 1135.2,800.6C1135.8,800.6 1136.4,800.6 1137.0,800.6C1137.5,800.6 1138.1,800.7 1138.7,800.6C1139.3,800.4 1139.9,799.7 1140.4,799.5C1141.0,799.3 1141.6,799.2 1142.2,799.3C1142.8,799.4 1143.3,800.0 1143.9,800.1C1144.5,800.1 1145.1,799.8 1145.7,799.7C1146.2,799.5 1146.8,799.3 1147.4,799.2C1148.0,799.2 1148.6,799.5 1149.1,799.4C1149.7,799.3 1150.3,798.9 1150.9,798.8C1151.4,798.7 1152.0,798.9 1152.6,798.9C1153.2,798.8 1153.8,798.4 1154.3,798.4C1154.9,798.5 1155.5,799.1 1156.1,799.2C1156.7,799.2 1157.2,799.0 1157.8,798.8C1158.4,798.7 1159.0,798.4 1159.6,798.4C1160.1,798.4 1160.7,798.9 1161.3,798.9C1161.9,799.0 1162.5,798.6 1163.0,798.6C1163.6,798.5 1164.2,798.7 1164.8,798.6C1165.4,798.5 1165.9,798.2 1166.5,798.2C1167.1,798.1 1167.7,798.2 1168.3,798.2C1168.8,798.2 1169.4,798.1 1170.0,798.0C1170.6,797.9 1171.1,797.9 1171.7,797.9C1172.3,797.9 1172.8,798.1 1173.4,798.1C1174.0,798.1 1174.5,797.7 1175.1,797.6C1175.7,797.5 1176.2,797.5 1176.8,797.5C1177.4,797.6 1178.0,798.2 1178.5,798.2C1179.1,798.2 1179.7,797.6 1180.2,797.5C1180.8,797.5 1181.4,797.7 1181.9,797.7C1182.5,797.7 1183.1,797.3 1183.6,797.3C1184.2,797.4 1184.8,798.1 1185.3,798.2C1185.9,798.3 1186.5,797.8 1187.0,797.7C1187.6,797.6 1188.1,797.0 1188.8,797.5C1189.4,798.0 1190.1,799.7 1190.8,800.8C1191.5,802.0 1192.2,803.5 1192.9,804.7C1193.6,805.8 1194.4,806.3 1195.0,807.5C1195.6,808.7 1196.2,810.4 1196.8,811.6C1197.3,812.8 1197.9,813.5 1198.5,814.7C1199.1,815.8 1199.7,817.2 1200.2,818.4C1200.8,819.7 1201.4,821.0 1202.0,822.3C1202.6,823.6 1203.1,826.8 1203.8,826.0C1204.4,825.2 1205.0,820.1 1205.6,817.4C1206.2,814.7 1206.9,811.0 1207.5,810.0C1208.1,809.0 1208.8,810.7 1209.4,811.1C1210.0,811.5 1210.6,811.9 1211.2,812.3C1211.9,812.7 1212.5,813.1 1213.1,813.5C1213.8,814.0 1214.4,815.0 1215.0,815.0C1215.6,815.0 1216.2,814.3 1216.8,813.6C1217.3,812.9 1217.9,811.4 1218.5,810.8C1219.1,810.2 1219.7,810.6 1220.2,810.1C1220.8,809.7 1221.4,808.7 1222.0,808.0C1222.6,807.3 1223.0,805.6 1223.8,806.0C1224.5,806.4 1225.4,808.9 1226.2,810.4C1227.1,811.9 1228.0,814.3 1228.8,815.0C1229.5,815.7 1230.1,814.5 1230.8,814.5C1231.5,814.4 1232.2,814.8 1232.9,814.9C1233.6,815.0 1234.3,815.3 1235.0,815.0C1235.7,814.7 1236.2,813.6 1236.8,812.9C1237.4,812.2 1238.0,811.4 1238.6,810.8C1239.2,810.1 1239.8,809.5 1240.5,809.0C1241.1,808.5 1241.7,808.4 1242.3,807.8C1242.9,807.2 1243.5,806.3 1244.1,805.7C1244.7,805.1 1245.3,804.7 1245.9,804.2C1246.5,803.7 1247.1,803.3 1247.7,802.6C1248.3,801.9 1248.9,800.6 1249.5,799.9C1250.2,799.2 1250.8,799.0 1251.4,798.6C1252.0,798.1 1252.6,797.8 1253.2,797.2C1253.8,796.6 1254.4,795.5 1255.0,795.0C1255.6,794.5 1256.2,794.5 1256.8,794.5C1257.3,794.4 1257.9,794.6 1258.5,794.7C1259.1,794.7 1259.7,794.8 1260.2,794.7C1260.8,794.7 1261.4,794.2 1262.0,794.2C1262.6,794.1 1263.2,794.7 1263.8,794.6C1264.3,794.6 1264.9,793.9 1265.5,793.8C1266.1,793.7 1266.7,794.2 1267.2,794.1C1267.8,794.1 1268.4,793.5 1269.0,793.5C1269.6,793.5 1270.2,794.0 1270.8,794.1C1271.3,794.3 1271.9,794.3 1272.5,794.3C1273.1,794.2 1273.7,793.8 1274.2,793.8C1274.8,793.7 1275.4,794.1 1276.0,794.0C1276.6,793.8 1277.2,792.9 1277.8,792.9C1278.3,792.8 1278.9,793.5 1279.5,793.5C1280.1,793.4 1280.7,792.6 1281.2,792.6C1281.8,792.6 1282.4,793.4 1283.0,793.5C1283.6,793.6 1284.2,793.1 1284.8,793.1C1285.3,793.0 1285.9,793.3 1286.5,793.2C1287.1,793.2 1287.7,793.1 1288.2,793.0C1288.8,792.8 1289.4,792.5 1290.0,792.5C1290.6,792.5 1291.1,792.7 1291.7,792.7C1292.3,792.8 1292.9,792.6 1293.4,792.6C1294.0,792.5 1294.6,792.3 1295.2,792.3C1295.7,792.4 1296.3,792.5 1296.9,792.6C1297.5,792.7 1298.0,792.7 1298.6,792.7C1299.2,792.8 1299.8,792.8 1300.3,792.8C1300.9,792.9 1301.5,793.0 1302.1,793.1C1302.6,793.2 1303.2,793.3 1303.8,793.3C1304.4,793.2 1304.9,792.9 1305.5,792.9C1306.1,792.8 1306.7,792.8 1307.2,792.8C1307.8,792.7 1308.4,792.6 1309.0,792.6C1309.5,792.6 1310.1,792.7 1310.7,792.8C1311.3,793.0 1311.8,793.5 1312.4,793.5C1313.0,793.4 1313.6,792.8 1314.1,792.7C1314.7,792.7 1315.3,793.2 1315.9,793.3C1316.4,793.4 1317.0,793.1 1317.6,793.2C1318.2,793.3 1318.7,794.0 1319.3,793.9C1319.9,793.8 1320.5,793.0 1321.0,792.8C1321.6,792.7 1322.2,792.8 1322.8,792.9C1323.3,793.0 1323.9,793.4 1324.5,793.5C1325.1,793.5 1325.6,793.2 1326.2,793.3C1326.8,793.3 1327.4,793.8 1327.9,793.8C1328.5,793.8 1329.1,793.2 1329.7,793.2C1330.2,793.1 1330.8,793.5 1331.4,793.5C1332.0,793.5 1332.5,793.2 1333.1,793.3C1333.7,793.4 1334.3,794.0 1334.8,794.0C1335.4,794.1 1336.0,793.6 1336.6,793.6C1337.1,793.6 1337.7,794.1 1338.3,794.1C1338.9,794.2 1339.4,794.0 1340.0,794.0C1340.6,794.0 1341.3,794.3 1342.0,794.2C1342.7,794.2 1343.3,793.9 1344.0,793.9C1344.7,793.9 1345.3,794.4 1346.0,794.5C1346.7,794.5 1347.3,794.2 1348.0,794.3C1348.7,794.4 1349.4,795.0 1350.0,795.0C1350.6,795.0 1351.1,794.5 1351.7,794.4C1352.3,794.3 1352.8,794.5 1353.4,794.4C1354.0,794.4 1354.5,794.0 1355.1,794.1C1355.7,794.1 1356.2,794.7 1356.8,794.8C1357.4,794.9 1357.9,794.6 1358.5,794.6C1359.1,794.6 1359.6,794.7 1360.2,794.6C1360.8,794.6 1361.3,794.4 1361.9,794.3C1362.5,794.2 1363.0,794.3 1363.6,794.2C1364.2,794.1 1364.7,793.8 1365.3,793.6C1365.9,793.4 1366.4,793.0 1367.0,792.9C1367.6,792.8 1368.1,792.9 1368.7,793.0C1369.3,793.1 1369.8,793.6 1370.4,793.5C1371.0,793.4 1371.5,792.7 1372.1,792.5C1372.7,792.4 1373.2,792.7 1373.8,792.6C1374.4,792.5 1374.9,792.1 1375.5,792.0C1376.1,791.9 1376.6,791.8 1377.2,792.0C1377.8,792.1 1378.3,792.9 1378.9,792.8C1379.5,792.6 1380.0,791.1 1380.6,790.8C1381.2,790.5 1381.7,790.6 1382.3,791.0C1382.9,791.3 1383.4,793.0 1384.0,792.9C1384.6,792.8 1385.1,790.4 1385.7,790.3C1386.3,790.2 1386.8,792.4 1387.4,792.6C1388.0,792.8 1388.5,791.8 1389.1,791.3C1389.7,790.9 1390.2,789.9 1390.8,789.8C1391.4,789.8 1391.9,790.7 1392.5,791.0C1393.1,791.3 1393.6,791.4 1394.2,791.5C1394.8,791.5 1395.4,791.6 1395.9,791.2C1396.5,790.8 1397.1,789.0 1397.7,788.9C1398.2,788.9 1398.8,791.0 1399.4,791.1C1400.0,791.3 1400.5,790.1 1401.1,789.6C1401.7,789.2 1402.3,788.6 1402.8,788.5C1403.4,788.3 1404.0,788.7 1404.6,788.7C1405.1,788.7 1405.7,788.3 1406.3,788.4C1406.9,788.6 1407.4,789.5 1408.0,789.7C1408.6,789.9 1409.2,789.9 1409.7,789.6C1410.3,789.2 1410.9,787.8 1411.5,787.6C1412.0,787.4 1412.6,788.0 1413.2,788.1C1413.8,788.2 1414.3,788.2 1414.9,788.1C1415.5,788.1 1416.1,788.1 1416.6,787.8C1417.2,787.5 1417.8,786.5 1418.4,786.4C1418.9,786.4 1419.5,787.8 1420.1,787.8C1420.7,787.7 1421.2,786.4 1421.8,786.1C1422.4,785.8 1423.0,785.8 1423.5,785.9C1424.1,786.0 1424.7,786.5 1425.3,786.4C1425.8,786.4 1426.4,786.0 1427.0,785.8C1427.6,785.5 1428.1,784.7 1428.7,784.8C1429.3,784.9 1429.9,786.3 1430.4,786.6C1431.0,786.8 1431.6,786.2 1432.2,786.2C1432.7,786.2 1433.3,786.7 1433.9,786.5C1434.5,786.3 1435.0,785.7 1435.6,785.2C1436.2,784.8 1436.8,783.9 1437.3,783.6C1437.9,783.2 1438.5,783.1 1439.1,783.2C1439.6,783.3 1440.2,784.0 1440.8,784.2C1441.4,784.3 1441.9,784.2 1442.5,784.0C1443.1,783.8 1443.6,782.8 1444.2,782.9C1444.8,783.0 1445.4,784.5 1445.9,784.6C1446.5,784.8 1447.1,784.1 1447.7,783.7C1448.2,783.3 1448.8,782.2 1449.4,782.1C1450.0,782.1 1450.5,783.4 1451.1,783.3C1451.7,783.2 1452.3,781.7 1452.8,781.5C1453.4,781.3 1454.0,782.2 1454.6,782.2C1455.1,782.1 1455.7,781.3 1456.3,781.1C1456.9,780.9 1457.4,780.7 1458.0,780.7C1458.6,780.6 1459.2,780.6 1459.7,780.9C1460.3,781.3 1460.9,782.6 1461.5,782.6C1462.0,782.6 1462.6,781.3 1463.2,780.9C1463.8,780.5 1464.3,780.1 1464.9,780.2C1465.5,780.3 1466.1,781.7 1466.6,781.5C1467.2,781.4 1467.8,779.7 1468.4,779.4C1468.9,779.2 1469.5,780.0 1470.1,780.0C1470.7,780.0 1471.2,779.5 1471.8,779.5C1472.4,779.6 1473.0,780.3 1473.5,780.3C1474.1,780.4 1474.7,780.2 1475.3,779.9C1475.8,779.7 1476.4,778.9 1477.0,778.7C1477.6,778.5 1478.1,778.9 1478.7,778.8C1479.3,778.6 1479.9,777.7 1480.4,777.9C1481.0,778.0 1481.6,779.3 1482.2,779.4C1482.7,779.5 1483.3,778.3 1483.9,778.3C1484.5,778.2 1485.0,779.4 1485.6,779.3C1486.2,779.3 1486.8,778.3 1487.3,777.9C1487.9,777.5 1488.5,777.0 1489.1,777.1C1489.6,777.3 1490.2,778.5 1490.8,778.5C1491.4,778.6 1491.9,777.5 1492.5,777.5C1493.1,777.5 1493.6,778.3 1494.2,778.4C1494.8,778.5 1495.3,778.1 1495.9,778.0C1496.5,777.8 1497.0,777.8 1497.6,777.7C1498.2,777.7 1498.8,777.3 1499.3,777.4C1499.9,777.5 1500.5,778.4 1501.0,778.3C1501.6,778.2 1502.2,777.2 1502.7,776.9C1503.3,776.6 1503.9,776.5 1504.4,776.5C1505.0,776.4 1505.6,776.2 1506.1,776.5C1506.7,776.7 1507.3,777.8 1507.8,778.1C1508.4,778.3 1509.0,778.1 1509.5,778.0C1510.1,778.0 1510.7,778.3 1511.2,778.0C1511.8,777.7 1512.4,776.3 1513.0,776.0C1513.5,775.8 1514.1,776.4 1514.7,776.7C1515.2,777.0 1515.8,777.9 1516.4,777.9C1516.9,777.9 1517.5,777.3 1518.1,776.9C1518.6,776.5 1519.2,775.5 1519.8,775.4C1520.3,775.2 1520.9,775.9 1521.5,776.1C1522.0,776.3 1522.6,776.4 1523.2,776.6C1523.8,776.8 1524.3,777.4 1524.9,777.2C1525.5,777.0 1526.0,775.5 1526.6,775.2C1527.2,774.9 1527.7,775.3 1528.3,775.4C1528.9,775.5 1529.4,775.7 1530.0,776.0C1530.6,776.3 1531.2,777.6 1531.8,777.4C1532.4,777.3 1532.9,775.2 1533.5,775.0C1534.1,774.7 1534.7,775.5 1535.3,775.9C1535.9,776.3 1536.5,777.3 1537.1,777.4C1537.6,777.6 1538.2,776.7 1538.8,776.6C1539.4,776.5 1540.0,776.8 1540.6,776.8C1541.2,776.7 1541.8,776.5 1542.4,776.4C1542.9,776.3 1543.5,776.0 1544.1,776.2C1544.7,776.4 1545.3,777.4 1545.9,777.6C1546.5,777.8 1547.1,777.3 1547.6,777.5C1548.2,777.6 1548.8,778.4 1549.4,778.3C1550.0,778.2 1550.6,776.7 1551.2,776.7C1551.8,776.7 1552.4,778.0 1552.9,778.2C1553.5,778.4 1554.1,778.0 1554.7,778.0C1555.3,777.9 1555.9,777.6 1556.5,777.8C1557.1,778.0 1557.6,779.0 1558.2,779.2C1558.8,779.4 1559.4,779.1 1560.0,779.0C1560.6,778.9 1561.2,778.5 1561.8,778.6C1562.4,778.7 1563.0,779.4 1563.6,779.6C1564.2,779.9 1564.8,779.9 1565.5,780.0C1566.1,780.1 1566.7,780.2 1567.3,780.3C1567.9,780.4 1568.5,780.4 1569.1,780.6C1569.7,780.7 1570.3,781.3 1570.9,781.4C1571.5,781.4 1572.1,780.9 1572.7,781.0C1573.3,781.1 1573.9,781.7 1574.5,781.9C1575.2,782.1 1575.8,782.2 1576.4,782.2C1577.0,782.3 1577.6,782.0 1578.2,782.3C1578.8,782.6 1579.4,783.3 1580.0,784.0C1580.6,784.7 1581.2,785.8 1581.9,786.2C1582.5,786.7 1583.1,786.5 1583.8,786.7C1584.4,787.0 1585.0,787.4 1585.6,787.7C1586.2,788.0 1586.9,788.3 1587.5,788.6C1588.1,789.0 1588.8,789.7 1589.4,789.8C1590.0,790.0 1590.6,789.3 1591.2,789.7C1591.9,790.2 1592.5,792.0 1593.1,792.5C1593.8,792.9 1594.4,792.3 1595.0,792.5C1595.6,792.7 1596.2,793.4 1596.8,793.8C1597.4,794.1 1598.0,794.2 1598.6,794.7C1599.2,795.2 1599.8,796.2 1600.4,796.9C1601.0,797.6 1601.5,798.4 1602.1,799.0C1602.7,799.6 1603.3,800.0 1603.9,800.5C1604.5,801.1 1605.1,802.1 1605.7,802.4C1606.3,802.7 1606.9,801.8 1607.5,802.5C1608.1,803.2 1608.8,805.8 1609.5,806.7C1610.2,807.6 1610.8,807.2 1611.5,807.8C1612.2,808.4 1612.8,809.4 1613.5,810.4C1614.2,811.3 1614.8,812.5 1615.5,813.7C1616.2,814.9 1616.9,816.8 1617.5,817.5C1618.1,818.2 1618.8,817.8 1619.4,817.8C1620.0,817.9 1620.6,817.4 1621.2,817.8C1621.9,818.3 1622.5,820.0 1623.1,820.4C1623.8,820.7 1624.3,818.7 1625.0,820.0C1625.7,821.3 1626.7,825.6 1627.5,828.1C1628.3,830.6 1629.2,832.6 1630.0,835.0C1630.8,837.4 1631.7,839.9 1632.5,842.4C1633.3,844.9 1634.2,846.3 1635.0,850.0C1635.8,853.7 1636.7,859.8 1637.5,864.8C1638.3,869.8 1639.2,875.3 1640.0,880.0C1640.8,884.7 1641.7,888.6 1642.5,892.8C1643.3,897.0 1644.3,901.6 1645.0,905.0C1645.7,908.4 1646.2,910.6 1646.9,913.3C1647.5,916.0 1648.1,918.4 1648.8,921.1C1649.4,923.8 1650.0,926.7 1650.6,929.4C1651.2,932.1 1651.8,935.9 1652.5,937.5C1653.2,939.1 1654.2,938.5 1655.0,939.1C1655.8,939.7 1656.8,941.1 1657.5,941.0C1658.2,940.9 1658.8,939.5 1659.4,938.6C1660.0,937.6 1660.6,936.4 1661.2,935.6C1661.9,934.7 1662.5,934.2 1663.1,933.2C1663.8,932.3 1664.3,931.0 1665.0,930.0C1665.7,929.0 1666.7,928.4 1667.5,927.4C1668.3,926.4 1669.3,924.4 1670.0,924.0C1670.7,923.6 1671.2,925.1 1671.9,925.3C1672.5,925.5 1673.1,925.0 1673.8,925.3C1674.4,925.6 1675.0,926.6 1675.6,926.9C1676.2,927.3 1676.9,929.0 1677.5,927.5C1678.1,926.0 1678.8,921.1 1679.4,918.0C1680.0,914.9 1680.6,911.9 1681.2,908.7C1681.9,905.5 1682.5,902.0 1683.1,898.8C1683.8,895.7 1684.3,894.1 1685.0,890.0C1685.7,885.9 1686.7,879.5 1687.5,874.1C1688.3,868.7 1689.2,860.5 1690.0,857.5C1690.8,854.5 1691.7,856.7 1692.5,856.2C1693.3,855.6 1694.3,853.4 1695.0,854.0C1695.7,854.6 1696.2,857.8 1696.9,859.5C1697.5,861.2 1698.1,862.5 1698.8,864.2C1699.4,865.9 1700.0,867.9 1700.6,869.7C1701.2,871.5 1701.9,872.7 1702.5,875.0C1703.1,877.3 1703.8,880.3 1704.4,883.2C1705.0,886.2 1705.6,889.9 1706.2,892.9C1706.9,896.0 1707.5,898.7 1708.1,901.5C1708.8,904.3 1709.4,907.9 1710.0,910.0C1710.6,912.1 1711.2,913.0 1711.9,914.2C1712.5,915.4 1713.1,916.2 1713.8,917.5C1714.4,918.7 1715.0,920.6 1715.6,921.8C1716.2,923.1 1716.9,923.4 1717.5,925.0C1718.1,926.6 1718.7,929.6 1719.2,931.7C1719.8,933.8 1720.4,937.3 1721.0,937.5C1721.6,937.7 1722.3,934.8 1723.0,933.1C1723.7,931.4 1724.4,929.1 1725.0,927.5C1725.6,925.9 1726.2,924.8 1726.9,923.5C1727.5,922.2 1728.1,921.0 1728.8,919.7C1729.4,918.4 1730.0,917.1 1730.6,915.9C1731.2,914.7 1731.9,914.7 1732.5,912.5C1733.1,910.3 1733.8,905.6 1734.4,902.5C1735.0,899.5 1735.6,897.4 1736.2,894.3C1736.9,891.2 1737.5,887.3 1738.1,884.1C1738.8,880.8 1739.4,877.3 1740.0,875.0C1740.6,872.7 1741.3,871.6 1742.0,870.1C1742.7,868.7 1743.3,867.5 1744.0,866.1C1744.7,864.7 1745.3,863.2 1746.0,862.0C1746.7,860.7 1747.3,860.0 1748.0,858.5C1748.7,856.9 1749.2,855.1 1750.0,852.5C1750.8,849.9 1751.7,845.6 1752.5,842.6C1753.3,839.7 1754.3,836.7 1755.0,835.0C1755.7,833.3 1756.2,832.8 1756.8,832.2C1757.4,831.7 1758.0,831.9 1758.6,831.7C1759.2,831.5 1759.8,831.5 1760.4,831.1C1761.0,830.7 1761.5,830.0 1762.1,829.1C1762.7,828.1 1763.3,826.6 1763.9,825.6C1764.5,824.6 1765.1,823.8 1765.7,823.3C1766.3,822.8 1766.9,822.4 1767.5,822.5C1768.1,822.6 1768.8,823.2 1769.5,823.9C1770.2,824.6 1770.8,825.9 1771.5,826.5C1772.2,827.2 1772.8,827.5 1773.5,827.8C1774.2,828.1 1774.8,827.9 1775.5,828.3C1776.2,828.6 1776.9,829.1 1777.5,830.0C1778.1,830.9 1778.8,831.9 1779.4,833.6C1780.0,835.3 1780.6,838.5 1781.2,840.3C1781.9,842.0 1782.5,843.0 1783.1,844.2C1783.8,845.4 1784.4,846.6 1785.0,847.5C1785.6,848.4 1786.3,848.8 1787.0,849.3C1787.7,849.7 1788.3,850.2 1789.0,850.2C1789.7,850.3 1790.3,849.3 1791.0,849.6C1791.7,849.9 1792.3,851.7 1793.0,852.2C1793.7,852.6 1794.4,852.1 1795.0,852.5C1795.6,852.9 1796.2,853.6 1796.9,854.3C1797.5,855.0 1798.1,855.7 1798.8,856.6C1799.4,857.5 1800.0,858.8 1800.6,859.8C1801.2,860.8 1801.9,861.9 1802.5,862.5C1803.1,863.1 1803.8,863.4 1804.4,863.7C1805.0,864.0 1805.6,864.2 1806.2,864.3C1806.9,864.5 1807.5,864.3 1808.1,864.6C1808.8,864.9 1809.4,866.3 1810.0,866.0C1810.6,865.7 1811.3,863.7 1812.0,862.5C1812.7,861.4 1813.3,860.0 1814.0,859.1C1814.7,858.1 1815.3,857.7 1816.0,856.7C1816.7,855.8 1817.3,854.4 1818.0,853.3C1818.7,852.2 1819.4,850.2 1820.0,850.0C1820.6,849.8 1821.2,851.6 1821.8,852.2C1822.3,852.8 1822.9,853.0 1823.5,853.6C1824.1,854.3 1824.7,855.4 1825.2,856.2C1825.8,857.0 1826.4,857.8 1827.0,858.4C1827.6,859.1 1828.1,857.5 1828.8,860.0C1829.4,862.5 1830.1,868.9 1830.8,873.6C1831.5,878.3 1832.2,883.3 1832.9,888.1C1833.6,893.0 1834.2,900.4 1835.0,902.5C1835.8,904.6 1836.7,901.2 1837.5,900.8C1838.3,900.4 1839.3,902.0 1840.0,900.0C1840.7,898.0 1841.2,892.3 1841.9,888.6C1842.5,884.9 1843.1,881.8 1843.8,878.1C1844.4,874.4 1845.0,870.3 1845.6,866.4C1846.2,862.6 1846.9,858.7 1847.5,855.0C1848.1,851.3 1848.8,847.5 1849.4,844.0C1850.0,840.6 1850.6,837.7 1851.2,834.1C1851.9,830.6 1852.5,826.5 1853.1,822.8C1853.8,819.2 1854.3,814.0 1855.0,812.5C1855.7,811.0 1856.7,813.4 1857.5,813.8C1858.3,814.2 1859.3,812.9 1860.0,815.0C1860.7,817.1 1861.2,822.8 1861.9,826.4C1862.5,830.1 1863.1,833.4 1863.8,837.1C1864.4,840.7 1865.0,844.5 1865.6,848.4C1866.2,852.2 1866.9,857.7 1867.5,860.0C1868.1,862.3 1868.8,861.3 1869.4,862.1C1870.0,862.8 1870.6,863.5 1871.2,864.3C1871.9,865.1 1872.5,865.9 1873.1,866.7C1873.8,867.5 1874.4,869.3 1875.0,869.0C1875.6,868.7 1876.2,866.2 1876.9,865.0C1877.5,863.8 1878.1,862.7 1878.8,861.6C1879.4,860.4 1880.0,859.1 1880.6,858.1C1881.2,857.0 1881.9,856.7 1882.5,855.0C1883.1,853.3 1883.7,850.2 1884.3,847.7C1884.9,845.2 1885.6,842.6 1886.2,840.0C1886.8,837.4 1887.4,834.8 1888.0,832.0C1888.6,829.2 1889.3,826.0 1890.0,823.2C1890.7,820.4 1891.3,817.9 1892.0,815.1C1892.7,812.4 1893.3,809.6 1894.0,806.6C1894.7,803.7 1895.3,799.4 1896.0,797.5C1896.7,795.6 1897.3,796.0 1898.0,795.0C1898.7,794.1 1899.3,792.8 1900.0,791.8C1900.7,790.8 1901.4,788.7 1902.0,789.0C1902.6,789.3 1903.2,792.3 1903.8,793.8C1904.4,795.3 1905.0,796.6 1905.6,798.0C1906.2,799.4 1906.8,800.6 1907.4,802.0C1908.0,803.4 1908.6,805.0 1909.2,806.4C1909.8,807.7 1910.3,809.9 1911.0,810.0C1911.7,810.1 1912.7,807.8 1913.5,806.8C1914.3,805.8 1915.3,805.2 1916.0,804.0C1916.7,802.8 1917.1,801.2 1917.7,799.7C1918.3,798.2 1918.8,796.4 1919.4,794.9C1920.0,793.5 1920.5,792.4 1921.1,791.1C1921.7,789.8 1922.2,788.6 1922.8,787.2C1923.4,785.7 1923.9,783.3 1924.5,782.5C1925.1,781.7 1925.7,782.7 1926.2,782.6C1926.8,782.6 1927.4,782.2 1928.0,782.2C1928.6,782.1 1929.2,782.6 1929.8,782.4C1930.3,782.3 1930.9,781.8 1931.5,781.5C1932.1,781.3 1932.7,781.2 1933.2,781.2C1933.8,781.1 1934.4,781.1 1935.0,781.1C1935.6,781.2 1936.2,781.5 1936.8,781.5C1937.3,781.5 1937.9,779.6 1938.5,781.0C1939.1,782.4 1939.8,787.0 1940.4,789.8C1941.0,792.5 1941.6,795.0 1942.2,797.7C1942.9,800.4 1943.5,803.4 1944.1,806.1C1944.8,808.8 1945.4,813.4 1946.0,814.0C1946.6,814.6 1947.2,811.3 1947.8,809.8C1948.4,808.4 1949.0,806.9 1949.6,805.3C1950.2,803.7 1950.8,802.0 1951.4,800.2C1952.0,798.5 1952.6,796.5 1953.2,795.0C1953.8,793.5 1954.4,790.7 1955.0,791.0C1955.6,791.3 1956.1,794.9 1956.7,796.9C1957.3,799.0 1957.8,801.4 1958.4,803.2C1959.0,805.0 1959.5,806.1 1960.1,808.0C1960.7,809.8 1961.2,812.1 1961.8,814.1C1962.4,816.2 1962.9,816.5 1963.5,820.0C1964.1,823.5 1964.8,830.2 1965.4,835.4C1966.0,840.6 1966.6,845.9 1967.2,851.1C1967.9,856.3 1968.5,861.4 1969.1,866.6C1969.8,871.8 1970.4,878.5 1971.0,882.5C1971.6,886.5 1972.3,888.1 1973.0,890.6C1973.7,893.1 1974.3,894.9 1975.0,897.3C1975.7,899.7 1976.3,905.2 1977.0,905.0C1977.7,904.8 1978.3,899.2 1979.0,896.2C1979.7,893.2 1980.3,889.9 1981.0,886.9C1981.7,883.9 1982.3,880.9 1983.0,878.0C1983.7,875.2 1984.3,872.5 1985.0,869.7C1985.7,866.9 1986.4,861.3 1987.0,861.0C1987.6,860.7 1988.2,865.8 1988.8,868.2C1989.4,870.5 1990.0,872.8 1990.6,875.1C1991.2,877.4 1991.8,879.8 1992.4,881.9C1993.0,884.0 1993.6,885.4 1994.2,887.6C1994.8,889.8 1995.4,893.1 1996.0,895.0C1996.6,896.9 1997.2,897.9 1997.9,899.2C1998.5,900.5 1999.1,901.7 1999.8,902.9C2000.4,904.0 2001.0,905.1 2001.6,906.3C2002.2,907.5 2002.9,909.8 2003.5,910.0C2004.1,910.2 2004.8,908.4 2005.5,907.6C2006.2,906.8 2006.8,905.8 2007.5,905.2C2008.2,904.5 2008.8,904.6 2009.5,903.9C2010.2,903.2 2010.8,901.9 2011.5,901.1C2012.2,900.3 2012.8,898.3 2013.5,899.0C2014.2,899.7 2014.8,903.3 2015.5,905.5C2016.2,907.8 2016.8,910.1 2017.5,912.4C2018.2,914.8 2018.8,917.4 2019.5,919.7C2020.2,921.9 2020.8,923.6 2021.5,925.7C2022.2,927.9 2022.8,930.5 2023.5,932.5C2024.2,934.5 2024.9,936.0 2025.7,937.5C2026.4,939.0 2027.1,940.1 2027.8,941.5C2028.6,942.9 2029.4,945.9 2030.0,946.0C2030.6,946.1 2031.1,943.1 2031.7,941.8C2032.3,940.5 2032.8,939.2 2033.4,938.0C2034.0,936.8 2034.5,935.7 2035.1,934.6C2035.7,933.5 2036.2,932.6 2036.8,931.4C2037.4,930.2 2037.9,928.8 2038.5,927.5C2039.1,926.2 2039.6,924.8 2040.2,923.5C2040.8,922.3 2041.3,921.2 2041.9,920.0C2042.5,918.8 2043.0,917.6 2043.6,916.4C2044.2,915.2 2044.7,914.0 2045.3,913.0C2045.9,911.9 2046.4,909.8 2047.0,910.0C2047.6,910.2 2048.2,912.8 2048.9,914.1C2049.5,915.5 2050.1,916.7 2050.7,918.2C2051.3,919.6 2052.0,921.6 2052.6,923.0C2053.2,924.5 2053.8,925.5 2054.4,926.8C2055.0,928.2 2055.7,929.6 2056.3,931.0C2056.9,932.4 2057.5,934.0 2058.1,935.4C2058.8,936.7 2059.4,938.7 2060.0,939.0C2060.6,939.3 2061.1,937.6 2061.7,937.1C2062.3,936.5 2062.9,936.2 2063.4,935.8C2064.0,935.4 2064.6,934.9 2065.1,934.6C2065.7,934.2 2066.3,933.9 2066.9,933.5C2067.4,933.1 2068.0,932.8 2068.6,932.2C2069.1,931.7 2069.7,930.8 2070.3,930.3C2070.9,929.7 2071.4,930.4 2072.0,929.0C2072.6,927.6 2073.2,924.2 2073.8,921.8C2074.4,919.4 2075.0,917.1 2075.6,914.7C2076.2,912.2 2076.8,909.6 2077.4,907.1C2078.0,904.7 2078.6,902.4 2079.2,899.9C2079.8,897.5 2080.4,895.0 2081.0,892.5C2081.6,890.0 2082.2,887.4 2082.9,884.8C2083.5,882.1 2084.1,879.4 2084.8,876.6C2085.4,873.8 2086.0,870.7 2086.6,868.0C2087.2,865.2 2087.8,861.4 2088.5,860.0C2089.2,858.6 2090.2,859.6 2091.0,859.4C2091.8,859.3 2092.8,860.1 2093.5,859.0C2094.2,857.9 2094.8,854.7 2095.4,852.6C2096.0,850.5 2096.6,848.5 2097.2,846.6C2097.9,844.7 2098.5,842.8 2099.1,840.9C2099.8,839.0 2100.4,834.4 2101.0,835.0C2101.6,835.6 2102.3,841.5 2103.0,844.7C2103.7,847.8 2104.3,850.8 2105.0,854.0C2105.7,857.2 2106.3,863.7 2107.0,864.0C2107.7,864.3 2108.4,858.7 2109.2,856.0C2109.9,853.3 2110.6,850.6 2111.3,848.0C2112.1,845.3 2112.8,842.9 2113.5,840.0C2114.2,837.1 2114.8,833.6 2115.4,830.7C2116.0,827.8 2116.6,825.5 2117.2,822.8C2117.9,820.1 2118.5,817.3 2119.1,814.3C2119.8,811.4 2120.4,806.7 2121.0,805.0C2121.6,803.3 2122.2,804.3 2122.8,804.4C2123.4,804.4 2124.0,805.2 2124.6,805.3C2125.2,805.4 2125.8,805.0 2126.4,804.9C2127.0,804.7 2127.5,804.6 2128.1,804.4C2128.7,804.2 2129.3,803.8 2129.9,803.7C2130.5,803.6 2131.1,803.5 2131.7,803.6C2132.3,803.6 2132.9,803.3 2133.5,804.0C2134.1,804.7 2134.8,806.4 2135.5,807.5C2136.2,808.7 2136.8,809.7 2137.5,810.8C2138.2,811.8 2138.8,812.9 2139.5,813.8C2140.2,814.7 2140.8,815.3 2141.5,816.3C2142.2,817.3 2142.9,820.2 2143.5,820.0C2144.1,819.8 2144.8,816.8 2145.4,815.2C2146.0,813.6 2146.6,812.0 2147.2,810.4C2147.9,808.7 2148.5,807.0 2149.1,805.3C2149.8,803.5 2150.4,801.6 2151.0,800.0C2151.6,798.4 2152.3,797.0 2153.0,795.6C2153.7,794.1 2154.3,792.5 2155.0,791.2C2155.7,789.9 2156.3,789.1 2157.0,787.9C2157.7,786.6 2158.3,785.2 2159.0,783.7C2159.7,782.3 2160.4,779.8 2161.0,779.0C2161.6,778.2 2162.2,779.0 2162.8,779.0C2163.4,779.1 2164.0,779.0 2164.6,779.0C2165.2,779.1 2165.8,779.5 2166.5,779.6C2167.1,779.6 2167.7,779.7 2168.3,779.6C2168.9,779.4 2169.5,778.7 2170.1,778.7C2170.7,778.6 2171.3,779.4 2171.9,779.5C2172.5,779.6 2173.1,779.3 2173.7,779.3C2174.3,779.2 2174.9,779.0 2175.5,779.0C2176.2,779.0 2176.8,779.4 2177.4,779.4C2178.0,779.4 2178.6,778.9 2179.2,778.8C2179.8,778.7 2180.4,779.0 2181.0,779.0C2181.6,779.0 2182.2,778.7 2182.8,778.7C2183.4,778.6 2184.0,778.8 2184.6,778.7C2185.2,778.5 2185.8,778.0 2186.5,777.7C2187.1,777.5 2187.7,777.3 2188.3,777.1C2188.9,776.8 2189.5,776.5 2190.1,776.4C2190.7,776.4 2191.3,776.8 2191.9,776.8C2192.5,776.7 2193.1,776.4 2193.7,776.1C2194.3,775.8 2194.9,775.4 2195.5,775.2C2196.2,775.1 2196.8,775.4 2197.4,775.2C2198.0,775.0 2198.6,774.3 2199.2,774.1C2199.8,773.9 2200.4,773.9 2201.0,774.0C2201.6,774.1 2202.2,774.2 2202.8,774.5C2203.3,774.8 2203.9,775.6 2204.5,775.9C2205.1,776.3 2205.7,776.3 2206.2,776.4C2206.8,776.6 2207.4,776.7 2208.0,777.0C2208.6,777.4 2209.2,778.4 2209.8,778.7C2210.3,779.1 2210.9,778.9 2211.5,779.1C2212.1,779.4 2212.7,780.0 2213.2,780.1C2213.8,780.3 2214.4,780.3 2215.0,780.2C2215.6,780.2 2216.2,779.5 2216.8,779.8C2217.3,780.2 2217.9,781.5 2218.5,782.5C2219.1,783.5 2219.8,784.2 2220.4,785.6C2221.0,786.9 2221.6,789.4 2222.2,790.6C2222.9,791.8 2223.5,792.2 2224.1,792.9C2224.8,793.6 2225.4,794.0 2226.0,794.9C2226.6,795.8 2227.2,796.7 2227.9,798.3C2228.5,800.0 2229.1,803.8 2229.8,804.9C2230.4,806.0 2231.0,804.2 2231.6,805.1C2232.2,805.9 2232.9,809.1 2233.5,810.0C2234.1,810.9 2234.7,810.5 2235.2,810.5C2235.8,810.5 2236.4,810.1 2237.0,809.9C2237.5,809.8 2238.1,810.2 2238.7,809.7C2239.3,809.2 2239.8,807.6 2240.4,807.1C2241.0,806.7 2241.6,807.0 2242.2,807.0C2242.7,806.9 2243.3,806.8 2243.9,806.9C2244.5,807.0 2245.0,807.4 2245.6,807.7C2246.2,808.0 2246.8,808.5 2247.3,808.7C2247.9,808.9 2248.5,808.9 2249.1,808.9C2249.7,809.0 2250.2,809.7 2250.8,809.1C2251.4,808.4 2252.0,805.8 2252.5,805.1C2253.1,804.4 2253.7,804.6 2254.3,804.7C2254.8,804.9 2255.4,805.3 2256.0,806.0C2256.6,806.7 2257.2,808.6 2257.8,809.1C2258.4,809.5 2259.0,808.8 2259.6,808.7C2260.2,808.6 2260.8,807.7 2261.4,808.4C2262.0,809.0 2262.5,811.7 2263.1,812.6C2263.7,813.4 2264.3,813.1 2264.9,813.4C2265.5,813.7 2266.1,814.2 2266.7,814.3C2267.3,814.4 2267.9,814.4 2268.5,814.0C2269.1,813.6 2269.7,813.0 2270.3,811.9C2270.9,810.8 2271.5,808.5 2272.1,807.4C2272.7,806.2 2273.3,805.7 2273.9,804.9C2274.5,804.2 2275.0,803.3 2275.6,803.0C2276.2,802.7 2276.8,803.6 2277.4,803.1C2278.0,802.6 2278.6,800.9 2279.2,800.0C2279.8,799.1 2280.4,798.1 2281.0,797.5C2281.6,796.9 2282.2,796.9 2282.8,796.5C2283.4,796.2 2284.0,794.9 2284.6,795.4C2285.2,795.9 2285.8,799.0 2286.5,799.6C2287.1,800.2 2287.7,799.4 2288.3,799.2C2288.9,798.9 2289.5,798.2 2290.1,798.2C2290.7,798.3 2291.3,799.9 2291.9,799.7C2292.5,799.5 2293.1,797.2 2293.7,797.0C2294.3,796.8 2294.9,798.5 2295.5,798.5C2296.2,798.6 2296.8,797.8 2297.4,797.5C2298.0,797.2 2298.6,796.8 2299.2,796.8C2299.8,796.8 2300.4,796.8 2301.0,797.5C2301.6,798.2 2302.2,799.5 2302.9,801.3C2303.5,803.1 2304.1,806.3 2304.8,808.4C2305.4,810.4 2306.0,811.5 2306.6,813.5C2307.2,815.4 2307.9,818.4 2308.5,820.0C2309.1,821.6 2309.7,822.6 2310.2,823.0C2310.8,823.3 2311.4,821.9 2312.0,822.2C2312.6,822.6 2313.2,824.4 2313.8,825.1C2314.3,825.8 2314.9,826.1 2315.5,826.4C2316.1,826.8 2316.7,827.0 2317.2,827.2C2317.8,827.4 2318.4,827.1 2319.0,827.7C2319.6,828.4 2320.2,830.6 2320.8,830.9C2321.3,831.3 2321.9,829.5 2322.5,829.7C2323.1,829.9 2323.7,831.4 2324.2,832.2C2324.8,832.9 2325.4,833.7 2326.0,834.0C2326.6,834.3 2327.2,834.8 2327.8,834.2C2328.4,833.6 2329.0,830.9 2329.6,830.4C2330.2,829.9 2330.8,831.3 2331.4,831.2C2332.0,831.0 2332.5,829.5 2333.1,829.5C2333.7,829.5 2334.3,831.2 2334.9,831.1C2335.5,831.0 2336.1,829.1 2336.7,828.8C2337.3,828.4 2337.9,828.9 2338.5,829.0C2339.1,829.1 2339.7,828.9 2340.3,829.3C2340.9,829.6 2341.5,830.8 2342.1,831.1C2342.7,831.3 2343.3,830.8 2343.9,830.8C2344.5,830.9 2345.0,830.7 2345.6,831.4C2346.2,832.0 2346.8,834.1 2347.4,834.7C2348.0,835.3 2348.6,835.2 2349.2,835.2C2349.8,835.3 2350.4,835.5 2351.0,835.0C2351.6,834.5 2352.2,832.9 2352.9,832.2C2353.5,831.5 2354.1,831.3 2354.8,830.7C2355.4,830.2 2356.0,830.2 2356.6,829.1C2357.2,827.9 2357.9,825.0 2358.5,824.1C2359.1,823.1 2359.8,823.6 2360.4,823.5C2361.0,823.5 2361.6,824.2 2362.2,823.8C2362.9,823.3 2363.5,821.9 2364.1,820.8C2364.8,819.8 2365.3,818.6 2366.0,817.5C2366.7,816.4 2367.7,815.7 2368.5,814.4C2369.3,813.2 2370.3,810.3 2371.0,810.0C2371.7,809.7 2372.2,811.7 2372.9,812.5C2373.5,813.4 2374.1,813.6 2374.8,814.9C2375.4,816.3 2376.0,819.3 2376.6,820.5C2377.2,821.8 2377.9,823.4 2378.5,822.5C2379.1,821.6 2379.8,817.4 2380.4,814.9C2381.0,812.4 2381.6,810.4 2382.2,807.6C2382.9,804.7 2383.5,800.7 2384.1,797.8C2384.8,794.8 2385.3,791.4 2386.0,790.0C2386.7,788.6 2387.7,789.1 2388.5,789.1C2389.3,789.1 2390.6,789.9 2391.0,790.0"/><path d="M166.0,973.8C166.3,974.0 167.2,975.2 167.8,975.4C168.4,975.5 168.9,974.8 169.5,974.4C170.1,974.0 170.7,972.7 171.3,972.8C171.9,972.9 172.5,975.0 173.1,974.9C173.7,974.9 174.2,972.9 174.8,972.6C175.4,972.3 176.0,972.5 176.6,973.2C177.2,973.8 177.8,976.2 178.4,976.5C179.0,976.7 179.5,975.3 180.1,974.7C180.7,974.2 181.3,973.2 181.9,973.2C182.5,973.2 183.1,974.4 183.7,974.8C184.3,975.2 184.8,975.7 185.4,975.7C186.0,975.7 186.6,974.7 187.2,974.7C187.8,974.8 188.4,976.3 189.0,976.2C189.6,976.2 190.1,974.3 190.7,974.3C191.3,974.3 191.9,975.8 192.5,976.0C193.1,976.2 193.7,975.7 194.3,975.5C194.9,975.4 195.4,975.0 196.0,975.0C196.6,975.0 197.2,975.8 197.8,975.6C198.4,975.5 199.0,974.3 199.6,974.1C200.1,973.9 200.7,974.3 201.3,974.4C201.9,974.5 202.5,974.5 203.1,974.6C203.7,974.6 204.3,974.8 204.9,974.5C205.4,974.2 206.0,973.0 206.6,973.0C207.2,973.0 207.8,974.7 208.4,974.5C209.0,974.2 209.6,971.7 210.1,971.5C210.7,971.2 211.3,973.1 211.9,972.9C212.5,972.8 213.1,970.2 213.7,970.5C214.3,970.7 214.9,974.3 215.4,974.4C216.0,974.4 216.6,971.5 217.2,970.9C217.8,970.4 218.4,971.6 219.0,971.3C219.6,971.0 220.1,969.2 220.7,969.1C221.3,969.1 221.9,971.1 222.5,971.0C223.1,970.9 223.6,968.8 224.2,968.5C224.8,968.1 225.4,968.2 225.9,968.7C226.5,969.2 227.1,970.9 227.6,971.5C228.2,972.1 228.8,972.6 229.3,972.2C229.9,971.8 230.5,969.2 231.1,969.1C231.6,968.9 232.2,971.7 232.8,971.4C233.3,971.1 233.9,967.4 234.5,967.1C235.0,966.8 235.6,969.3 236.2,969.6C236.8,969.9 237.3,968.6 237.9,968.7C238.5,968.9 239.0,970.7 239.6,970.6C240.2,970.6 240.7,968.7 241.3,968.6C241.9,968.5 242.5,970.6 243.0,970.1C243.6,969.5 244.2,965.9 244.7,965.1C245.3,964.3 245.9,965.5 246.4,965.5C247.0,965.5 247.6,964.5 248.2,964.9C248.7,965.2 249.3,967.5 249.9,967.5C250.4,967.5 251.0,965.4 251.6,964.9C252.1,964.3 252.7,964.0 253.3,964.2C253.9,964.4 254.4,965.7 255.0,966.0C255.6,966.3 256.2,966.0 256.8,965.7C257.4,965.5 258.0,964.3 258.6,964.4C259.2,964.5 259.8,965.8 260.4,966.4C261.0,967.0 261.5,968.3 262.1,968.1C262.7,967.8 263.3,964.9 263.9,964.9C264.5,964.9 265.1,968.0 265.7,968.1C266.3,968.2 266.9,965.5 267.5,965.5C268.1,965.4 268.7,967.7 269.3,967.8C269.9,967.9 270.5,966.3 271.1,966.1C271.7,966.0 272.3,967.1 272.9,967.1C273.5,967.1 274.0,965.7 274.6,966.1C275.2,966.5 275.8,968.8 276.4,969.5C277.0,970.2 277.6,970.4 278.2,970.3C278.8,970.2 279.4,969.6 280.0,969.0C280.6,968.4 281.2,966.5 281.8,966.9C282.4,967.2 283.0,970.6 283.6,971.1C284.2,971.7 284.8,970.1 285.4,970.2C286.0,970.3 286.5,971.2 287.1,971.6C287.7,972.0 288.3,972.8 288.9,972.6C289.5,972.4 290.1,971.1 290.7,970.4C291.3,969.8 291.9,968.4 292.5,968.6C293.1,968.7 293.7,970.7 294.3,971.3C294.9,971.8 295.5,971.3 296.1,971.6C296.7,972.0 297.3,973.1 297.9,973.5C298.5,973.9 299.0,974.6 299.6,974.1C300.2,973.5 300.8,970.4 301.4,970.3C302.0,970.2 302.6,973.3 303.2,973.7C303.8,974.0 304.4,972.7 305.0,972.5C305.6,972.3 306.2,972.2 306.9,972.7C307.5,973.2 308.1,974.7 308.8,975.4C309.4,976.1 310.0,976.4 310.6,976.9C311.2,977.3 311.9,977.7 312.5,978.1C313.1,978.5 313.8,979.1 314.4,979.3C315.0,979.4 315.6,978.7 316.2,978.8C316.9,979.0 317.5,979.6 318.1,980.2C318.8,980.8 319.4,981.8 320.0,982.5C320.6,983.2 321.2,983.8 321.9,984.2C322.5,984.5 323.1,984.7 323.8,984.5C324.4,984.2 325.0,982.8 325.6,982.7C326.2,982.6 326.9,983.4 327.5,983.9C328.1,984.4 328.8,985.4 329.4,985.8C330.0,986.2 330.6,985.9 331.2,986.2C331.9,986.6 332.5,987.5 333.1,987.8C333.8,988.0 334.4,987.1 335.0,987.5C335.6,987.9 336.2,989.9 336.8,990.1C337.4,990.4 338.0,989.2 338.6,989.2C339.2,989.2 339.8,990.0 340.4,990.1C341.0,990.2 341.5,989.8 342.1,990.0C342.7,990.2 343.3,991.4 343.9,991.3C344.5,991.3 345.1,989.7 345.7,989.9C346.3,990.0 346.9,991.8 347.5,992.5C348.1,993.2 348.8,993.9 349.4,994.3C350.0,994.7 350.6,994.2 351.2,995.1C351.9,996.0 352.5,998.6 353.1,999.9C353.8,1001.1 354.4,1001.7 355.0,1002.5C355.6,1003.3 356.2,1003.6 356.9,1004.4C357.5,1005.2 358.1,1006.3 358.8,1007.4C359.4,1008.4 360.0,1009.3 360.6,1010.6C361.2,1011.9 361.8,1013.2 362.5,1015.0C363.2,1016.8 364.2,1018.6 365.0,1021.1C365.8,1023.6 366.8,1027.9 367.5,1030.0C368.2,1032.1 368.8,1032.6 369.4,1034.0C370.0,1035.3 370.6,1036.7 371.2,1037.9C371.9,1039.2 372.5,1040.3 373.1,1041.5C373.8,1042.6 374.3,1042.3 375.0,1045.0C375.7,1047.7 376.7,1053.5 377.5,1057.6C378.3,1061.8 379.2,1066.4 380.0,1070.0C380.8,1073.6 381.7,1076.0 382.5,1078.9C383.3,1081.9 384.3,1085.0 385.0,1087.5C385.7,1090.0 386.2,1092.0 386.9,1094.0C387.5,1096.1 388.1,1097.5 388.8,1099.6C389.4,1101.8 390.0,1104.6 390.6,1106.8C391.2,1108.9 391.9,1110.7 392.5,1112.5C393.1,1114.3 393.8,1115.7 394.5,1117.6C395.2,1119.4 395.8,1121.8 396.5,1123.7C397.2,1125.6 397.8,1127.0 398.5,1128.8C399.2,1130.7 399.8,1133.1 400.5,1134.9C401.2,1136.8 401.8,1138.7 402.5,1140.0C403.2,1141.3 403.8,1141.6 404.5,1142.5C405.2,1143.5 405.8,1144.7 406.5,1145.5C407.2,1146.3 407.8,1146.7 408.5,1147.4C409.2,1148.1 409.8,1149.0 410.5,1149.8C411.2,1150.7 411.9,1151.7 412.5,1152.5C413.1,1153.3 413.7,1153.6 414.3,1154.5C414.9,1155.4 415.5,1156.9 416.1,1157.8C416.7,1158.6 417.3,1158.7 417.9,1159.6C418.5,1160.4 419.0,1162.2 419.6,1163.0C420.2,1163.9 420.8,1164.0 421.4,1164.7C422.0,1165.4 422.6,1166.1 423.2,1167.0C423.8,1167.8 424.4,1169.3 425.0,1170.0C425.6,1170.7 426.2,1170.9 426.9,1171.4C427.5,1172.0 428.1,1172.6 428.8,1173.1C429.4,1173.6 430.0,1173.8 430.6,1174.4C431.2,1174.9 431.9,1176.1 432.5,1176.7C433.1,1177.2 433.8,1177.5 434.4,1177.9C435.0,1178.2 435.6,1178.5 436.2,1179.0C436.9,1179.4 437.5,1180.1 438.1,1180.7C438.8,1181.3 439.4,1182.1 440.0,1182.5C440.6,1182.9 441.2,1183.0 441.8,1183.2C442.4,1183.5 443.0,1183.7 443.6,1184.0C444.2,1184.3 444.8,1184.7 445.5,1185.0C446.1,1185.4 446.7,1185.8 447.3,1186.0C447.9,1186.2 448.5,1185.9 449.1,1186.1C449.7,1186.3 450.3,1186.9 450.9,1187.2C451.5,1187.5 452.1,1187.5 452.7,1187.8C453.3,1188.0 453.9,1188.4 454.5,1188.7C455.2,1189.0 455.8,1189.2 456.4,1189.5C457.0,1189.7 457.6,1190.0 458.2,1190.2C458.8,1190.5 459.4,1190.9 460.0,1191.0C460.6,1191.1 461.2,1190.7 461.8,1190.7C462.4,1190.7 463.0,1190.8 463.6,1191.0C464.2,1191.2 464.8,1191.5 465.4,1191.7C466.0,1192.0 466.5,1192.5 467.1,1192.5C467.7,1192.6 468.3,1191.7 468.9,1191.8C469.5,1192.0 470.1,1193.1 470.7,1193.3C471.3,1193.5 471.9,1193.1 472.5,1193.1C473.1,1193.1 473.7,1193.4 474.3,1193.5C474.9,1193.6 475.5,1193.7 476.1,1193.7C476.7,1193.7 477.3,1193.5 477.9,1193.6C478.5,1193.7 479.0,1194.0 479.6,1194.2C480.2,1194.3 480.8,1194.4 481.4,1194.5C482.0,1194.5 482.6,1194.3 483.2,1194.4C483.8,1194.4 484.4,1194.9 485.0,1195.0C485.6,1195.1 486.1,1194.9 486.7,1194.9C487.3,1194.9 487.9,1194.8 488.4,1194.9C489.0,1195.0 489.6,1195.2 490.1,1195.2C490.7,1195.3 491.3,1195.3 491.8,1195.4C492.4,1195.5 493.0,1195.9 493.6,1196.0C494.1,1196.1 494.7,1195.9 495.3,1195.9C495.8,1195.9 496.4,1196.1 497.0,1196.1C497.5,1196.2 498.1,1196.2 498.7,1196.4C499.3,1196.6 499.8,1197.1 500.4,1197.3C501.0,1197.4 501.5,1197.3 502.1,1197.4C502.7,1197.5 503.2,1198.0 503.8,1198.0C504.4,1198.1 505.0,1197.7 505.5,1197.7C506.1,1197.8 506.7,1198.0 507.2,1198.1C507.8,1198.2 508.4,1198.4 508.9,1198.5C509.5,1198.5 510.1,1198.3 510.7,1198.4C511.2,1198.5 511.8,1199.0 512.4,1199.1C512.9,1199.1 513.5,1198.6 514.1,1198.7C514.6,1198.7 515.2,1199.3 515.8,1199.4C516.4,1199.5 516.9,1199.6 517.5,1199.5C518.1,1199.4 518.6,1198.9 519.2,1198.9C519.8,1199.0 520.3,1199.7 520.9,1199.7C521.5,1199.7 522.0,1199.2 522.6,1199.0C523.2,1198.8 523.7,1198.6 524.3,1198.6C524.9,1198.5 525.4,1198.8 526.0,1198.9C526.6,1199.0 527.1,1199.2 527.7,1199.2C528.3,1199.2 528.8,1199.1 529.4,1198.9C530.0,1198.7 530.5,1197.9 531.1,1197.8C531.7,1197.7 532.2,1198.1 532.8,1198.1C533.4,1198.0 533.9,1197.6 534.5,1197.6C535.1,1197.6 535.6,1198.1 536.2,1198.1C536.8,1198.1 537.3,1197.6 537.9,1197.7C538.5,1197.7 539.0,1198.4 539.6,1198.3C540.2,1198.2 540.7,1197.2 541.3,1197.0C541.9,1196.9 542.4,1197.3 543.0,1197.3C543.6,1197.4 544.1,1197.2 544.7,1197.2C545.3,1197.3 545.8,1197.4 546.4,1197.4C547.0,1197.4 547.5,1197.5 548.1,1197.4C548.7,1197.2 549.2,1196.5 549.8,1196.4C550.4,1196.4 550.9,1197.2 551.5,1197.3C552.1,1197.4 552.6,1197.3 553.2,1197.0C553.8,1196.8 554.3,1196.2 554.9,1196.0C555.5,1195.8 556.0,1195.7 556.6,1195.7C557.2,1195.8 557.7,1196.3 558.3,1196.3C558.9,1196.4 559.4,1196.2 560.0,1196.0C560.6,1195.8 561.1,1195.4 561.7,1195.3C562.3,1195.1 562.8,1195.1 563.4,1195.0C564.0,1194.9 564.5,1194.7 565.1,1194.6C565.7,1194.6 566.2,1194.6 566.8,1194.6C567.4,1194.6 568.0,1195.0 568.5,1194.9C569.1,1194.9 569.7,1194.6 570.2,1194.3C570.8,1194.1 571.4,1193.8 571.9,1193.6C572.5,1193.5 573.1,1193.4 573.6,1193.4C574.2,1193.4 574.8,1193.5 575.3,1193.4C575.9,1193.2 576.5,1192.4 577.0,1192.3C577.6,1192.2 578.2,1192.9 578.8,1193.0C579.3,1193.0 579.9,1192.6 580.5,1192.4C581.0,1192.1 581.6,1191.5 582.2,1191.3C582.7,1191.2 583.3,1191.4 583.9,1191.4C584.4,1191.4 585.0,1191.4 585.6,1191.4C586.1,1191.4 586.7,1191.5 587.3,1191.2C587.8,1191.0 588.4,1190.1 589.0,1190.0C589.5,1189.9 590.1,1190.6 590.7,1190.6C591.2,1190.6 591.8,1190.2 592.4,1190.0C593.0,1189.9 593.5,1189.8 594.1,1189.7C594.7,1189.7 595.2,1189.9 595.8,1189.8C596.4,1189.7 596.9,1189.2 597.5,1189.0C598.1,1188.8 598.7,1188.4 599.2,1188.4C599.8,1188.4 600.4,1189.1 601.0,1189.0C601.6,1188.9 602.1,1188.0 602.7,1187.9C603.3,1187.8 603.9,1188.1 604.4,1188.2C605.0,1188.2 605.6,1188.1 606.2,1188.1C606.8,1188.0 607.3,1187.9 607.9,1187.7C608.5,1187.6 609.1,1187.5 609.7,1187.3C610.2,1187.1 610.8,1186.7 611.4,1186.6C612.0,1186.5 612.5,1187.0 613.1,1186.9C613.7,1186.9 614.3,1186.3 614.9,1186.2C615.4,1186.1 616.0,1186.5 616.6,1186.5C617.2,1186.4 617.8,1185.9 618.3,1185.8C618.9,1185.8 619.5,1186.4 620.1,1186.3C620.6,1186.3 621.2,1185.7 621.8,1185.6C622.4,1185.4 623.0,1185.5 623.5,1185.4C624.1,1185.3 624.7,1185.0 625.3,1184.9C625.9,1184.8 626.4,1184.8 627.0,1184.8C627.6,1184.7 628.2,1184.5 628.8,1184.4C629.3,1184.3 629.9,1184.3 630.5,1184.2C631.1,1184.1 631.6,1184.0 632.2,1183.8C632.8,1183.6 633.4,1183.2 634.0,1183.3C634.5,1183.3 635.1,1184.0 635.7,1184.0C636.3,1184.0 636.9,1183.3 637.4,1183.2C638.0,1183.1 638.6,1183.4 639.2,1183.4C639.7,1183.4 640.3,1183.1 640.9,1182.9C641.5,1182.7 642.1,1182.1 642.6,1182.1C643.2,1182.1 643.8,1182.9 644.4,1182.8C645.0,1182.8 645.5,1182.0 646.1,1181.8C646.7,1181.5 647.3,1181.4 647.8,1181.3C648.4,1181.2 649.0,1181.3 649.6,1181.3C650.2,1181.3 650.7,1181.5 651.3,1181.5C651.9,1181.5 652.5,1181.4 653.1,1181.3C653.6,1181.2 654.2,1181.0 654.8,1181.0C655.4,1180.9 655.9,1181.0 656.5,1180.8C657.1,1180.6 657.7,1179.8 658.3,1179.7C658.8,1179.6 659.4,1180.0 660.0,1180.0C660.6,1180.0 661.1,1179.8 661.7,1179.8C662.3,1179.7 662.9,1179.7 663.4,1179.5C664.0,1179.3 664.6,1178.7 665.1,1178.7C665.7,1178.6 666.3,1179.1 666.9,1179.0C667.4,1178.9 668.0,1178.2 668.6,1178.2C669.1,1178.1 669.7,1178.5 670.3,1178.5C670.9,1178.5 671.4,1178.0 672.0,1177.9C672.6,1177.7 673.1,1177.6 673.7,1177.5C674.3,1177.4 674.9,1177.3 675.4,1177.2C676.0,1177.2 676.6,1177.3 677.1,1177.3C677.7,1177.4 678.3,1177.7 678.9,1177.6C679.4,1177.4 680.0,1176.7 680.6,1176.5C681.1,1176.2 681.7,1176.0 682.3,1176.1C682.9,1176.1 683.4,1176.7 684.0,1176.8C684.6,1176.8 685.1,1176.5 685.7,1176.2C686.3,1176.0 686.9,1175.5 687.4,1175.4C688.0,1175.2 688.6,1175.4 689.1,1175.3C689.7,1175.3 690.3,1175.2 690.9,1175.2C691.4,1175.3 692.0,1175.6 692.6,1175.6C693.1,1175.5 693.7,1175.1 694.3,1174.9C694.9,1174.7 695.4,1174.4 696.0,1174.2C696.6,1174.1 697.1,1174.0 697.7,1173.9C698.3,1173.9 698.9,1174.0 699.4,1174.1C700.0,1174.1 700.6,1174.4 701.1,1174.2C701.7,1174.1 702.3,1173.5 702.9,1173.3C703.4,1173.1 704.0,1173.1 704.6,1173.0C705.1,1172.9 705.7,1172.6 706.3,1172.6C706.9,1172.6 707.4,1173.2 708.0,1173.2C708.6,1173.1 709.1,1172.6 709.7,1172.3C710.3,1172.1 710.9,1171.9 711.4,1171.7C712.0,1171.6 712.6,1171.5 713.1,1171.4C713.7,1171.4 714.3,1171.5 714.9,1171.5C715.4,1171.5 716.0,1171.5 716.6,1171.5C717.1,1171.4 717.7,1171.4 718.3,1171.3C718.9,1171.2 719.4,1171.0 720.0,1171.0C720.6,1171.0 721.2,1171.0 721.7,1171.0C722.3,1171.0 722.9,1171.3 723.5,1171.0C724.0,1170.8 724.6,1169.7 725.2,1169.6C725.8,1169.5 726.3,1170.3 726.9,1170.2C727.5,1170.1 728.1,1169.1 728.7,1169.1C729.2,1169.0 729.8,1169.8 730.4,1169.9C731.0,1169.9 731.5,1169.4 732.1,1169.2C732.7,1169.1 733.3,1168.8 733.8,1168.8C734.4,1168.7 735.0,1169.1 735.6,1169.0C736.2,1168.9 736.7,1168.5 737.3,1168.3C737.9,1168.1 738.5,1167.6 739.0,1167.6C739.6,1167.5 740.2,1168.1 740.8,1168.2C741.3,1168.2 741.9,1167.9 742.5,1167.7C743.1,1167.4 743.7,1166.8 744.2,1166.7C744.8,1166.6 745.4,1167.2 746.0,1167.2C746.5,1167.1 747.1,1166.5 747.7,1166.4C748.3,1166.3 748.8,1166.8 749.4,1166.9C750.0,1166.9 750.6,1166.9 751.2,1166.7C751.7,1166.6 752.3,1165.9 752.9,1165.8C753.5,1165.6 754.0,1165.9 754.6,1165.8C755.2,1165.8 755.8,1165.7 756.3,1165.6C756.9,1165.4 757.5,1165.2 758.1,1165.1C758.7,1165.1 759.2,1165.3 759.8,1165.3C760.4,1165.3 761.0,1165.3 761.5,1165.1C762.1,1164.8 762.7,1164.1 763.3,1164.0C763.8,1163.8 764.4,1164.1 765.0,1164.0C765.6,1163.9 766.2,1163.4 766.7,1163.3C767.3,1163.2 767.9,1163.5 768.5,1163.5C769.1,1163.4 769.6,1163.3 770.2,1163.0C770.8,1162.8 771.4,1162.3 772.0,1161.9C772.5,1161.6 773.1,1161.1 773.7,1161.0C774.3,1160.8 774.9,1161.2 775.4,1161.2C776.0,1161.2 776.6,1161.1 777.2,1160.9C777.8,1160.8 778.3,1160.6 778.9,1160.3C779.5,1160.0 780.1,1159.6 780.7,1159.3C781.2,1159.0 781.8,1158.7 782.4,1158.5C783.0,1158.3 783.6,1158.2 784.1,1158.1C784.7,1158.0 785.3,1157.7 785.9,1157.6C786.4,1157.6 787.0,1157.9 787.6,1157.8C788.2,1157.7 788.8,1157.2 789.3,1157.0C789.9,1156.7 790.5,1156.4 791.1,1156.2C791.7,1156.0 792.2,1155.8 792.8,1155.8C793.4,1155.7 794.0,1155.9 794.6,1155.9C795.1,1155.8 795.7,1155.7 796.3,1155.4C796.9,1155.1 797.5,1154.4 798.0,1154.1C798.6,1153.8 799.2,1153.6 799.8,1153.5C800.4,1153.4 800.9,1153.5 801.5,1153.4C802.1,1153.4 802.7,1153.4 803.3,1153.2C803.8,1153.1 804.4,1152.5 805.0,1152.5C805.6,1152.5 806.2,1153.3 806.8,1153.4C807.4,1153.6 808.0,1153.3 808.6,1153.4C809.2,1153.5 809.8,1153.7 810.4,1153.9C811.0,1154.2 811.5,1154.5 812.1,1154.8C812.7,1155.0 813.3,1155.4 813.9,1155.5C814.5,1155.6 815.1,1155.3 815.7,1155.4C816.3,1155.5 816.9,1156.2 817.5,1156.3C818.1,1156.5 818.7,1156.2 819.3,1156.4C819.9,1156.6 820.5,1157.3 821.1,1157.6C821.7,1157.9 822.3,1158.0 822.9,1158.2C823.5,1158.4 824.0,1158.8 824.6,1158.8C825.2,1158.8 825.8,1158.2 826.4,1158.3C827.0,1158.5 827.6,1159.6 828.2,1159.9C828.8,1160.1 829.4,1159.8 830.0,1160.0C830.6,1160.2 831.2,1160.5 831.8,1160.9C832.4,1161.3 833.0,1161.9 833.6,1162.2C834.2,1162.6 834.8,1162.6 835.4,1162.8C836.0,1163.1 836.5,1163.6 837.1,1163.8C837.7,1164.0 838.3,1163.8 838.9,1164.1C839.5,1164.4 840.1,1165.3 840.7,1165.6C841.3,1165.9 841.9,1166.0 842.5,1166.0C843.1,1166.0 843.7,1165.7 844.2,1165.9C844.8,1166.0 845.4,1166.5 846.0,1166.6C846.6,1166.8 847.2,1166.6 847.8,1166.6C848.3,1166.6 848.9,1166.7 849.5,1166.8C850.1,1166.9 850.7,1166.9 851.2,1167.0C851.8,1167.0 852.4,1167.1 853.0,1167.0C853.6,1167.0 854.2,1166.8 854.8,1166.8C855.3,1166.8 855.9,1166.8 856.5,1166.9C857.1,1167.0 857.7,1167.3 858.2,1167.4C858.8,1167.6 859.4,1167.8 860.0,1167.8C860.6,1167.8 861.2,1167.5 861.8,1167.4C862.3,1167.4 862.9,1167.7 863.5,1167.7C864.1,1167.8 864.7,1167.8 865.2,1167.8C865.8,1167.8 866.4,1167.5 867.0,1167.6C867.6,1167.8 868.2,1168.3 868.8,1168.4C869.3,1168.5 869.9,1168.2 870.5,1168.3C871.1,1168.3 871.7,1168.4 872.2,1168.5C872.8,1168.6 873.4,1168.7 874.0,1168.8C874.6,1168.9 875.2,1169.1 875.8,1169.1C876.3,1169.1 876.9,1169.1 877.5,1169.0C878.1,1168.9 878.8,1168.8 879.5,1168.6C880.2,1168.3 880.8,1167.8 881.5,1167.5C882.2,1167.2 882.8,1167.0 883.5,1166.8C884.2,1166.6 884.8,1166.3 885.5,1166.1C886.2,1166.0 886.9,1166.2 887.5,1166.0C888.1,1165.8 888.6,1165.5 889.2,1165.2C889.8,1164.9 890.4,1164.5 890.9,1164.1C891.5,1163.7 892.1,1163.4 892.6,1163.0C893.2,1162.5 893.8,1161.8 894.3,1161.3C894.9,1160.9 895.5,1160.6 896.1,1160.3C896.6,1160.0 897.2,1159.6 897.8,1159.3C898.3,1159.1 898.9,1158.9 899.5,1158.6C900.0,1158.3 900.6,1157.8 901.2,1157.4C901.8,1157.0 902.3,1156.6 902.9,1156.2C903.5,1155.8 904.0,1155.5 904.6,1155.1C905.2,1154.6 905.7,1153.8 906.3,1153.5C906.9,1153.2 907.5,1153.4 908.0,1153.1C908.6,1152.8 909.2,1151.8 909.7,1151.4C910.3,1151.0 910.9,1151.0 911.4,1150.7C912.0,1150.4 912.6,1150.2 913.2,1149.8C913.7,1149.4 914.3,1148.7 914.9,1148.2C915.4,1147.8 916.0,1147.4 916.6,1147.0C917.1,1146.5 917.7,1145.9 918.3,1145.6C918.9,1145.2 919.4,1145.2 920.0,1145.0C920.6,1144.8 921.1,1144.4 921.7,1144.2C922.3,1144.0 922.8,1143.9 923.4,1143.6C924.0,1143.3 924.5,1142.9 925.1,1142.5C925.7,1142.1 926.2,1141.2 926.8,1141.0C927.4,1140.8 928.0,1141.2 928.5,1141.1C929.1,1141.0 929.7,1140.8 930.2,1140.3C930.8,1139.9 931.4,1139.0 931.9,1138.5C932.5,1138.1 933.1,1138.0 933.6,1137.8C934.2,1137.6 934.8,1137.5 935.3,1137.2C935.9,1136.8 936.5,1136.1 937.0,1135.9C937.6,1135.7 938.2,1136.0 938.8,1135.9C939.3,1135.8 939.9,1135.4 940.5,1135.1C941.0,1134.8 941.6,1134.5 942.2,1134.2C942.7,1133.9 943.3,1133.8 943.9,1133.5C944.4,1133.2 945.0,1132.9 945.6,1132.5C946.1,1132.1 946.7,1131.7 947.3,1131.3C947.8,1130.8 948.4,1130.1 949.0,1129.9C949.5,1129.6 950.1,1130.0 950.7,1129.8C951.2,1129.6 951.8,1129.2 952.4,1128.8C953.0,1128.4 953.5,1127.8 954.1,1127.4C954.7,1127.0 955.2,1126.7 955.8,1126.5C956.4,1126.3 956.9,1126.2 957.5,1126.0C958.1,1125.8 958.7,1125.7 959.2,1125.6C959.8,1125.5 960.4,1125.4 961.0,1125.2C961.5,1125.0 962.1,1124.7 962.7,1124.5C963.3,1124.2 963.8,1124.0 964.4,1123.8C965.0,1123.6 965.6,1123.3 966.2,1123.2C966.7,1123.2 967.3,1123.5 967.9,1123.4C968.5,1123.4 969.0,1123.1 969.6,1122.9C970.2,1122.6 970.8,1121.9 971.3,1121.8C971.9,1121.8 972.5,1122.4 973.1,1122.4C973.7,1122.4 974.2,1122.1 974.8,1122.0C975.4,1121.8 976.0,1121.7 976.5,1121.5C977.1,1121.2 977.7,1120.7 978.3,1120.5C978.8,1120.2 979.4,1120.1 980.0,1120.0C980.6,1119.9 981.2,1120.0 981.8,1119.7C982.4,1119.4 983.0,1118.7 983.6,1118.4C984.2,1118.1 984.8,1118.0 985.5,1117.8C986.1,1117.6 986.7,1117.1 987.3,1117.0C987.9,1116.9 988.5,1117.2 989.1,1117.0C989.7,1116.8 990.3,1116.1 990.9,1115.8C991.5,1115.6 992.1,1116.0 992.7,1115.7C993.3,1115.5 993.9,1114.7 994.5,1114.4C995.2,1114.0 995.8,1113.7 996.4,1113.5C997.0,1113.3 997.6,1113.4 998.2,1113.3C998.8,1113.1 999.4,1112.8 1000.0,1112.5C1000.6,1112.2 1001.1,1112.0 1001.7,1111.7C1002.3,1111.3 1002.8,1111.0 1003.4,1110.6C1004.0,1110.2 1004.5,1109.7 1005.1,1109.2C1005.7,1108.7 1006.2,1108.1 1006.8,1107.7C1007.4,1107.3 1008.0,1107.1 1008.5,1106.7C1009.1,1106.3 1009.7,1105.6 1010.2,1105.2C1010.8,1104.9 1011.4,1105.0 1011.9,1104.7C1012.5,1104.4 1013.1,1104.0 1013.6,1103.5C1014.2,1103.0 1014.8,1102.1 1015.3,1101.7C1015.9,1101.3 1016.5,1101.3 1017.0,1101.0C1017.6,1100.7 1018.2,1100.2 1018.8,1099.9C1019.3,1099.6 1019.9,1099.7 1020.5,1099.3C1021.0,1099.0 1021.6,1098.4 1022.2,1098.0C1022.7,1097.5 1023.3,1097.0 1023.9,1096.6C1024.4,1096.2 1025.0,1096.0 1025.6,1095.6C1026.1,1095.3 1026.7,1095.1 1027.3,1094.6C1027.8,1094.2 1028.4,1093.2 1029.0,1092.8C1029.5,1092.4 1030.1,1092.3 1030.7,1092.0C1031.2,1091.8 1031.8,1091.6 1032.4,1091.2C1033.0,1090.8 1033.5,1090.3 1034.1,1089.9C1034.7,1089.4 1035.2,1089.0 1035.8,1088.6C1036.4,1088.2 1036.9,1087.7 1037.5,1087.5C1038.1,1087.3 1038.6,1087.5 1039.2,1087.1C1039.8,1086.8 1040.3,1085.7 1040.9,1085.3C1041.5,1085.0 1042.0,1085.5 1042.6,1085.2C1043.2,1084.9 1043.8,1084.1 1044.3,1083.7C1044.9,1083.2 1045.5,1082.7 1046.0,1082.4C1046.6,1082.2 1047.2,1082.5 1047.7,1082.3C1048.3,1082.1 1048.9,1081.8 1049.4,1081.4C1050.0,1081.1 1050.6,1080.5 1051.1,1080.2C1051.7,1079.8 1052.3,1079.8 1052.8,1079.4C1053.4,1079.1 1054.0,1078.3 1054.5,1078.0C1055.1,1077.7 1055.7,1078.0 1056.2,1077.8C1056.8,1077.5 1057.4,1076.9 1058.0,1076.4C1058.5,1076.0 1059.1,1075.4 1059.7,1075.2C1060.2,1074.9 1060.8,1074.8 1061.4,1074.7C1061.9,1074.6 1062.5,1074.6 1063.1,1074.3C1063.6,1074.0 1064.2,1073.2 1064.8,1072.8C1065.3,1072.4 1065.9,1072.1 1066.5,1071.9C1067.0,1071.7 1067.6,1072.0 1068.2,1071.6C1068.8,1071.2 1069.3,1070.1 1069.9,1069.7C1070.5,1069.4 1071.0,1069.6 1071.6,1069.5C1072.2,1069.3 1072.7,1069.3 1073.3,1069.0C1073.9,1068.7 1074.4,1068.0 1075.0,1067.5C1075.6,1067.0 1076.1,1066.5 1076.7,1066.3C1077.3,1066.0 1077.8,1066.3 1078.4,1066.0C1079.0,1065.8 1079.5,1064.9 1080.1,1064.6C1080.7,1064.3 1081.2,1064.5 1081.8,1064.2C1082.4,1064.0 1083.0,1063.6 1083.5,1063.3C1084.1,1063.0 1084.7,1062.7 1085.2,1062.4C1085.8,1062.2 1086.4,1062.2 1086.9,1061.9C1087.5,1061.6 1088.1,1060.9 1088.6,1060.7C1089.2,1060.5 1089.8,1060.9 1090.3,1060.7C1090.9,1060.4 1091.5,1059.5 1092.0,1059.1C1092.6,1058.8 1093.2,1058.5 1093.8,1058.4C1094.3,1058.3 1094.9,1058.7 1095.5,1058.5C1096.0,1058.3 1096.6,1057.4 1097.2,1057.2C1097.7,1056.9 1098.3,1057.2 1098.9,1056.9C1099.4,1056.7 1100.0,1056.2 1100.6,1055.8C1101.1,1055.5 1101.7,1055.2 1102.3,1055.0C1102.8,1054.7 1103.4,1054.6 1104.0,1054.2C1104.5,1053.8 1105.1,1052.9 1105.7,1052.7C1106.2,1052.4 1106.8,1053.1 1107.4,1053.0C1108.0,1052.8 1108.5,1051.9 1109.1,1051.5C1109.7,1051.1 1110.2,1050.8 1110.8,1050.5C1111.4,1050.3 1111.9,1050.1 1112.5,1050.0C1113.1,1049.9 1113.6,1050.0 1114.2,1049.7C1114.8,1049.4 1115.4,1048.5 1115.9,1048.1C1116.5,1047.7 1117.1,1047.5 1117.6,1047.2C1118.2,1047.0 1118.8,1047.0 1119.3,1046.6C1119.9,1046.2 1120.5,1045.2 1121.1,1044.9C1121.6,1044.6 1122.2,1044.9 1122.8,1044.6C1123.3,1044.4 1123.9,1043.8 1124.5,1043.4C1125.0,1043.0 1125.6,1042.8 1126.2,1042.5C1126.8,1042.1 1127.3,1041.5 1127.9,1041.3C1128.5,1041.0 1129.0,1040.9 1129.6,1040.8C1130.2,1040.6 1130.7,1040.6 1131.3,1040.2C1131.9,1039.9 1132.5,1038.8 1133.0,1038.5C1133.6,1038.2 1134.2,1038.8 1134.7,1038.5C1135.3,1038.1 1135.9,1036.9 1136.4,1036.5C1137.0,1036.2 1137.6,1036.6 1138.2,1036.4C1138.7,1036.2 1139.3,1035.6 1139.9,1035.2C1140.4,1034.8 1141.0,1034.2 1141.6,1033.9C1142.1,1033.5 1142.7,1033.5 1143.3,1033.3C1143.9,1033.1 1144.4,1032.8 1145.0,1032.5C1145.6,1032.2 1146.2,1031.9 1146.8,1031.6C1147.4,1031.4 1147.9,1031.2 1148.5,1031.0C1149.1,1030.9 1149.7,1031.0 1150.3,1030.8C1150.9,1030.6 1151.5,1030.3 1152.1,1030.0C1152.6,1029.7 1153.2,1029.5 1153.8,1029.3C1154.4,1029.0 1155.0,1028.7 1155.6,1028.6C1156.2,1028.6 1156.8,1029.0 1157.4,1028.8C1157.9,1028.6 1158.5,1027.7 1159.1,1027.5C1159.7,1027.2 1160.3,1027.2 1160.9,1027.1C1161.5,1026.9 1162.1,1026.7 1162.6,1026.6C1163.2,1026.4 1163.8,1026.4 1164.4,1026.3C1165.0,1026.1 1165.6,1025.8 1166.2,1025.5C1166.8,1025.3 1167.4,1025.2 1167.9,1025.0C1168.5,1024.7 1169.1,1024.3 1169.7,1024.1C1170.3,1023.8 1170.9,1023.8 1171.5,1023.6C1172.1,1023.4 1172.6,1023.1 1173.2,1022.9C1173.8,1022.7 1174.4,1022.6 1175.0,1022.5C1175.6,1022.4 1176.1,1022.7 1176.7,1022.5C1177.3,1022.3 1177.9,1021.6 1178.4,1021.4C1179.0,1021.1 1179.6,1021.1 1180.2,1021.0C1180.7,1020.9 1181.3,1020.9 1181.9,1020.9C1182.4,1020.9 1183.0,1021.1 1183.6,1020.8C1184.2,1020.5 1184.7,1019.6 1185.3,1019.3C1185.9,1019.0 1186.5,1019.1 1187.0,1019.1C1187.6,1019.0 1188.2,1018.5 1188.8,1019.0C1189.3,1019.5 1190.0,1021.2 1190.6,1022.1C1191.2,1023.0 1191.9,1023.6 1192.5,1024.5C1193.1,1025.3 1193.8,1026.1 1194.4,1026.9C1195.0,1027.8 1195.6,1028.7 1196.2,1029.5C1196.9,1030.3 1197.5,1031.0 1198.1,1031.9C1198.8,1032.8 1199.4,1033.9 1200.0,1035.0C1200.6,1036.1 1201.3,1037.5 1202.0,1038.4C1202.7,1039.4 1203.3,1039.8 1204.0,1040.7C1204.7,1041.6 1205.3,1045.4 1206.0,1044.0C1206.7,1042.6 1207.3,1036.2 1208.0,1032.2C1208.7,1028.2 1209.4,1021.7 1210.0,1020.0C1210.6,1018.3 1211.2,1021.0 1211.9,1021.9C1212.5,1022.8 1213.1,1024.5 1213.8,1025.5C1214.4,1026.5 1215.0,1027.1 1215.6,1027.9C1216.2,1028.6 1216.8,1030.2 1217.5,1030.0C1218.2,1029.8 1219.2,1028.0 1220.0,1026.8C1220.8,1025.5 1221.8,1023.2 1222.5,1022.5C1223.2,1021.8 1223.7,1022.7 1224.2,1022.7C1224.8,1022.8 1225.4,1022.8 1226.0,1022.9C1226.6,1022.9 1227.2,1023.1 1227.8,1023.2C1228.3,1023.4 1228.9,1023.7 1229.5,1023.8C1230.1,1023.9 1230.7,1023.9 1231.2,1023.9C1231.8,1023.8 1232.4,1023.4 1233.0,1023.5C1233.6,1023.5 1234.2,1024.1 1234.8,1024.2C1235.3,1024.3 1235.9,1023.9 1236.5,1024.1C1237.1,1024.2 1237.7,1025.0 1238.2,1025.1C1238.8,1025.3 1239.4,1025.3 1240.0,1025.0C1240.6,1024.7 1241.2,1023.7 1241.8,1023.3C1242.3,1022.8 1242.9,1022.8 1243.5,1022.4C1244.1,1021.9 1244.7,1021.0 1245.2,1020.4C1245.8,1019.8 1246.4,1019.5 1247.0,1018.9C1247.6,1018.4 1248.2,1017.5 1248.8,1017.1C1249.3,1016.6 1249.9,1016.6 1250.5,1016.1C1251.1,1015.6 1251.7,1014.6 1252.2,1014.2C1252.8,1013.8 1253.4,1014.0 1254.0,1013.6C1254.6,1013.1 1255.2,1012.3 1255.8,1011.7C1256.3,1011.2 1256.9,1010.2 1257.5,1010.0C1258.1,1009.8 1258.6,1010.3 1259.2,1010.4C1259.8,1010.5 1260.4,1010.8 1260.9,1010.8C1261.5,1010.8 1262.1,1010.4 1262.7,1010.4C1263.2,1010.5 1263.8,1011.1 1264.4,1011.2C1264.9,1011.3 1265.5,1011.0 1266.1,1011.0C1266.7,1011.0 1267.2,1011.3 1267.8,1011.2C1268.4,1011.2 1269.0,1010.7 1269.5,1010.7C1270.1,1010.8 1270.7,1011.4 1271.2,1011.5C1271.8,1011.7 1272.4,1011.4 1273.0,1011.5C1273.5,1011.6 1274.1,1012.0 1274.7,1012.1C1275.3,1012.1 1275.8,1011.6 1276.4,1011.6C1277.0,1011.5 1277.6,1011.6 1278.1,1011.7C1278.7,1011.8 1279.3,1012.0 1279.8,1012.1C1280.4,1012.2 1281.0,1012.3 1281.6,1012.4C1282.1,1012.4 1282.7,1012.3 1283.3,1012.3C1283.9,1012.3 1284.4,1012.4 1285.0,1012.5C1285.6,1012.6 1286.3,1012.5 1287.0,1012.7C1287.7,1012.8 1288.3,1012.9 1289.0,1013.2C1289.7,1013.5 1290.3,1014.2 1291.0,1014.5C1291.7,1014.7 1292.3,1014.6 1293.0,1014.7C1293.7,1014.7 1294.4,1015.0 1295.0,1015.0C1295.6,1015.0 1296.2,1014.8 1296.8,1014.7C1297.3,1014.6 1297.9,1014.5 1298.5,1014.5C1299.1,1014.5 1299.7,1014.5 1300.2,1014.5C1300.8,1014.6 1301.4,1014.6 1302.0,1014.7C1302.6,1014.9 1303.2,1015.4 1303.8,1015.3C1304.3,1015.2 1304.9,1014.2 1305.5,1014.1C1306.1,1014.0 1306.7,1014.6 1307.2,1014.6C1307.8,1014.7 1308.4,1014.3 1309.0,1014.3C1309.6,1014.3 1310.2,1014.7 1310.8,1014.7C1311.3,1014.8 1311.9,1014.8 1312.5,1014.8C1313.1,1014.8 1313.7,1014.9 1314.2,1014.9C1314.8,1014.9 1315.4,1014.9 1316.0,1014.9C1316.6,1014.9 1317.2,1015.0 1317.8,1014.8C1318.3,1014.7 1318.9,1014.2 1319.5,1014.1C1320.1,1014.1 1320.7,1014.6 1321.2,1014.6C1321.8,1014.6 1322.4,1014.3 1323.0,1014.2C1323.6,1014.1 1324.2,1014.0 1324.8,1013.9C1325.3,1013.9 1325.9,1013.8 1326.5,1013.8C1327.1,1013.8 1327.7,1013.8 1328.2,1013.9C1328.8,1013.9 1329.4,1013.9 1330.0,1014.0C1330.6,1014.1 1331.2,1014.3 1331.8,1014.4C1332.3,1014.5 1332.9,1014.5 1333.5,1014.5C1334.1,1014.5 1334.7,1014.2 1335.2,1014.3C1335.8,1014.4 1336.4,1014.9 1337.0,1015.0C1337.6,1015.0 1338.2,1014.5 1338.8,1014.4C1339.3,1014.4 1339.9,1014.5 1340.5,1014.6C1341.1,1014.7 1341.7,1014.9 1342.2,1015.0C1342.8,1015.1 1343.4,1015.2 1344.0,1015.3C1344.6,1015.4 1345.2,1015.4 1345.8,1015.5C1346.3,1015.6 1346.9,1016.0 1347.5,1016.0C1348.1,1016.0 1348.8,1015.7 1349.4,1015.6C1350.0,1015.5 1350.6,1015.5 1351.2,1015.4C1351.9,1015.4 1352.5,1015.4 1353.1,1015.2C1353.8,1015.1 1354.4,1014.6 1355.0,1014.4C1355.6,1014.3 1356.2,1014.4 1356.9,1014.3C1357.5,1014.3 1358.1,1014.2 1358.8,1014.2C1359.4,1014.2 1360.0,1014.2 1360.6,1014.1C1361.2,1014.1 1361.9,1014.2 1362.5,1014.0C1363.1,1013.8 1363.6,1013.0 1364.2,1012.8C1364.8,1012.7 1365.4,1013.2 1365.9,1013.1C1366.5,1012.9 1367.1,1012.4 1367.6,1012.0C1368.2,1011.7 1368.8,1011.4 1369.3,1011.1C1369.9,1010.9 1370.5,1010.8 1371.1,1010.6C1371.6,1010.5 1372.2,1010.3 1372.8,1010.1C1373.3,1009.9 1373.9,1009.5 1374.5,1009.3C1375.0,1009.1 1375.6,1008.9 1376.2,1008.7C1376.8,1008.5 1377.3,1008.2 1377.9,1008.1C1378.5,1008.1 1379.0,1008.7 1379.6,1008.5C1380.2,1008.3 1380.7,1007.4 1381.3,1007.0C1381.9,1006.6 1382.5,1006.3 1383.0,1006.1C1383.6,1006.0 1384.2,1005.9 1384.7,1005.8C1385.3,1005.8 1385.9,1005.9 1386.4,1005.8C1387.0,1005.8 1387.6,1005.6 1388.2,1005.4C1388.7,1005.1 1389.3,1004.8 1389.9,1004.5C1390.4,1004.3 1391.0,1004.0 1391.6,1003.9C1392.1,1003.7 1392.7,1003.7 1393.3,1003.4C1393.9,1003.2 1394.4,1002.8 1395.0,1002.5C1395.6,1002.2 1396.1,1001.6 1396.7,1001.6C1397.3,1001.5 1397.8,1002.2 1398.4,1002.1C1399.0,1002.0 1399.5,1001.5 1400.1,1001.2C1400.7,1000.9 1401.2,1000.6 1401.8,1000.5C1402.4,1000.3 1402.9,1000.4 1403.5,1000.3C1404.1,1000.3 1404.6,1000.4 1405.2,1000.2C1405.8,1000.0 1406.3,999.3 1406.9,999.2C1407.5,999.0 1408.0,999.3 1408.6,999.2C1409.2,999.0 1409.7,998.6 1410.3,998.5C1410.9,998.4 1411.4,998.7 1412.0,998.5C1412.6,998.2 1413.1,997.2 1413.7,997.0C1414.3,996.8 1414.8,997.2 1415.4,997.2C1416.0,997.1 1416.5,997.2 1417.1,997.0C1417.7,996.8 1418.2,996.1 1418.8,995.9C1419.4,995.7 1419.9,996.1 1420.5,996.0C1421.1,995.9 1421.6,995.5 1422.2,995.4C1422.8,995.2 1423.3,995.3 1423.9,995.1C1424.5,994.9 1425.0,994.5 1425.6,994.3C1426.2,994.1 1426.7,993.8 1427.3,993.6C1427.9,993.4 1428.4,993.2 1429.0,993.1C1429.6,992.9 1430.1,992.7 1430.7,992.5C1431.3,992.3 1431.8,991.9 1432.4,991.8C1433.0,991.8 1433.5,992.2 1434.1,992.2C1434.7,992.1 1435.2,991.9 1435.8,991.7C1436.4,991.5 1436.9,991.3 1437.5,991.0C1438.1,990.7 1438.6,990.2 1439.2,989.9C1439.8,989.6 1440.3,989.3 1440.9,989.2C1441.5,989.0 1442.0,989.1 1442.6,989.0C1443.2,988.8 1443.8,988.5 1444.3,988.3C1444.9,988.1 1445.5,988.0 1446.0,987.8C1446.6,987.6 1447.2,987.4 1447.7,987.2C1448.3,986.9 1448.9,986.5 1449.4,986.3C1450.0,986.1 1450.6,986.2 1451.1,985.9C1451.7,985.7 1452.3,985.1 1452.8,984.8C1453.4,984.5 1454.0,984.3 1454.5,984.1C1455.1,983.9 1455.7,983.8 1456.2,983.6C1456.8,983.4 1457.4,983.0 1458.0,982.8C1458.5,982.6 1459.1,982.6 1459.7,982.4C1460.2,982.2 1460.8,981.8 1461.4,981.6C1461.9,981.4 1462.5,981.6 1463.1,981.4C1463.6,981.2 1464.2,980.8 1464.8,980.4C1465.3,980.0 1465.9,979.2 1466.5,978.9C1467.0,978.6 1467.6,978.7 1468.2,978.6C1468.8,978.5 1469.3,978.5 1469.9,978.3C1470.5,978.0 1471.0,977.3 1471.6,977.0C1472.2,976.6 1472.7,976.4 1473.3,976.2C1473.9,976.1 1474.4,976.1 1475.0,976.0C1475.6,975.9 1476.2,975.6 1476.8,975.4C1477.4,975.3 1478.0,975.4 1478.6,975.1C1479.2,974.7 1479.8,973.3 1480.4,973.4C1481.0,973.4 1481.5,975.4 1482.1,975.3C1482.7,975.2 1483.3,973.2 1483.9,972.8C1484.5,972.3 1485.1,972.7 1485.7,972.7C1486.3,972.6 1486.9,972.3 1487.5,972.4C1488.1,972.5 1488.7,973.5 1489.3,973.5C1489.9,973.6 1490.5,973.1 1491.1,972.9C1491.7,972.7 1492.3,972.6 1492.9,972.1C1493.5,971.6 1494.0,970.3 1494.6,969.8C1495.2,969.3 1495.8,968.9 1496.4,969.0C1497.0,969.1 1497.6,970.5 1498.2,970.6C1498.8,970.7 1499.4,969.7 1500.0,969.5C1500.6,969.3 1501.2,969.4 1501.8,969.2C1502.4,969.0 1503.0,968.4 1503.6,968.2C1504.2,967.9 1504.8,967.6 1505.4,967.7C1506.0,967.9 1506.5,968.9 1507.1,969.0C1507.7,969.2 1508.3,968.8 1508.9,968.6C1509.5,968.5 1510.1,968.4 1510.7,968.3C1511.3,968.2 1511.9,968.4 1512.5,968.2C1513.1,967.9 1513.7,967.0 1514.3,966.9C1514.9,966.7 1515.5,967.1 1516.1,967.1C1516.7,967.1 1517.3,966.5 1517.9,966.6C1518.5,966.8 1519.0,967.8 1519.6,968.0C1520.2,968.1 1520.8,967.7 1521.4,967.5C1522.0,967.3 1522.6,966.9 1523.2,966.7C1523.8,966.4 1524.4,966.0 1525.0,966.0C1525.6,966.0 1526.2,967.0 1526.8,966.7C1527.4,966.5 1528.0,964.9 1528.6,964.6C1529.2,964.3 1529.8,964.7 1530.4,964.7C1531.0,964.8 1531.5,964.9 1532.1,964.8C1532.7,964.8 1533.3,964.4 1533.9,964.5C1534.5,964.6 1535.1,964.9 1535.7,965.4C1536.3,965.8 1536.9,967.1 1537.5,967.1C1538.1,967.0 1538.7,965.2 1539.3,964.9C1539.9,964.7 1540.5,965.4 1541.1,965.7C1541.7,966.0 1542.3,966.8 1542.9,966.8C1543.5,966.8 1544.0,965.8 1544.6,965.6C1545.2,965.4 1545.8,965.5 1546.4,965.6C1547.0,965.7 1547.6,966.2 1548.2,966.2C1548.8,966.2 1549.4,965.5 1550.0,965.5C1550.6,965.5 1551.2,966.2 1551.8,966.1C1552.4,965.9 1553.0,964.4 1553.6,964.5C1554.2,964.5 1554.8,965.9 1555.4,966.4C1556.0,966.9 1556.5,967.3 1557.1,967.2C1557.7,967.1 1558.3,965.8 1558.9,965.8C1559.5,965.8 1560.1,966.8 1560.7,967.1C1561.3,967.5 1561.9,968.1 1562.5,967.9C1563.1,967.7 1563.7,966.1 1564.3,966.0C1564.9,966.0 1565.5,967.6 1566.1,967.5C1566.7,967.5 1567.3,966.3 1567.9,966.0C1568.5,965.7 1569.0,965.7 1569.6,965.8C1570.2,965.9 1570.8,966.3 1571.4,966.6C1572.0,966.8 1572.6,967.3 1573.2,967.5C1573.8,967.6 1574.4,967.6 1575.0,967.5C1575.6,967.4 1576.3,966.6 1577.0,966.9C1577.7,967.3 1578.3,969.5 1579.0,969.5C1579.7,969.6 1580.3,967.3 1581.0,967.3C1581.7,967.3 1582.3,969.3 1583.0,969.6C1583.7,969.9 1584.3,969.0 1585.0,969.0C1585.7,969.0 1586.3,969.5 1587.0,969.8C1587.7,970.2 1588.3,970.6 1589.0,971.2C1589.7,971.8 1590.3,972.9 1591.0,973.4C1591.7,973.9 1592.3,974.1 1593.0,974.4C1593.7,974.6 1594.2,974.6 1595.0,975.0C1595.8,975.4 1596.7,975.9 1597.5,976.9C1598.3,977.9 1599.3,980.2 1600.0,981.0C1600.7,981.8 1601.2,981.3 1601.8,981.7C1602.4,982.0 1603.0,982.7 1603.6,983.2C1604.2,983.7 1604.8,984.2 1605.4,984.8C1606.0,985.4 1606.5,986.6 1607.1,986.7C1607.7,986.9 1608.3,985.6 1608.9,985.6C1609.5,985.6 1610.1,986.4 1610.7,987.0C1611.3,987.5 1611.8,987.5 1612.5,989.0C1613.2,990.5 1614.2,993.8 1615.0,996.1C1615.8,998.3 1616.8,1001.0 1617.5,1002.5C1618.2,1004.0 1618.8,1004.1 1619.4,1005.2C1620.0,1006.3 1620.6,1008.2 1621.2,1008.9C1621.9,1009.6 1622.5,1008.9 1623.1,1009.5C1623.8,1010.1 1624.4,1011.1 1625.0,1012.5C1625.6,1013.9 1626.3,1016.2 1627.0,1018.1C1627.7,1020.0 1628.3,1021.9 1629.0,1024.1C1629.7,1026.2 1630.3,1028.8 1631.0,1031.0C1631.7,1033.2 1632.3,1035.0 1633.0,1037.4C1633.7,1039.7 1634.2,1042.2 1635.0,1045.0C1635.8,1047.8 1636.7,1050.5 1637.5,1053.9C1638.3,1057.2 1639.2,1061.3 1640.0,1065.0C1640.8,1068.7 1641.7,1072.6 1642.5,1076.3C1643.3,1080.1 1644.3,1084.9 1645.0,1087.5C1645.7,1090.1 1646.2,1090.6 1646.9,1091.9C1647.5,1093.2 1648.1,1094.3 1648.8,1095.5C1649.4,1096.8 1650.0,1097.9 1650.6,1099.3C1651.2,1100.7 1651.9,1103.1 1652.5,1104.0C1653.1,1104.9 1653.8,1104.5 1654.4,1104.6C1655.0,1104.8 1655.6,1105.0 1656.2,1105.0C1656.9,1105.1 1657.5,1104.9 1658.1,1104.9C1658.8,1104.9 1659.4,1105.3 1660.0,1105.0C1660.6,1104.7 1661.2,1103.6 1661.8,1103.0C1662.4,1102.5 1663.0,1102.0 1663.6,1101.6C1664.2,1101.3 1664.8,1101.5 1665.4,1101.0C1666.0,1100.6 1666.5,1099.5 1667.1,1098.9C1667.7,1098.3 1668.3,1097.9 1668.9,1097.5C1669.5,1097.1 1670.1,1096.9 1670.7,1096.4C1671.3,1096.0 1671.9,1095.5 1672.5,1095.0C1673.1,1094.5 1673.7,1093.6 1674.3,1093.1C1674.9,1092.7 1675.5,1093.0 1676.1,1092.5C1676.7,1092.1 1677.3,1091.2 1677.9,1090.6C1678.5,1090.0 1679.0,1089.2 1679.6,1088.9C1680.2,1088.5 1680.8,1088.9 1681.4,1088.4C1682.0,1087.9 1682.6,1086.4 1683.2,1085.8C1683.8,1085.3 1684.4,1085.1 1685.0,1085.0C1685.6,1084.9 1686.2,1084.9 1686.8,1085.0C1687.4,1085.1 1688.0,1085.8 1688.6,1085.8C1689.2,1085.9 1689.8,1085.4 1690.4,1085.5C1691.0,1085.6 1691.5,1086.3 1692.1,1086.5C1692.7,1086.8 1693.3,1086.9 1693.9,1086.9C1694.5,1086.9 1695.1,1086.5 1695.7,1086.6C1696.3,1086.7 1696.9,1087.7 1697.5,1087.5C1698.1,1087.3 1698.7,1086.3 1699.3,1085.6C1699.9,1084.9 1700.5,1084.1 1701.1,1083.3C1701.7,1082.5 1702.3,1081.4 1702.9,1080.7C1703.5,1080.1 1704.0,1079.9 1704.6,1079.3C1705.2,1078.7 1705.8,1078.1 1706.4,1077.3C1707.0,1076.4 1707.6,1075.0 1708.2,1074.2C1708.8,1073.4 1709.4,1073.0 1710.0,1072.5C1710.6,1072.0 1711.2,1071.9 1711.8,1071.5C1712.4,1071.0 1713.0,1070.5 1713.6,1069.9C1714.2,1069.3 1714.8,1068.5 1715.4,1067.9C1716.0,1067.3 1716.5,1066.7 1717.1,1066.3C1717.7,1066.0 1718.3,1066.1 1718.9,1065.7C1719.5,1065.4 1720.1,1064.6 1720.7,1064.0C1721.3,1063.5 1721.9,1063.2 1722.5,1062.5C1723.1,1061.8 1723.8,1060.5 1724.5,1059.6C1725.2,1058.6 1725.8,1057.9 1726.5,1057.0C1727.2,1056.2 1727.8,1055.2 1728.5,1054.4C1729.2,1053.7 1729.8,1053.2 1730.5,1052.4C1731.2,1051.7 1731.8,1051.9 1732.5,1050.0C1733.2,1048.1 1734.2,1044.1 1735.0,1041.1C1735.8,1038.2 1736.8,1034.5 1737.5,1032.5C1738.2,1030.5 1738.8,1030.2 1739.5,1029.3C1740.2,1028.4 1740.8,1028.0 1741.5,1026.9C1742.2,1025.9 1742.8,1024.0 1743.5,1023.0C1744.2,1022.1 1744.8,1022.0 1745.5,1021.0C1746.2,1020.1 1746.9,1018.7 1747.5,1017.5C1748.1,1016.3 1748.8,1015.2 1749.4,1014.0C1750.0,1012.8 1750.6,1011.6 1751.2,1010.4C1751.9,1009.2 1752.5,1008.0 1753.1,1006.7C1753.8,1005.4 1754.4,1002.9 1755.0,1002.5C1755.6,1002.1 1756.2,1003.9 1756.9,1004.5C1757.5,1005.1 1758.1,1005.7 1758.8,1006.2C1759.4,1006.7 1760.0,1007.0 1760.6,1007.4C1761.2,1007.9 1761.9,1008.2 1762.5,1008.7C1763.1,1009.3 1763.8,1010.3 1764.4,1010.9C1765.0,1011.4 1765.6,1011.5 1766.2,1011.9C1766.9,1012.2 1767.5,1012.6 1768.1,1013.2C1768.8,1013.7 1769.3,1013.4 1770.0,1015.0C1770.7,1016.6 1771.7,1020.3 1772.5,1022.8C1773.3,1025.3 1774.2,1028.3 1775.0,1030.0C1775.8,1031.7 1776.3,1032.3 1777.0,1033.3C1777.7,1034.2 1778.3,1034.6 1779.0,1035.5C1779.7,1036.4 1780.3,1037.5 1781.0,1038.6C1781.7,1039.6 1782.3,1040.9 1783.0,1041.8C1783.7,1042.7 1784.3,1043.5 1785.0,1044.0C1785.7,1044.5 1786.3,1044.8 1787.0,1045.0C1787.7,1045.2 1788.3,1044.9 1789.0,1045.1C1789.7,1045.3 1790.3,1046.0 1791.0,1046.3C1791.7,1046.5 1792.3,1046.1 1793.0,1046.3C1793.7,1046.5 1794.4,1047.0 1795.0,1047.5C1795.6,1048.0 1796.1,1048.6 1796.7,1049.3C1797.3,1050.0 1797.9,1051.0 1798.4,1051.7C1799.0,1052.4 1799.6,1052.9 1800.2,1053.5C1800.7,1054.1 1801.3,1054.9 1801.9,1055.4C1802.4,1055.9 1803.0,1055.7 1803.6,1056.3C1804.2,1056.9 1804.7,1058.4 1805.3,1059.1C1805.9,1059.7 1806.5,1059.5 1807.0,1060.1C1807.6,1060.7 1808.2,1062.6 1808.8,1062.5C1809.3,1062.4 1810.0,1060.7 1810.6,1059.5C1811.2,1058.4 1811.9,1056.9 1812.5,1055.7C1813.1,1054.4 1813.8,1053.2 1814.4,1052.1C1815.0,1051.0 1815.6,1050.1 1816.2,1049.0C1816.9,1047.9 1817.5,1046.5 1818.1,1045.5C1818.8,1044.4 1819.4,1042.5 1820.0,1042.5C1820.6,1042.5 1821.2,1044.5 1821.8,1045.3C1822.4,1046.0 1823.0,1046.4 1823.6,1047.1C1824.2,1047.8 1824.8,1048.5 1825.4,1049.5C1826.0,1050.5 1826.5,1052.0 1827.1,1053.1C1827.7,1054.1 1828.3,1054.8 1828.9,1055.6C1829.5,1056.4 1830.1,1056.9 1830.7,1057.6C1831.3,1058.4 1831.8,1059.5 1832.5,1060.0C1833.2,1060.5 1834.2,1060.4 1835.0,1060.4C1835.8,1060.4 1836.8,1060.8 1837.5,1060.0C1838.2,1059.2 1838.8,1056.9 1839.5,1055.3C1840.2,1053.8 1840.8,1052.1 1841.5,1050.7C1842.2,1049.3 1842.8,1048.4 1843.5,1046.9C1844.2,1045.5 1844.8,1043.5 1845.5,1042.0C1846.2,1040.4 1846.8,1038.5 1847.5,1037.5C1848.2,1036.5 1848.8,1036.6 1849.5,1036.1C1850.2,1035.6 1850.8,1035.1 1851.5,1034.5C1852.2,1033.9 1852.8,1033.0 1853.5,1032.6C1854.2,1032.2 1854.8,1032.5 1855.5,1032.1C1856.2,1031.6 1856.9,1030.3 1857.5,1030.0C1858.1,1029.7 1858.8,1030.1 1859.4,1030.3C1860.0,1030.4 1860.6,1030.8 1861.2,1031.0C1861.9,1031.2 1862.5,1031.1 1863.1,1031.3C1863.8,1031.6 1864.4,1032.2 1865.0,1032.5C1865.6,1032.8 1866.3,1033.0 1867.0,1033.3C1867.7,1033.5 1868.3,1033.8 1869.0,1033.9C1869.7,1034.1 1870.3,1034.1 1871.0,1034.2C1871.7,1034.4 1872.3,1034.4 1873.0,1034.7C1873.7,1035.0 1874.4,1036.2 1875.0,1036.0C1875.6,1035.8 1876.2,1034.3 1876.8,1033.7C1877.4,1033.1 1878.0,1033.2 1878.6,1032.6C1879.2,1031.9 1879.8,1030.4 1880.4,1029.8C1881.0,1029.1 1881.5,1029.3 1882.1,1028.6C1882.7,1028.0 1883.3,1026.8 1883.9,1026.1C1884.5,1025.4 1885.1,1024.8 1885.7,1024.2C1886.3,1023.6 1886.9,1023.5 1887.5,1022.5C1888.1,1021.5 1888.8,1019.7 1889.4,1018.0C1890.0,1016.3 1890.6,1014.3 1891.2,1012.5C1891.9,1010.7 1892.5,1008.7 1893.1,1007.0C1893.8,1005.4 1894.4,1003.9 1895.0,1002.5C1895.6,1001.1 1896.3,1000.1 1897.0,998.6C1897.7,997.1 1898.3,995.1 1899.0,993.7C1899.7,992.2 1900.4,990.4 1901.0,990.0C1901.6,989.6 1902.2,991.1 1902.8,991.5C1903.4,991.8 1904.0,991.6 1904.6,992.0C1905.2,992.4 1905.8,993.3 1906.4,993.6C1907.0,993.9 1907.6,993.3 1908.2,993.6C1908.8,993.8 1909.4,994.9 1910.0,995.0C1910.6,995.1 1911.2,994.4 1911.9,993.9C1912.5,993.4 1913.1,992.3 1913.8,991.9C1914.4,991.5 1915.0,991.8 1915.6,991.5C1916.2,991.2 1916.9,990.7 1917.5,990.0C1918.1,989.3 1918.8,988.2 1919.5,987.2C1920.2,986.2 1920.8,984.9 1921.5,984.0C1922.2,983.0 1922.8,982.4 1923.5,981.5C1924.2,980.5 1924.8,979.2 1925.5,978.1C1926.2,977.1 1926.8,975.8 1927.5,975.0C1928.2,974.2 1928.8,973.9 1929.4,973.6C1930.1,973.3 1930.7,973.4 1931.4,972.9C1932.0,972.5 1932.6,971.6 1933.3,971.1C1933.9,970.6 1934.6,970.3 1935.2,969.9C1935.9,969.6 1936.5,969.5 1937.1,969.1C1937.8,968.7 1938.4,968.0 1939.1,967.5C1939.7,966.9 1940.3,965.3 1941.0,966.0C1941.7,966.7 1942.4,969.8 1943.2,971.6C1943.9,973.4 1944.6,975.0 1945.3,976.8C1946.1,978.6 1946.8,981.0 1947.5,982.5C1948.2,984.0 1948.8,984.9 1949.5,985.9C1950.2,986.9 1950.8,987.4 1951.5,988.4C1952.2,989.3 1952.8,990.4 1953.5,991.6C1954.2,992.7 1954.8,994.0 1955.5,995.0C1956.2,996.0 1956.8,995.7 1957.5,997.5C1958.2,999.3 1958.8,1002.9 1959.5,1005.6C1960.2,1008.3 1960.8,1010.9 1961.5,1013.5C1962.2,1016.1 1962.8,1018.6 1963.5,1021.2C1964.2,1023.9 1964.8,1026.6 1965.5,1029.4C1966.2,1032.1 1966.8,1035.4 1967.5,1037.5C1968.2,1039.6 1968.8,1040.5 1969.5,1041.8C1970.2,1043.2 1970.8,1044.3 1971.5,1045.7C1972.2,1047.0 1972.8,1048.5 1973.5,1049.9C1974.2,1051.3 1974.8,1052.6 1975.5,1053.9C1976.2,1055.2 1976.8,1057.0 1977.5,1057.5C1978.2,1058.0 1978.8,1056.7 1979.5,1056.7C1980.2,1056.7 1980.8,1057.6 1981.5,1057.5C1982.2,1057.4 1982.8,1056.3 1983.5,1056.1C1984.2,1055.9 1984.8,1056.3 1985.5,1056.3C1986.2,1056.3 1986.9,1055.8 1987.5,1056.0C1988.1,1056.2 1988.7,1057.0 1989.3,1057.6C1989.9,1058.2 1990.5,1058.8 1991.1,1059.4C1991.7,1060.1 1992.3,1060.9 1992.9,1061.4C1993.5,1062.0 1994.0,1062.2 1994.6,1062.6C1995.2,1063.1 1995.8,1063.8 1996.4,1064.3C1997.0,1064.8 1997.6,1065.2 1998.2,1065.7C1998.8,1066.2 1999.4,1067.0 2000.0,1067.5C2000.6,1068.0 2001.3,1068.1 2001.9,1068.6C2002.6,1069.2 2003.2,1070.3 2003.9,1070.9C2004.5,1071.4 2005.1,1071.3 2005.8,1071.9C2006.4,1072.4 2007.1,1073.4 2007.7,1074.1C2008.4,1074.7 2009.0,1075.0 2009.6,1075.5C2010.3,1076.0 2010.9,1076.3 2011.6,1076.9C2012.2,1077.5 2012.9,1078.5 2013.5,1079.0C2014.1,1079.5 2014.8,1079.7 2015.4,1079.9C2016.1,1080.2 2016.7,1080.4 2017.4,1080.5C2018.0,1080.7 2018.6,1080.6 2019.3,1080.8C2019.9,1080.9 2020.6,1081.2 2021.2,1081.3C2021.9,1081.5 2022.5,1081.5 2023.1,1081.7C2023.8,1081.8 2024.4,1081.9 2025.1,1082.0C2025.7,1082.2 2026.4,1082.5 2027.0,1082.5C2027.6,1082.5 2028.2,1082.0 2028.7,1081.9C2029.3,1081.7 2029.9,1081.6 2030.5,1081.5C2031.0,1081.4 2031.6,1081.5 2032.2,1081.3C2032.8,1081.0 2033.3,1080.4 2033.9,1080.2C2034.5,1080.0 2035.1,1080.1 2035.6,1079.9C2036.2,1079.7 2036.8,1079.4 2037.4,1079.2C2037.9,1079.0 2038.5,1078.8 2039.1,1078.7C2039.7,1078.5 2040.2,1078.4 2040.8,1078.1C2041.4,1077.8 2042.0,1077.2 2042.5,1076.9C2043.1,1076.6 2043.7,1076.6 2044.3,1076.4C2044.8,1076.3 2045.4,1076.0 2046.0,1076.0C2046.6,1076.0 2047.3,1076.1 2048.0,1076.3C2048.7,1076.6 2049.3,1077.3 2050.0,1077.5C2050.7,1077.8 2051.3,1077.5 2052.0,1077.7C2052.7,1077.9 2053.3,1078.6 2054.0,1078.8C2054.7,1079.0 2055.4,1079.0 2056.0,1079.0C2056.6,1079.0 2057.2,1078.7 2057.8,1078.6C2058.4,1078.5 2059.0,1078.5 2059.6,1078.4C2060.2,1078.3 2060.8,1078.3 2061.4,1078.2C2062.0,1078.1 2062.5,1078.0 2063.1,1077.8C2063.7,1077.5 2064.3,1077.1 2064.9,1076.8C2065.5,1076.5 2066.1,1076.2 2066.7,1076.0C2067.3,1075.9 2067.9,1076.0 2068.5,1076.0C2069.1,1076.0 2069.7,1076.1 2070.3,1076.0C2070.9,1075.9 2071.5,1075.4 2072.1,1075.2C2072.7,1075.1 2073.3,1075.2 2073.9,1075.1C2074.5,1075.0 2075.0,1074.7 2075.6,1074.6C2076.2,1074.5 2076.8,1074.6 2077.4,1074.5C2078.0,1074.5 2078.6,1074.3 2079.2,1074.2C2079.8,1074.1 2080.4,1074.3 2081.0,1074.0C2081.6,1073.7 2082.2,1073.1 2082.8,1072.6C2083.4,1072.1 2084.0,1071.5 2084.6,1070.9C2085.2,1070.4 2085.8,1069.9 2086.5,1069.2C2087.1,1068.5 2087.7,1067.6 2088.3,1066.9C2088.9,1066.3 2089.5,1065.8 2090.1,1065.3C2090.7,1064.8 2091.3,1064.4 2091.9,1063.9C2092.5,1063.4 2093.1,1062.7 2093.7,1062.2C2094.3,1061.6 2094.9,1061.1 2095.5,1060.6C2096.2,1060.1 2096.8,1059.8 2097.4,1059.3C2098.0,1058.8 2098.6,1058.2 2099.2,1057.6C2099.8,1057.1 2100.4,1056.3 2101.0,1056.0C2101.6,1055.7 2102.2,1056.1 2102.9,1056.0C2103.5,1055.8 2104.1,1055.1 2104.8,1055.1C2105.4,1055.1 2106.0,1055.8 2106.6,1055.8C2107.2,1055.8 2107.9,1055.3 2108.5,1055.2C2109.1,1055.1 2109.8,1055.3 2110.4,1055.1C2111.0,1055.0 2111.6,1054.5 2112.2,1054.4C2112.9,1054.2 2113.5,1054.3 2114.1,1054.2C2114.8,1054.2 2115.4,1054.4 2116.0,1054.0C2116.6,1053.6 2117.2,1052.7 2117.9,1051.9C2118.5,1051.2 2119.1,1050.2 2119.8,1049.4C2120.4,1048.7 2121.0,1048.3 2121.6,1047.5C2122.2,1046.8 2122.9,1045.7 2123.5,1044.8C2124.1,1044.0 2124.8,1043.1 2125.4,1042.4C2126.0,1041.8 2126.6,1041.8 2127.2,1041.0C2127.9,1040.2 2128.5,1038.6 2129.1,1037.8C2129.8,1036.9 2130.4,1036.1 2131.0,1036.0C2131.6,1035.9 2132.2,1036.7 2132.8,1037.1C2133.4,1037.5 2134.0,1038.2 2134.6,1038.6C2135.2,1039.1 2135.8,1039.4 2136.4,1039.7C2137.0,1040.0 2137.5,1040.0 2138.1,1040.5C2138.7,1040.9 2139.3,1041.7 2139.9,1042.2C2140.5,1042.7 2141.1,1043.1 2141.7,1043.4C2142.3,1043.7 2142.9,1044.3 2143.5,1044.0C2144.1,1043.7 2144.8,1042.3 2145.4,1041.7C2146.0,1041.1 2146.6,1041.0 2147.2,1040.4C2147.9,1039.8 2148.5,1038.9 2149.1,1038.1C2149.8,1037.4 2150.4,1036.8 2151.0,1036.0C2151.6,1035.2 2152.2,1034.3 2152.8,1033.2C2153.4,1032.2 2154.0,1030.9 2154.6,1029.6C2155.2,1028.4 2155.8,1026.7 2156.4,1025.6C2157.0,1024.5 2157.5,1024.0 2158.1,1023.0C2158.7,1022.0 2159.3,1020.7 2159.9,1019.4C2160.5,1018.2 2161.1,1016.6 2161.7,1015.5C2162.3,1014.3 2162.9,1013.0 2163.5,1012.5C2164.1,1012.0 2164.8,1012.6 2165.4,1012.5C2166.0,1012.4 2166.6,1012.0 2167.2,1011.8C2167.9,1011.7 2168.5,1011.7 2169.1,1011.6C2169.8,1011.6 2170.4,1011.8 2171.0,1011.8C2171.6,1011.8 2172.2,1011.6 2172.9,1011.5C2173.5,1011.4 2174.1,1011.2 2174.8,1011.0C2175.4,1010.8 2176.0,1010.3 2176.6,1010.1C2177.2,1010.0 2177.9,1010.0 2178.5,1010.0C2179.1,1010.0 2179.6,1010.1 2180.2,1010.2C2180.8,1010.3 2181.4,1010.7 2181.9,1010.6C2182.5,1010.6 2183.1,1009.7 2183.7,1009.7C2184.2,1009.7 2184.8,1010.6 2185.4,1010.6C2185.9,1010.7 2186.5,1010.0 2187.1,1010.0C2187.7,1010.0 2188.2,1010.5 2188.8,1010.5C2189.4,1010.6 2190.0,1010.2 2190.5,1010.3C2191.1,1010.4 2191.7,1011.0 2192.2,1011.1C2192.8,1011.2 2193.4,1010.8 2194.0,1010.7C2194.5,1010.7 2195.1,1010.7 2195.7,1010.7C2196.3,1010.7 2196.8,1010.5 2197.4,1010.5C2198.0,1010.4 2198.6,1010.4 2199.1,1010.4C2199.7,1010.3 2200.3,1010.4 2200.8,1010.2C2201.4,1010.1 2202.0,1008.9 2202.6,1009.4C2203.1,1009.9 2203.7,1012.9 2204.3,1013.1C2204.9,1013.4 2205.4,1011.3 2206.0,1011.0C2206.6,1010.7 2207.2,1010.8 2207.8,1011.2C2208.4,1011.5 2209.0,1012.6 2209.6,1012.8C2210.2,1013.1 2210.8,1012.1 2211.4,1012.7C2212.0,1013.3 2212.5,1016.0 2213.1,1016.6C2213.7,1017.2 2214.3,1016.4 2214.9,1016.1C2215.5,1015.7 2216.1,1014.2 2216.7,1014.4C2217.3,1014.7 2217.9,1017.3 2218.5,1017.5C2219.1,1017.7 2219.6,1015.4 2220.2,1015.5C2220.8,1015.5 2221.4,1017.4 2221.9,1017.6C2222.5,1017.7 2223.1,1016.4 2223.6,1016.2C2224.2,1015.9 2224.8,1015.7 2225.3,1016.0C2225.9,1016.3 2226.5,1017.7 2227.1,1017.9C2227.6,1018.1 2228.2,1017.5 2228.8,1017.2C2229.3,1017.0 2229.9,1016.3 2230.5,1016.4C2231.0,1016.5 2231.6,1017.3 2232.2,1017.9C2232.8,1018.5 2233.3,1019.8 2233.9,1019.9C2234.5,1020.0 2235.0,1019.2 2235.6,1018.7C2236.2,1018.2 2236.7,1016.8 2237.3,1016.8C2237.9,1016.7 2238.5,1018.1 2239.0,1018.3C2239.6,1018.5 2240.2,1017.6 2240.7,1017.8C2241.3,1018.1 2241.9,1019.4 2242.4,1019.8C2243.0,1020.2 2243.6,1020.1 2244.2,1020.2C2244.7,1020.3 2245.3,1020.5 2245.9,1020.3C2246.4,1020.1 2247.0,1018.9 2247.6,1019.0C2248.1,1019.0 2248.7,1020.3 2249.3,1020.3C2249.9,1020.3 2250.4,1019.4 2251.0,1019.0C2251.6,1018.6 2252.2,1018.0 2252.8,1018.1C2253.4,1018.3 2253.9,1019.6 2254.5,1019.9C2255.1,1020.2 2255.7,1019.7 2256.3,1020.0C2256.9,1020.3 2257.5,1021.5 2258.1,1021.5C2258.6,1021.5 2259.2,1020.3 2259.8,1020.1C2260.4,1019.9 2261.0,1020.1 2261.6,1020.2C2262.2,1020.3 2262.8,1020.9 2263.4,1020.6C2263.9,1020.4 2264.5,1019.3 2265.1,1018.9C2265.7,1018.5 2266.3,1018.2 2266.9,1018.3C2267.5,1018.3 2268.1,1019.2 2268.6,1019.2C2269.2,1019.2 2269.8,1018.0 2270.4,1018.1C2271.0,1018.2 2271.6,1019.4 2272.2,1020.0C2272.8,1020.7 2273.4,1021.7 2273.9,1022.1C2274.5,1022.5 2275.1,1022.5 2275.7,1022.4C2276.3,1022.4 2276.9,1022.2 2277.5,1022.0C2278.1,1021.9 2278.6,1021.6 2279.2,1021.4C2279.8,1021.3 2280.4,1020.8 2281.0,1021.0C2281.6,1021.2 2282.3,1022.1 2283.0,1022.4C2283.7,1022.6 2284.3,1022.0 2285.0,1022.5C2285.7,1022.9 2286.3,1024.8 2287.0,1025.1C2287.7,1025.5 2288.3,1024.1 2289.0,1024.5C2289.7,1024.9 2290.4,1027.3 2291.0,1027.5C2291.6,1027.7 2292.2,1026.0 2292.9,1025.9C2293.5,1025.7 2294.1,1027.0 2294.8,1026.6C2295.4,1026.1 2296.0,1024.2 2296.6,1023.4C2297.2,1022.6 2297.9,1022.1 2298.5,1021.9C2299.1,1021.7 2299.8,1022.3 2300.4,1022.0C2301.0,1021.7 2301.6,1020.4 2302.2,1020.2C2302.9,1019.9 2303.5,1020.9 2304.1,1020.7C2304.8,1020.5 2305.4,1019.6 2306.0,1019.0C2306.6,1018.4 2307.2,1017.1 2307.8,1016.9C2308.4,1016.6 2309.0,1017.1 2309.6,1017.5C2310.2,1018.0 2310.8,1019.5 2311.4,1019.5C2312.0,1019.4 2312.5,1017.7 2313.1,1017.2C2313.7,1016.6 2314.3,1016.5 2314.9,1016.2C2315.5,1015.9 2316.1,1015.2 2316.7,1015.1C2317.3,1015.1 2317.9,1016.0 2318.5,1015.8C2319.1,1015.7 2319.7,1014.3 2320.3,1014.4C2320.9,1014.4 2321.5,1016.5 2322.1,1016.0C2322.7,1015.5 2323.3,1011.7 2323.9,1011.2C2324.5,1010.7 2325.0,1012.8 2325.6,1013.0C2326.2,1013.3 2326.8,1013.4 2327.4,1012.9C2328.0,1012.5 2328.6,1010.6 2329.2,1010.3C2329.8,1009.9 2330.4,1010.8 2331.0,1011.0C2331.6,1011.2 2332.2,1011.3 2332.8,1011.2C2333.4,1011.0 2334.0,1010.3 2334.6,1010.0C2335.2,1009.7 2335.8,1009.4 2336.5,1009.2C2337.1,1009.0 2337.7,1009.2 2338.3,1008.7C2338.9,1008.2 2339.5,1006.8 2340.1,1006.2C2340.7,1005.6 2341.3,1005.5 2341.9,1005.1C2342.5,1004.6 2343.1,1004.0 2343.7,1003.4C2344.3,1002.8 2344.9,1001.8 2345.5,1001.6C2346.2,1001.3 2346.8,1002.5 2347.4,1002.1C2348.0,1001.7 2348.6,999.6 2349.2,999.1C2349.8,998.6 2350.4,999.7 2351.0,999.0C2351.6,998.3 2352.2,995.4 2352.8,995.1C2353.3,994.8 2353.9,997.6 2354.5,997.4C2355.1,997.1 2355.7,994.5 2356.2,993.6C2356.8,992.7 2357.4,992.2 2358.0,991.9C2358.6,991.5 2359.2,992.3 2359.8,991.7C2360.3,991.1 2360.9,989.4 2361.5,988.3C2362.1,987.2 2362.7,986.1 2363.2,985.0C2363.8,983.9 2364.4,982.3 2365.0,981.7C2365.6,981.1 2366.2,981.8 2366.8,981.5C2367.3,981.3 2367.9,980.3 2368.5,980.0C2369.1,979.7 2369.7,979.6 2370.3,979.7C2370.9,979.8 2371.5,980.7 2372.1,980.6C2372.7,980.5 2373.3,979.6 2373.9,979.0C2374.5,978.5 2375.0,978.2 2375.6,977.5C2376.2,976.7 2376.8,975.2 2377.4,974.5C2378.0,973.9 2378.6,973.5 2379.2,973.6C2379.8,973.7 2380.4,974.5 2381.0,975.0C2381.6,975.5 2382.3,976.4 2383.0,976.4C2383.7,976.5 2384.3,975.1 2385.0,975.6C2385.7,976.0 2386.3,978.4 2387.0,979.1C2387.7,979.7 2388.3,979.4 2389.0,979.6C2389.7,979.7 2390.7,979.9 2391.0,980.0"/></g>
<rect x="161.75" y="32.00" width="2234.75" height="1300.00" fill="none" stroke="#000" stroke-width="9.5"/>
<text transform="translate(503.5,502.0) rotate(-90)" font-size="70" textLength="461.0" stroke="#000" stroke-width="1.2" lengthAdjust="spacingAndGlyphs">OH Stretching</text>
<text transform="translate(1644.0,299.0) rotate(-90)" font-size="73" textLength="255.0" stroke="#000" stroke-width="1.2" lengthAdjust="spacingAndGlyphs">Amide I</text>
<text transform="translate(1706.0,326.0) rotate(-90)" font-size="73" textLength="282.0" stroke="#000" stroke-width="1.2" lengthAdjust="spacingAndGlyphs">Amide II</text>
<text transform="translate(1864.0,352.0) rotate(-90)" font-size="73" textLength="308.0" stroke="#000" stroke-width="1.2" lengthAdjust="spacingAndGlyphs">Amide III</text>
<text x="2259.0" y="294.0" font-size="110" font-weight="bold">a</text>
<text x="2252.0" y="588.0" font-size="116" font-weight="bold">b</text>
<text x="2262.2" y="774.0" font-size="110" font-weight="bold">c</text>
<text x="2254.0" y="1005.5" font-size="113" font-weight="bold">d</text>
<text x="160.25" y="1468.5" font-size="81" text-anchor="middle" textLength="156.0" lengthAdjust="spacingAndGlyphs">4000</text>
<text x="479.50" y="1468.5" font-size="81" text-anchor="middle" textLength="156.0" lengthAdjust="spacingAndGlyphs">3500</text>
<text x="798.75" y="1468.5" font-size="81" text-anchor="middle" textLength="156.0" lengthAdjust="spacingAndGlyphs">3000</text>
<text x="1118.00" y="1468.5" font-size="81" text-anchor="middle" textLength="156.0" lengthAdjust="spacingAndGlyphs">2500</text>
<text x="1437.25" y="1468.5" font-size="81" text-anchor="middle" textLength="156.0" lengthAdjust="spacingAndGlyphs">2000</text>
<text x="1756.50" y="1468.5" font-size="81" text-anchor="middle" textLength="156.0" lengthAdjust="spacingAndGlyphs">1500</text>
<text x="2075.75" y="1468.5" font-size="81" text-anchor="middle" textLength="156.0" lengthAdjust="spacingAndGlyphs">1000</text>
<text x="2395.00" y="1468.5" font-size="81" text-anchor="middle" textLength="120.0" lengthAdjust="spacingAndGlyphs">500</text>
<text y="1579" font-size="82" font-weight="bold"><tspan x="923.5" textLength="503.0" lengthAdjust="spacingAndGlyphs">Wavenumbers</tspan><tspan x="1448.0" font-size="71" dy="-7.3">(</tspan><tspan x="1474.0" dy="7.3" textLength="99.0" lengthAdjust="spacingAndGlyphs">cm</tspan><tspan x="1573.5" font-size="50" dy="-24">-1</tspan><tspan x="1618.0" font-size="71" dy="16.7">)</tspan></text>
<text transform="translate(91,1039) rotate(-90)" font-size="81" font-weight="bold"><tspan x="0" textLength="500.0" lengthAdjust="spacingAndGlyphs">Transmittance</tspan><tspan x="499.5" textLength="150.0" lengthAdjust="spacingAndGlyphs"> (%)</tspan></text>
</svg>
</body></html>
